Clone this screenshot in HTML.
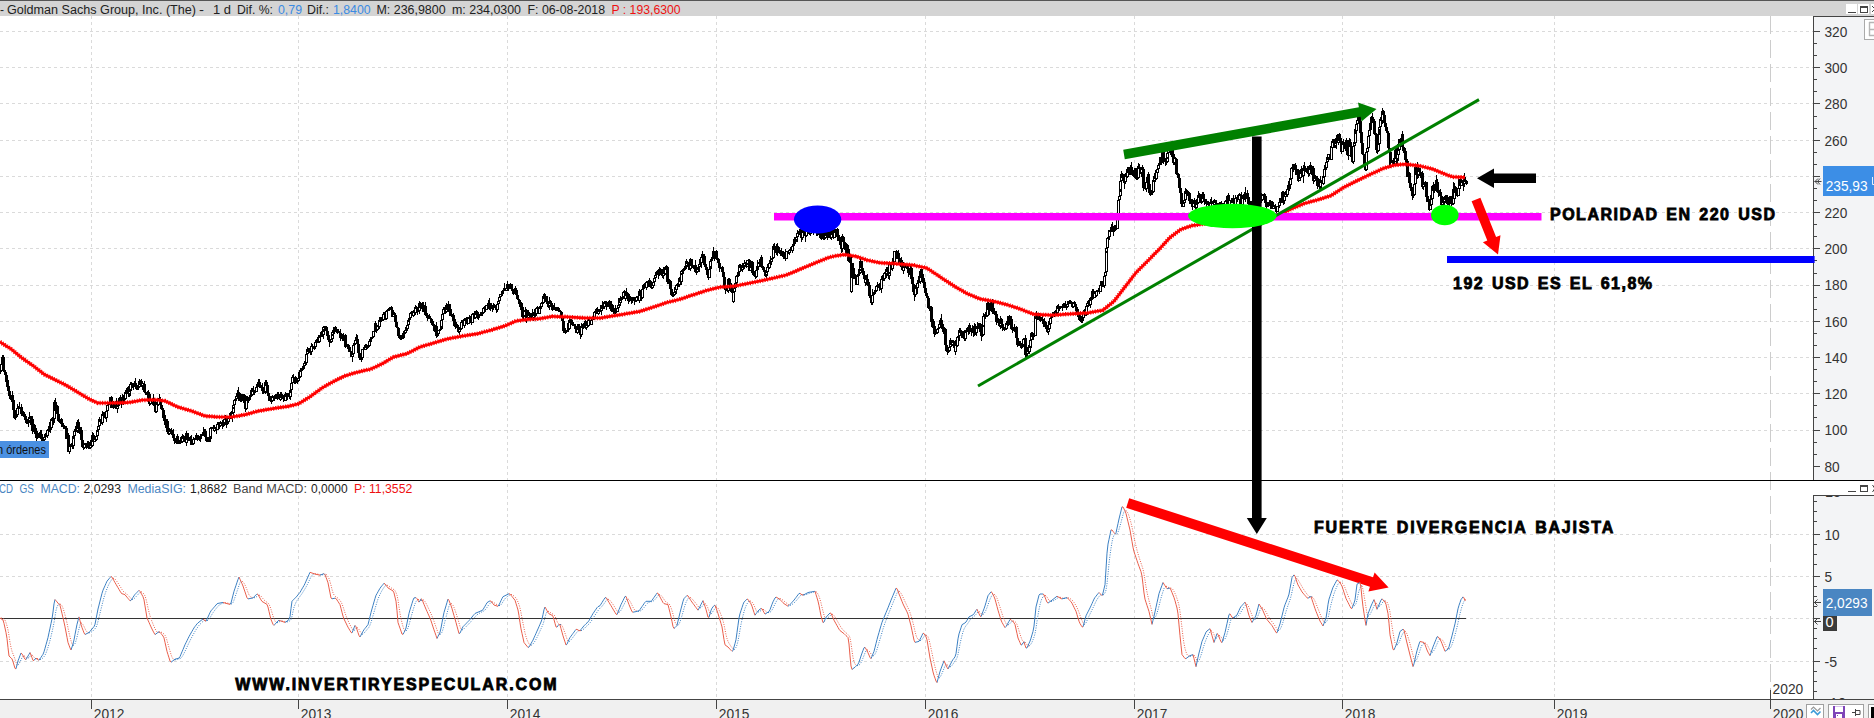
<!DOCTYPE html><html><head><meta charset="utf-8"><title>Goldman Sachs Group chart</title>
<style>html,body{margin:0;padding:0;background:#fff;}body{width:1874px;height:718px;overflow:hidden;position:relative;font-family:"Liberation Sans",sans-serif;}svg{position:absolute;left:0;top:0;display:block}text{font-family:"Liberation Sans",sans-serif;}</style></head><body>
<svg width="1874" height="718" viewBox="0 0 1874 718">
<rect x="0" y="0" width="1874" height="718" fill="#ffffff"/>
<path d="M91.5 16V699M298.5 16V699M507.5 16V699M716.5 16V699M925.5 16V699M1134.5 16V699M1342.5 16V699M1554.5 16V699M0 31.5H1813M0 67.5H1813M0 103.5H1813M0 140.5H1813M0 176.5H1813M0 212.5H1813M0 248.5H1813M0 285.5H1813M0 321.5H1813M0 357.5H1813M0 393.5H1813M0 430.5H1813M0 534.5H1813M0 576.5H1813M0 618.5H1813M0 661.5H1813" stroke="#dadada" stroke-width="1" stroke-dasharray="3 3" fill="none" shape-rendering="crispEdges"/>
<path d="M1770.5 16V699" stroke="#cccccc" stroke-width="1" stroke-dasharray="18 6" fill="none" shape-rendering="crispEdges"/>
<rect x="0" y="0" width="1874" height="16" fill="#d4d4d4"/>
<rect x="0" y="0" width="1874" height="1" fill="#555555"/>
<g fill="#000" shape-rendering="crispEdges"><rect x="0" y="370" width="1" height="4"/><rect x="-1" y="371" width="3" height="1"/><rect x="1" y="363" width="1" height="8"/><rect x="0" y="364" width="3" height="7"/><rect x="1" y="365" width="1" height="5" fill="#fff"/><rect x="2" y="361" width="1" height="5"/><rect x="1" y="363" width="3" height="1"/><rect x="2" y="355" width="1" height="13"/><rect x="1" y="357" width="3" height="6"/><rect x="2" y="358" width="1" height="4" fill="#fff"/><rect x="3" y="355" width="1" height="16"/><rect x="2" y="357" width="3" height="13"/><rect x="4" y="367" width="1" height="7"/><rect x="3" y="370" width="3" height="2"/><rect x="5" y="371" width="1" height="7"/><rect x="4" y="372" width="3" height="3"/><rect x="6" y="374" width="1" height="9"/><rect x="5" y="375" width="3" height="7"/><rect x="7" y="382" width="1" height="6"/><rect x="6" y="382" width="3" height="5"/><rect x="7" y="385" width="1" height="3"/><rect x="6" y="386" width="3" height="1"/><rect x="8" y="380" width="1" height="15"/><rect x="7" y="386" width="3" height="5"/><rect x="9" y="390" width="1" height="7"/><rect x="8" y="391" width="3" height="5"/><rect x="10" y="391" width="1" height="9"/><rect x="9" y="396" width="3" height="3"/><rect x="11" y="396" width="1" height="6"/><rect x="10" y="398" width="3" height="1"/><rect x="12" y="391" width="1" height="8"/><rect x="11" y="395" width="3" height="3"/><rect x="12" y="396" width="1" height="1" fill="#fff"/><rect x="12" y="391" width="1" height="10"/><rect x="11" y="395" width="3" height="5"/><rect x="13" y="399" width="1" height="12"/><rect x="12" y="400" width="3" height="10"/><rect x="14" y="409" width="1" height="10"/><rect x="13" y="410" width="3" height="8"/><rect x="15" y="417" width="1" height="3"/><rect x="14" y="417" width="3" height="1"/><rect x="16" y="411" width="1" height="7"/><rect x="15" y="413" width="3" height="4"/><rect x="16" y="414" width="1" height="2" fill="#fff"/><rect x="16" y="413" width="1" height="5"/><rect x="15" y="413" width="3" height="2"/><rect x="17" y="404" width="1" height="13"/><rect x="16" y="408" width="3" height="7"/><rect x="17" y="409" width="1" height="5" fill="#fff"/><rect x="18" y="406" width="1" height="4"/><rect x="17" y="408" width="3" height="1"/><rect x="19" y="402" width="1" height="7"/><rect x="18" y="407" width="3" height="1"/><rect x="20" y="407" width="1" height="4"/><rect x="19" y="407" width="3" height="1"/><rect x="21" y="404" width="1" height="6"/><rect x="20" y="407" width="3" height="2"/><rect x="21" y="407" width="1" height="9"/><rect x="20" y="409" width="3" height="5"/><rect x="22" y="409" width="1" height="6"/><rect x="21" y="412" width="3" height="2"/><rect x="23" y="411" width="1" height="5"/><rect x="22" y="412" width="3" height="4"/><rect x="24" y="414" width="1" height="6"/><rect x="23" y="416" width="3" height="1"/><rect x="25" y="414" width="1" height="8"/><rect x="24" y="416" width="3" height="3"/><rect x="26" y="419" width="1" height="3"/><rect x="25" y="419" width="3" height="1"/><rect x="26" y="419" width="1" height="4"/><rect x="25" y="420" width="3" height="3"/><rect x="26" y="423" width="3" height="1"/><rect x="28" y="417" width="1" height="10"/><rect x="27" y="421" width="3" height="2"/><rect x="29" y="412" width="1" height="11"/><rect x="28" y="417" width="3" height="4"/><rect x="29" y="418" width="1" height="2" fill="#fff"/><rect x="30" y="416" width="1" height="6"/><rect x="29" y="417" width="3" height="2"/><rect x="31" y="419" width="1" height="7"/><rect x="30" y="419" width="3" height="6"/><rect x="31" y="416" width="1" height="10"/><rect x="30" y="419" width="3" height="6"/><rect x="31" y="420" width="1" height="4" fill="#fff"/><rect x="32" y="416" width="1" height="18"/><rect x="31" y="419" width="3" height="12"/><rect x="33" y="428" width="1" height="4"/><rect x="32" y="429" width="3" height="2"/><rect x="34" y="424" width="1" height="9"/><rect x="33" y="428" width="3" height="1"/><rect x="35" y="425" width="1" height="7"/><rect x="34" y="428" width="3" height="4"/><rect x="35" y="430" width="1" height="5"/><rect x="34" y="432" width="3" height="2"/><rect x="36" y="433" width="1" height="9"/><rect x="35" y="434" width="3" height="4"/><rect x="37" y="431" width="1" height="8"/><rect x="36" y="433" width="3" height="5"/><rect x="37" y="434" width="1" height="3" fill="#fff"/><rect x="38" y="433" width="1" height="5"/><rect x="37" y="433" width="3" height="4"/><rect x="39" y="434" width="1" height="4"/><rect x="38" y="437" width="3" height="1"/><rect x="40" y="430" width="1" height="7"/><rect x="39" y="432" width="3" height="5"/><rect x="40" y="433" width="1" height="3" fill="#fff"/><rect x="40" y="430" width="1" height="5"/><rect x="39" y="432" width="3" height="2"/><rect x="41" y="430" width="1" height="12"/><rect x="40" y="434" width="3" height="5"/><rect x="42" y="439" width="1" height="2"/><rect x="41" y="439" width="3" height="1"/><rect x="43" y="440" width="1" height="3"/><rect x="42" y="440" width="3" height="1"/><rect x="44" y="436" width="1" height="5"/><rect x="43" y="437" width="3" height="3"/><rect x="44" y="438" width="1" height="1" fill="#fff"/><rect x="45" y="433" width="1" height="6"/><rect x="44" y="436" width="3" height="1"/><rect x="45" y="434" width="1" height="5"/><rect x="44" y="434" width="3" height="2"/><rect x="46" y="434" width="1" height="3"/><rect x="45" y="434" width="3" height="2"/><rect x="47" y="429" width="1" height="9"/><rect x="46" y="430" width="3" height="6"/><rect x="47" y="431" width="1" height="4" fill="#fff"/><rect x="48" y="426" width="1" height="6"/><rect x="47" y="430" width="3" height="1"/><rect x="49" y="429" width="1" height="3"/><rect x="48" y="430" width="3" height="1"/><rect x="50" y="419" width="1" height="14"/><rect x="49" y="422" width="3" height="8"/><rect x="50" y="423" width="1" height="6" fill="#fff"/><rect x="50" y="422" width="1" height="8"/><rect x="49" y="422" width="3" height="6"/><rect x="51" y="418" width="1" height="11"/><rect x="50" y="420" width="3" height="8"/><rect x="51" y="421" width="1" height="6" fill="#fff"/><rect x="52" y="417" width="1" height="6"/><rect x="51" y="420" width="3" height="1"/><rect x="53" y="419" width="1" height="6"/><rect x="52" y="419" width="3" height="1"/><rect x="54" y="400" width="1" height="23"/><rect x="53" y="403" width="3" height="16"/><rect x="54" y="404" width="1" height="14" fill="#fff"/><rect x="54" y="400" width="1" height="6"/><rect x="53" y="402" width="3" height="1"/><rect x="55" y="398" width="1" height="16"/><rect x="54" y="402" width="3" height="9"/><rect x="56" y="405" width="1" height="8"/><rect x="55" y="406" width="3" height="5"/><rect x="56" y="407" width="1" height="3" fill="#fff"/><rect x="57" y="405" width="1" height="10"/><rect x="56" y="406" width="3" height="8"/><rect x="58" y="409" width="1" height="13"/><rect x="57" y="414" width="3" height="7"/><rect x="59" y="417" width="1" height="6"/><rect x="58" y="420" width="3" height="1"/><rect x="59" y="418" width="1" height="3"/><rect x="58" y="420" width="3" height="1"/><rect x="60" y="419" width="1" height="5"/><rect x="59" y="419" width="3" height="1"/><rect x="61" y="418" width="1" height="9"/><rect x="60" y="419" width="3" height="5"/><rect x="62" y="422" width="1" height="5"/><rect x="61" y="424" width="3" height="2"/><rect x="63" y="423" width="1" height="6"/><rect x="62" y="426" width="3" height="1"/><rect x="64" y="425" width="1" height="4"/><rect x="63" y="426" width="3" height="1"/><rect x="64" y="426" width="1" height="3"/><rect x="63" y="426" width="3" height="2"/><rect x="65" y="428" width="1" height="3"/><rect x="64" y="428" width="3" height="1"/><rect x="66" y="426" width="1" height="13"/><rect x="65" y="428" width="3" height="11"/><rect x="67" y="432" width="1" height="8"/><rect x="66" y="435" width="3" height="4"/><rect x="67" y="436" width="1" height="2" fill="#fff"/><rect x="68" y="433" width="1" height="15"/><rect x="67" y="435" width="3" height="11"/><rect x="68" y="445" width="1" height="7"/><rect x="67" y="446" width="3" height="6"/><rect x="69" y="442" width="1" height="12"/><rect x="68" y="446" width="3" height="6"/><rect x="69" y="447" width="1" height="4" fill="#fff"/><rect x="70" y="444" width="1" height="5"/><rect x="69" y="446" width="3" height="1"/><rect x="71" y="443" width="1" height="4"/><rect x="70" y="446" width="3" height="1"/><rect x="72" y="445" width="1" height="4"/><rect x="71" y="446" width="3" height="1"/><rect x="73" y="436" width="1" height="13"/><rect x="72" y="438" width="3" height="8"/><rect x="73" y="439" width="1" height="6" fill="#fff"/><rect x="73" y="435" width="1" height="4"/><rect x="72" y="436" width="3" height="2"/><rect x="74" y="430" width="1" height="8"/><rect x="73" y="431" width="3" height="5"/><rect x="74" y="432" width="1" height="3" fill="#fff"/><rect x="75" y="426" width="1" height="7"/><rect x="74" y="429" width="3" height="2"/><rect x="76" y="427" width="1" height="5"/><rect x="75" y="429" width="3" height="2"/><rect x="77" y="420" width="1" height="13"/><rect x="76" y="422" width="3" height="9"/><rect x="77" y="423" width="1" height="7" fill="#fff"/><rect x="78" y="419" width="1" height="7"/><rect x="77" y="422" width="3" height="4"/><rect x="78" y="425" width="1" height="5"/><rect x="77" y="426" width="3" height="3"/><rect x="79" y="428" width="1" height="6"/><rect x="78" y="429" width="3" height="4"/><rect x="80" y="427" width="1" height="9"/><rect x="79" y="430" width="3" height="3"/><rect x="80" y="431" width="1" height="1" fill="#fff"/><rect x="81" y="427" width="1" height="15"/><rect x="80" y="430" width="3" height="10"/><rect x="82" y="439" width="1" height="4"/><rect x="81" y="440" width="3" height="2"/><rect x="82" y="442" width="1" height="6"/><rect x="81" y="442" width="3" height="5"/><rect x="83" y="447" width="1" height="3"/><rect x="82" y="447" width="3" height="1"/><rect x="84" y="443" width="1" height="6"/><rect x="83" y="444" width="3" height="4"/><rect x="84" y="445" width="1" height="2" fill="#fff"/><rect x="85" y="443" width="1" height="3"/><rect x="84" y="444" width="3" height="1"/><rect x="86" y="444" width="1" height="5"/><rect x="85" y="445" width="3" height="3"/><rect x="87" y="443" width="1" height="5"/><rect x="86" y="444" width="3" height="4"/><rect x="87" y="445" width="1" height="2" fill="#fff"/><rect x="87" y="441" width="1" height="5"/><rect x="86" y="443" width="3" height="1"/><rect x="88" y="441" width="1" height="8"/><rect x="87" y="443" width="3" height="4"/><rect x="89" y="446" width="1" height="3"/><rect x="88" y="447" width="3" height="1"/><rect x="90" y="440" width="1" height="9"/><rect x="89" y="442" width="3" height="6"/><rect x="90" y="443" width="1" height="4" fill="#fff"/><rect x="91" y="440" width="1" height="7"/><rect x="90" y="442" width="3" height="4"/><rect x="92" y="433" width="1" height="14"/><rect x="91" y="435" width="3" height="11"/><rect x="92" y="436" width="1" height="9" fill="#fff"/><rect x="92" y="432" width="1" height="5"/><rect x="91" y="435" width="3" height="1"/><rect x="93" y="433" width="1" height="10"/><rect x="92" y="435" width="3" height="7"/><rect x="93" y="438" width="3" height="4"/><rect x="94" y="439" width="1" height="2" fill="#fff"/><rect x="95" y="437" width="1" height="3"/><rect x="94" y="438" width="3" height="2"/><rect x="96" y="434" width="1" height="7"/><rect x="95" y="436" width="3" height="4"/><rect x="96" y="437" width="1" height="2" fill="#fff"/><rect x="97" y="429" width="1" height="10"/><rect x="96" y="431" width="3" height="5"/><rect x="97" y="432" width="1" height="3" fill="#fff"/><rect x="97" y="429" width="1" height="2"/><rect x="96" y="430" width="3" height="1"/><rect x="98" y="424" width="1" height="7"/><rect x="97" y="426" width="3" height="4"/><rect x="98" y="427" width="1" height="2" fill="#fff"/><rect x="99" y="417" width="1" height="12"/><rect x="98" y="419" width="3" height="7"/><rect x="99" y="420" width="1" height="5" fill="#fff"/><rect x="99" y="419" width="3" height="3"/><rect x="101" y="419" width="1" height="3"/><rect x="100" y="420" width="3" height="2"/><rect x="101" y="417" width="1" height="7"/><rect x="100" y="420" width="3" height="3"/><rect x="102" y="411" width="1" height="14"/><rect x="101" y="414" width="3" height="9"/><rect x="102" y="415" width="1" height="7" fill="#fff"/><rect x="103" y="412" width="1" height="7"/><rect x="102" y="414" width="3" height="2"/><rect x="104" y="412" width="1" height="6"/><rect x="103" y="414" width="3" height="2"/><rect x="105" y="413" width="1" height="6"/><rect x="104" y="414" width="3" height="1"/><rect x="106" y="413" width="1" height="5"/><rect x="105" y="414" width="3" height="4"/><rect x="106" y="410" width="1" height="12"/><rect x="105" y="411" width="3" height="7"/><rect x="106" y="412" width="1" height="5" fill="#fff"/><rect x="106" y="405" width="3" height="6"/><rect x="107" y="406" width="1" height="4" fill="#fff"/><rect x="108" y="403" width="1" height="2"/><rect x="107" y="404" width="3" height="1"/><rect x="109" y="400" width="1" height="4"/><rect x="108" y="403" width="3" height="1"/><rect x="110" y="397" width="1" height="11"/><rect x="109" y="397" width="3" height="6"/><rect x="110" y="398" width="1" height="4" fill="#fff"/><rect x="111" y="396" width="1" height="7"/><rect x="110" y="397" width="3" height="3"/><rect x="111" y="400" width="1" height="8"/><rect x="110" y="400" width="3" height="7"/><rect x="112" y="404" width="1" height="4"/><rect x="111" y="405" width="3" height="2"/><rect x="113" y="401" width="1" height="8"/><rect x="112" y="403" width="3" height="2"/><rect x="114" y="402" width="1" height="6"/><rect x="113" y="403" width="3" height="1"/><rect x="115" y="401" width="1" height="6"/><rect x="114" y="403" width="3" height="1"/><rect x="116" y="399" width="1" height="9"/><rect x="115" y="401" width="3" height="3"/><rect x="116" y="402" width="1" height="1" fill="#fff"/><rect x="116" y="398" width="1" height="11"/><rect x="115" y="401" width="3" height="8"/><rect x="117" y="401" width="1" height="12"/><rect x="116" y="406" width="3" height="3"/><rect x="117" y="407" width="1" height="1" fill="#fff"/><rect x="118" y="403" width="1" height="4"/><rect x="117" y="404" width="3" height="2"/><rect x="119" y="397" width="1" height="7"/><rect x="118" y="398" width="3" height="6"/><rect x="119" y="399" width="1" height="4" fill="#fff"/><rect x="120" y="395" width="1" height="8"/><rect x="119" y="398" width="3" height="1"/><rect x="120" y="396" width="1" height="7"/><rect x="119" y="399" width="3" height="3"/><rect x="121" y="398" width="1" height="10"/><rect x="120" y="400" width="3" height="2"/><rect x="122" y="394" width="1" height="7"/><rect x="121" y="397" width="3" height="3"/><rect x="122" y="398" width="1" height="1" fill="#fff"/><rect x="123" y="395" width="1" height="10"/><rect x="122" y="397" width="3" height="2"/><rect x="124" y="398" width="1" height="4"/><rect x="123" y="399" width="3" height="1"/><rect x="125" y="390" width="1" height="10"/><rect x="124" y="393" width="3" height="6"/><rect x="125" y="394" width="1" height="4" fill="#fff"/><rect x="125" y="392" width="1" height="2"/><rect x="124" y="392" width="3" height="1"/><rect x="126" y="390" width="1" height="3"/><rect x="125" y="390" width="3" height="2"/><rect x="127" y="387" width="1" height="5"/><rect x="126" y="388" width="3" height="2"/><rect x="128" y="386" width="1" height="11"/><rect x="127" y="388" width="3" height="6"/><rect x="129" y="391" width="1" height="6"/><rect x="128" y="391" width="3" height="3"/><rect x="129" y="392" width="1" height="1" fill="#fff"/><rect x="130" y="387" width="1" height="9"/><rect x="129" y="390" width="3" height="1"/><rect x="130" y="382" width="1" height="10"/><rect x="129" y="384" width="3" height="6"/><rect x="130" y="385" width="1" height="4" fill="#fff"/><rect x="131" y="382" width="1" height="4"/><rect x="130" y="384" width="3" height="1"/><rect x="132" y="383" width="1" height="5"/><rect x="131" y="384" width="3" height="2"/><rect x="133" y="384" width="1" height="6"/><rect x="132" y="385" width="3" height="1"/><rect x="134" y="383" width="1" height="3"/><rect x="133" y="385" width="3" height="1"/><rect x="134" y="381" width="1" height="6"/><rect x="133" y="383" width="3" height="3"/><rect x="134" y="384" width="1" height="1" fill="#fff"/><rect x="135" y="378" width="1" height="9"/><rect x="134" y="383" width="3" height="3"/><rect x="136" y="384" width="1" height="6"/><rect x="135" y="386" width="3" height="3"/><rect x="137" y="385" width="1" height="5"/><rect x="136" y="388" width="3" height="1"/><rect x="138" y="386" width="1" height="4"/><rect x="137" y="387" width="3" height="1"/><rect x="139" y="379" width="1" height="8"/><rect x="138" y="381" width="3" height="6"/><rect x="139" y="382" width="1" height="4" fill="#fff"/><rect x="139" y="379" width="1" height="6"/><rect x="138" y="381" width="3" height="3"/><rect x="140" y="380" width="1" height="5"/><rect x="139" y="381" width="3" height="3"/><rect x="140" y="382" width="1" height="1" fill="#fff"/><rect x="141" y="379" width="1" height="8"/><rect x="140" y="381" width="3" height="5"/><rect x="142" y="382" width="1" height="8"/><rect x="141" y="383" width="3" height="3"/><rect x="142" y="384" width="1" height="1" fill="#fff"/><rect x="143" y="383" width="1" height="3"/><rect x="142" y="383" width="3" height="1"/><rect x="144" y="381" width="1" height="4"/><rect x="143" y="384" width="3" height="1"/><rect x="144" y="384" width="1" height="8"/><rect x="143" y="385" width="3" height="7"/><rect x="145" y="388" width="1" height="7"/><rect x="144" y="392" width="3" height="1"/><rect x="146" y="392" width="1" height="3"/><rect x="145" y="393" width="3" height="2"/><rect x="147" y="391" width="1" height="7"/><rect x="146" y="394" width="3" height="1"/><rect x="148" y="392" width="1" height="10"/><rect x="147" y="394" width="3" height="5"/><rect x="148" y="390" width="1" height="11"/><rect x="147" y="394" width="3" height="5"/><rect x="148" y="395" width="1" height="3" fill="#fff"/><rect x="149" y="392" width="1" height="14"/><rect x="148" y="394" width="3" height="10"/><rect x="150" y="396" width="1" height="9"/><rect x="149" y="400" width="3" height="4"/><rect x="150" y="401" width="1" height="2" fill="#fff"/><rect x="151" y="400" width="1" height="3"/><rect x="150" y="400" width="3" height="1"/><rect x="152" y="400" width="1" height="5"/><rect x="151" y="401" width="3" height="1"/><rect x="153" y="394" width="1" height="8"/><rect x="152" y="398" width="3" height="3"/><rect x="153" y="399" width="1" height="1" fill="#fff"/><rect x="153" y="396" width="1" height="6"/><rect x="152" y="398" width="3" height="3"/><rect x="154" y="399" width="1" height="11"/><rect x="153" y="401" width="3" height="5"/><rect x="155" y="405" width="1" height="8"/><rect x="154" y="406" width="3" height="6"/><rect x="156" y="402" width="1" height="11"/><rect x="155" y="404" width="3" height="8"/><rect x="156" y="405" width="1" height="6" fill="#fff"/><rect x="157" y="402" width="1" height="4"/><rect x="156" y="404" width="3" height="1"/><rect x="158" y="403" width="1" height="3"/><rect x="157" y="404" width="3" height="1"/><rect x="158" y="398" width="1" height="8"/><rect x="157" y="399" width="3" height="6"/><rect x="158" y="400" width="1" height="4" fill="#fff"/><rect x="159" y="394" width="1" height="6"/><rect x="158" y="399" width="3" height="1"/><rect x="160" y="397" width="1" height="10"/><rect x="159" y="399" width="3" height="6"/><rect x="161" y="404" width="1" height="5"/><rect x="160" y="405" width="3" height="4"/><rect x="162" y="408" width="1" height="2"/><rect x="161" y="409" width="3" height="1"/><rect x="163" y="408" width="1" height="13"/><rect x="162" y="410" width="3" height="8"/><rect x="163" y="414" width="1" height="6"/><rect x="162" y="415" width="3" height="3"/><rect x="163" y="416" width="1" height="1" fill="#fff"/><rect x="164" y="411" width="1" height="10"/><rect x="163" y="415" width="3" height="4"/><rect x="165" y="416" width="1" height="11"/><rect x="164" y="419" width="3" height="6"/><rect x="166" y="423" width="1" height="9"/><rect x="165" y="425" width="3" height="3"/><rect x="167" y="421" width="1" height="11"/><rect x="166" y="421" width="3" height="7"/><rect x="167" y="422" width="1" height="5" fill="#fff"/><rect x="167" y="419" width="1" height="12"/><rect x="166" y="421" width="3" height="7"/><rect x="168" y="426" width="1" height="9"/><rect x="167" y="428" width="3" height="6"/><rect x="169" y="429" width="1" height="6"/><rect x="168" y="430" width="3" height="4"/><rect x="169" y="431" width="1" height="2" fill="#fff"/><rect x="170" y="429" width="1" height="5"/><rect x="169" y="430" width="3" height="2"/><rect x="171" y="428" width="1" height="7"/><rect x="170" y="432" width="3" height="1"/><rect x="172" y="430" width="1" height="4"/><rect x="171" y="432" width="3" height="1"/><rect x="172" y="432" width="1" height="4"/><rect x="171" y="432" width="3" height="2"/><rect x="173" y="429" width="1" height="11"/><rect x="172" y="434" width="3" height="4"/><rect x="174" y="435" width="1" height="9"/><rect x="173" y="438" width="3" height="3"/><rect x="175" y="440" width="1" height="3"/><rect x="174" y="441" width="3" height="2"/><rect x="176" y="438" width="1" height="6"/><rect x="175" y="440" width="3" height="3"/><rect x="176" y="441" width="1" height="1" fill="#fff"/><rect x="177" y="436" width="1" height="6"/><rect x="176" y="436" width="3" height="4"/><rect x="177" y="437" width="1" height="2" fill="#fff"/><rect x="177" y="434" width="1" height="10"/><rect x="176" y="436" width="3" height="6"/><rect x="178" y="439" width="1" height="5"/><rect x="177" y="442" width="3" height="1"/><rect x="179" y="440" width="1" height="4"/><rect x="178" y="442" width="3" height="1"/><rect x="180" y="441" width="1" height="3"/><rect x="179" y="441" width="3" height="2"/><rect x="181" y="436" width="1" height="7"/><rect x="180" y="437" width="3" height="4"/><rect x="181" y="438" width="1" height="2" fill="#fff"/><rect x="182" y="434" width="1" height="9"/><rect x="181" y="437" width="3" height="5"/><rect x="182" y="435" width="1" height="8"/><rect x="181" y="436" width="3" height="6"/><rect x="182" y="437" width="1" height="4" fill="#fff"/><rect x="183" y="435" width="1" height="4"/><rect x="182" y="436" width="3" height="3"/><rect x="184" y="439" width="1" height="3"/><rect x="183" y="439" width="3" height="2"/><rect x="185" y="440" width="1" height="2"/><rect x="184" y="441" width="3" height="1"/><rect x="186" y="440" width="1" height="5"/><rect x="185" y="441" width="3" height="2"/><rect x="186" y="431" width="1" height="15"/><rect x="185" y="433" width="3" height="10"/><rect x="186" y="434" width="1" height="8" fill="#fff"/><rect x="187" y="433" width="1" height="9"/><rect x="186" y="433" width="3" height="7"/><rect x="188" y="439" width="1" height="2"/><rect x="187" y="440" width="3" height="1"/><rect x="189" y="437" width="1" height="4"/><rect x="188" y="437" width="3" height="3"/><rect x="189" y="438" width="1" height="1" fill="#fff"/><rect x="190" y="436" width="1" height="5"/><rect x="189" y="437" width="3" height="4"/><rect x="191" y="435" width="1" height="9"/><rect x="190" y="439" width="3" height="2"/><rect x="190" y="439" width="3" height="6"/><rect x="192" y="443" width="1" height="2"/><rect x="191" y="444" width="3" height="1"/><rect x="193" y="437" width="1" height="8"/><rect x="192" y="439" width="3" height="5"/><rect x="193" y="440" width="1" height="3" fill="#fff"/><rect x="194" y="438" width="1" height="2"/><rect x="193" y="438" width="3" height="1"/><rect x="195" y="437" width="1" height="3"/><rect x="194" y="438" width="3" height="1"/><rect x="196" y="434" width="1" height="4"/><rect x="195" y="435" width="3" height="3"/><rect x="196" y="436" width="1" height="1" fill="#fff"/><rect x="196" y="433" width="1" height="7"/><rect x="195" y="435" width="3" height="4"/><rect x="197" y="435" width="1" height="6"/><rect x="196" y="437" width="3" height="2"/><rect x="198" y="435" width="1" height="5"/><rect x="197" y="437" width="3" height="3"/><rect x="199" y="436" width="1" height="5"/><rect x="198" y="439" width="3" height="1"/><rect x="200" y="434" width="1" height="8"/><rect x="199" y="437" width="3" height="2"/><rect x="200" y="436" width="1" height="3"/><rect x="199" y="436" width="3" height="1"/><rect x="201" y="434" width="1" height="3"/><rect x="200" y="435" width="3" height="1"/><rect x="202" y="432" width="1" height="3"/><rect x="201" y="434" width="3" height="1"/><rect x="203" y="427" width="1" height="9"/><rect x="202" y="432" width="3" height="2"/><rect x="204" y="429" width="1" height="5"/><rect x="203" y="432" width="3" height="1"/><rect x="205" y="429" width="1" height="4"/><rect x="204" y="431" width="3" height="1"/><rect x="205" y="431" width="1" height="9"/><rect x="204" y="431" width="3" height="6"/><rect x="206" y="437" width="1" height="5"/><rect x="205" y="437" width="3" height="4"/><rect x="207" y="439" width="1" height="3"/><rect x="206" y="440" width="3" height="1"/><rect x="208" y="437" width="1" height="5"/><rect x="207" y="438" width="3" height="2"/><rect x="209" y="438" width="1" height="4"/><rect x="208" y="438" width="3" height="1"/><rect x="210" y="436" width="1" height="6"/><rect x="209" y="437" width="3" height="2"/><rect x="210" y="427" width="1" height="11"/><rect x="209" y="428" width="3" height="9"/><rect x="210" y="429" width="1" height="7" fill="#fff"/><rect x="211" y="427" width="1" height="4"/><rect x="210" y="428" width="3" height="1"/><rect x="212" y="427" width="1" height="2"/><rect x="211" y="427" width="3" height="1"/><rect x="213" y="425" width="1" height="3"/><rect x="212" y="427" width="3" height="1"/><rect x="214" y="425" width="1" height="7"/><rect x="213" y="427" width="3" height="4"/><rect x="214" y="426" width="1" height="6"/><rect x="213" y="428" width="3" height="3"/><rect x="214" y="429" width="1" height="1" fill="#fff"/><rect x="215" y="427" width="1" height="3"/><rect x="214" y="428" width="3" height="1"/><rect x="216" y="429" width="1" height="5"/><rect x="215" y="429" width="3" height="1"/><rect x="217" y="422" width="1" height="8"/><rect x="216" y="424" width="3" height="6"/><rect x="217" y="425" width="1" height="4" fill="#fff"/><rect x="218" y="422" width="1" height="3"/><rect x="217" y="424" width="3" height="1"/><rect x="219" y="423" width="1" height="3"/><rect x="218" y="424" width="3" height="1"/><rect x="219" y="423" width="1" height="6"/><rect x="218" y="424" width="3" height="2"/><rect x="220" y="421" width="1" height="6"/><rect x="219" y="422" width="3" height="4"/><rect x="220" y="423" width="1" height="2" fill="#fff"/><rect x="221" y="422" width="1" height="4"/><rect x="220" y="422" width="3" height="2"/><rect x="222" y="420" width="1" height="9"/><rect x="221" y="424" width="3" height="1"/><rect x="223" y="425" width="1" height="2"/><rect x="222" y="425" width="3" height="1"/><rect x="224" y="421" width="1" height="5"/><rect x="223" y="423" width="3" height="2"/><rect x="224" y="417" width="1" height="8"/><rect x="223" y="419" width="3" height="4"/><rect x="224" y="420" width="1" height="2" fill="#fff"/><rect x="225" y="415" width="1" height="5"/><rect x="224" y="417" width="3" height="2"/><rect x="226" y="417" width="1" height="11"/><rect x="225" y="417" width="3" height="7"/><rect x="227" y="421" width="1" height="4"/><rect x="226" y="422" width="3" height="2"/><rect x="228" y="417" width="1" height="6"/><rect x="227" y="418" width="3" height="4"/><rect x="228" y="419" width="1" height="2" fill="#fff"/><rect x="229" y="418" width="1" height="4"/><rect x="228" y="418" width="3" height="1"/><rect x="229" y="417" width="1" height="3"/><rect x="228" y="417" width="3" height="1"/><rect x="230" y="412" width="1" height="6"/><rect x="229" y="413" width="3" height="4"/><rect x="230" y="414" width="1" height="2" fill="#fff"/><rect x="231" y="411" width="1" height="8"/><rect x="230" y="413" width="3" height="4"/><rect x="232" y="410" width="1" height="12"/><rect x="231" y="413" width="3" height="4"/><rect x="232" y="414" width="1" height="2" fill="#fff"/><rect x="233" y="403" width="1" height="10"/><rect x="232" y="408" width="3" height="5"/><rect x="233" y="409" width="1" height="3" fill="#fff"/><rect x="233" y="401" width="1" height="8"/><rect x="232" y="405" width="3" height="3"/><rect x="233" y="406" width="1" height="1" fill="#fff"/><rect x="234" y="399" width="1" height="8"/><rect x="233" y="400" width="3" height="5"/><rect x="234" y="401" width="1" height="3" fill="#fff"/><rect x="235" y="399" width="1" height="2"/><rect x="234" y="399" width="3" height="1"/><rect x="236" y="395" width="1" height="6"/><rect x="235" y="396" width="3" height="3"/><rect x="236" y="397" width="1" height="1" fill="#fff"/><rect x="237" y="390" width="1" height="8"/><rect x="236" y="393" width="3" height="3"/><rect x="237" y="394" width="1" height="1" fill="#fff"/><rect x="238" y="392" width="1" height="5"/><rect x="237" y="393" width="3" height="1"/><rect x="238" y="387" width="1" height="14"/><rect x="237" y="393" width="3" height="6"/><rect x="239" y="392" width="1" height="9"/><rect x="238" y="394" width="3" height="5"/><rect x="239" y="395" width="1" height="3" fill="#fff"/><rect x="240" y="393" width="1" height="9"/><rect x="239" y="394" width="3" height="6"/><rect x="241" y="394" width="1" height="8"/><rect x="240" y="394" width="3" height="6"/><rect x="241" y="395" width="1" height="4" fill="#fff"/><rect x="241" y="394" width="3" height="6"/><rect x="243" y="399" width="1" height="4"/><rect x="242" y="400" width="3" height="1"/><rect x="243" y="399" width="1" height="2"/><rect x="242" y="399" width="3" height="1"/><rect x="244" y="394" width="1" height="8"/><rect x="243" y="396" width="3" height="3"/><rect x="244" y="397" width="1" height="1" fill="#fff"/><rect x="245" y="395" width="1" height="17"/><rect x="244" y="396" width="3" height="13"/><rect x="246" y="399" width="1" height="11"/><rect x="245" y="400" width="3" height="9"/><rect x="246" y="401" width="1" height="7" fill="#fff"/><rect x="247" y="396" width="1" height="4"/><rect x="246" y="399" width="3" height="1"/><rect x="248" y="398" width="1" height="5"/><rect x="247" y="399" width="3" height="1"/><rect x="248" y="397" width="1" height="4"/><rect x="247" y="398" width="3" height="2"/><rect x="249" y="397" width="1" height="4"/><rect x="248" y="397" width="3" height="1"/><rect x="250" y="392" width="1" height="8"/><rect x="249" y="395" width="3" height="2"/><rect x="251" y="388" width="1" height="9"/><rect x="250" y="390" width="3" height="5"/><rect x="251" y="391" width="1" height="3" fill="#fff"/><rect x="252" y="389" width="1" height="7"/><rect x="251" y="390" width="3" height="5"/><rect x="252" y="388" width="1" height="8"/><rect x="251" y="390" width="3" height="5"/><rect x="252" y="391" width="1" height="3" fill="#fff"/><rect x="253" y="386" width="1" height="6"/><rect x="252" y="390" width="3" height="2"/><rect x="254" y="390" width="1" height="5"/><rect x="253" y="391" width="3" height="1"/><rect x="255" y="389" width="1" height="4"/><rect x="254" y="391" width="3" height="1"/><rect x="256" y="384" width="1" height="8"/><rect x="255" y="387" width="3" height="5"/><rect x="256" y="388" width="1" height="3" fill="#fff"/><rect x="257" y="383" width="1" height="7"/><rect x="256" y="385" width="3" height="2"/><rect x="257" y="385" width="1" height="5"/><rect x="256" y="385" width="3" height="1"/><rect x="258" y="379" width="1" height="7"/><rect x="257" y="382" width="3" height="3"/><rect x="258" y="383" width="1" height="1" fill="#fff"/><rect x="259" y="379" width="1" height="9"/><rect x="258" y="382" width="3" height="4"/><rect x="260" y="385" width="1" height="3"/><rect x="259" y="386" width="3" height="1"/><rect x="261" y="385" width="1" height="4"/><rect x="260" y="386" width="3" height="1"/><rect x="262" y="383" width="1" height="11"/><rect x="261" y="387" width="3" height="4"/><rect x="262" y="388" width="1" height="4"/><rect x="261" y="390" width="3" height="1"/><rect x="263" y="389" width="1" height="5"/><rect x="262" y="390" width="3" height="3"/><rect x="264" y="391" width="1" height="2"/><rect x="263" y="392" width="3" height="1"/><rect x="265" y="380" width="1" height="14"/><rect x="264" y="382" width="3" height="10"/><rect x="265" y="383" width="1" height="8" fill="#fff"/><rect x="266" y="380" width="1" height="6"/><rect x="265" y="382" width="3" height="3"/><rect x="266" y="385" width="1" height="5"/><rect x="265" y="385" width="3" height="1"/><rect x="267" y="384" width="1" height="9"/><rect x="266" y="385" width="3" height="8"/><rect x="268" y="393" width="1" height="4"/><rect x="267" y="393" width="3" height="3"/><rect x="269" y="395" width="1" height="6"/><rect x="268" y="396" width="3" height="5"/><rect x="270" y="399" width="1" height="2"/><rect x="269" y="400" width="3" height="1"/><rect x="271" y="400" width="1" height="3"/><rect x="270" y="400" width="3" height="2"/><rect x="271" y="399" width="1" height="5"/><rect x="270" y="401" width="3" height="1"/><rect x="272" y="395" width="1" height="7"/><rect x="271" y="396" width="3" height="5"/><rect x="272" y="397" width="1" height="3" fill="#fff"/><rect x="273" y="396" width="1" height="3"/><rect x="272" y="396" width="3" height="2"/><rect x="274" y="395" width="1" height="6"/><rect x="273" y="397" width="3" height="1"/><rect x="275" y="396" width="1" height="3"/><rect x="274" y="397" width="3" height="1"/><rect x="276" y="394" width="1" height="5"/><rect x="275" y="394" width="3" height="3"/><rect x="276" y="395" width="1" height="1" fill="#fff"/><rect x="275" y="394" width="3" height="5"/><rect x="277" y="392" width="1" height="8"/><rect x="276" y="394" width="3" height="5"/><rect x="277" y="395" width="1" height="3" fill="#fff"/><rect x="278" y="392" width="1" height="6"/><rect x="277" y="394" width="3" height="4"/><rect x="279" y="394" width="1" height="5"/><rect x="278" y="395" width="3" height="3"/><rect x="279" y="396" width="1" height="1" fill="#fff"/><rect x="280" y="392" width="1" height="8"/><rect x="279" y="395" width="3" height="5"/><rect x="280" y="392" width="1" height="9"/><rect x="279" y="394" width="3" height="6"/><rect x="280" y="395" width="1" height="4" fill="#fff"/><rect x="281" y="392" width="1" height="7"/><rect x="280" y="394" width="3" height="4"/><rect x="282" y="394" width="1" height="5"/><rect x="281" y="395" width="3" height="3"/><rect x="282" y="396" width="1" height="1" fill="#fff"/><rect x="283" y="395" width="1" height="7"/><rect x="282" y="395" width="3" height="4"/><rect x="283" y="399" width="3" height="2"/><rect x="285" y="393" width="1" height="8"/><rect x="284" y="394" width="3" height="7"/><rect x="285" y="395" width="1" height="5" fill="#fff"/><rect x="285" y="392" width="1" height="4"/><rect x="284" y="394" width="3" height="1"/><rect x="286" y="393" width="1" height="4"/><rect x="285" y="395" width="3" height="2"/><rect x="287" y="395" width="1" height="5"/><rect x="286" y="396" width="3" height="1"/><rect x="288" y="393" width="1" height="4"/><rect x="287" y="393" width="3" height="3"/><rect x="288" y="394" width="1" height="1" fill="#fff"/><rect x="289" y="393" width="1" height="6"/><rect x="288" y="393" width="3" height="4"/><rect x="290" y="391" width="1" height="9"/><rect x="289" y="391" width="3" height="6"/><rect x="290" y="392" width="1" height="4" fill="#fff"/><rect x="290" y="389" width="1" height="4"/><rect x="289" y="390" width="3" height="1"/><rect x="291" y="383" width="1" height="8"/><rect x="290" y="383" width="3" height="7"/><rect x="291" y="384" width="1" height="5" fill="#fff"/><rect x="292" y="375" width="1" height="11"/><rect x="291" y="377" width="3" height="6"/><rect x="292" y="378" width="1" height="4" fill="#fff"/><rect x="293" y="374" width="1" height="5"/><rect x="292" y="377" width="3" height="1"/><rect x="294" y="378" width="1" height="6"/><rect x="293" y="378" width="3" height="5"/><rect x="295" y="376" width="1" height="8"/><rect x="294" y="377" width="3" height="6"/><rect x="295" y="378" width="1" height="4" fill="#fff"/><rect x="295" y="376" width="1" height="4"/><rect x="294" y="377" width="3" height="3"/><rect x="295" y="380" width="3" height="2"/><rect x="297" y="378" width="1" height="6"/><rect x="296" y="381" width="3" height="1"/><rect x="298" y="376" width="1" height="6"/><rect x="297" y="378" width="3" height="3"/><rect x="298" y="379" width="1" height="1" fill="#fff"/><rect x="299" y="370" width="1" height="10"/><rect x="298" y="372" width="3" height="6"/><rect x="299" y="373" width="1" height="4" fill="#fff"/><rect x="299" y="371" width="1" height="7"/><rect x="298" y="372" width="3" height="5"/><rect x="300" y="368" width="1" height="9"/><rect x="299" y="371" width="3" height="6"/><rect x="300" y="372" width="1" height="4" fill="#fff"/><rect x="301" y="368" width="1" height="5"/><rect x="300" y="370" width="3" height="1"/><rect x="302" y="367" width="1" height="4"/><rect x="301" y="368" width="3" height="2"/><rect x="303" y="365" width="1" height="4"/><rect x="302" y="366" width="3" height="2"/><rect x="304" y="361" width="1" height="8"/><rect x="303" y="363" width="3" height="3"/><rect x="304" y="364" width="1" height="1" fill="#fff"/><rect x="303" y="363" width="3" height="1"/><rect x="305" y="363" width="1" height="2"/><rect x="304" y="363" width="3" height="1"/><rect x="306" y="354" width="1" height="11"/><rect x="305" y="354" width="3" height="9"/><rect x="306" y="355" width="1" height="7" fill="#fff"/><rect x="307" y="347" width="1" height="8"/><rect x="306" y="349" width="3" height="5"/><rect x="307" y="350" width="1" height="3" fill="#fff"/><rect x="308" y="348" width="1" height="5"/><rect x="307" y="349" width="3" height="3"/><rect x="309" y="350" width="1" height="3"/><rect x="308" y="350" width="3" height="2"/><rect x="309" y="348" width="1" height="4"/><rect x="308" y="350" width="3" height="1"/><rect x="310" y="349" width="1" height="6"/><rect x="309" y="351" width="3" height="1"/><rect x="311" y="343" width="1" height="12"/><rect x="310" y="346" width="3" height="6"/><rect x="311" y="347" width="1" height="4" fill="#fff"/><rect x="312" y="344" width="1" height="8"/><rect x="311" y="346" width="3" height="1"/><rect x="313" y="347" width="1" height="2"/><rect x="312" y="347" width="3" height="1"/><rect x="314" y="346" width="1" height="4"/><rect x="313" y="347" width="3" height="1"/><rect x="314" y="347" width="1" height="3"/><rect x="313" y="347" width="3" height="1"/><rect x="315" y="340" width="1" height="9"/><rect x="314" y="342" width="3" height="5"/><rect x="315" y="343" width="1" height="3" fill="#fff"/><rect x="316" y="339" width="1" height="3"/><rect x="315" y="340" width="3" height="2"/><rect x="317" y="337" width="1" height="6"/><rect x="316" y="340" width="3" height="1"/><rect x="318" y="335" width="1" height="7"/><rect x="317" y="337" width="3" height="4"/><rect x="318" y="338" width="1" height="2" fill="#fff"/><rect x="318" y="336" width="1" height="7"/><rect x="317" y="337" width="3" height="5"/><rect x="319" y="337" width="1" height="6"/><rect x="318" y="337" width="3" height="5"/><rect x="319" y="338" width="1" height="3" fill="#fff"/><rect x="320" y="334" width="1" height="5"/><rect x="319" y="335" width="3" height="2"/><rect x="321" y="331" width="1" height="5"/><rect x="320" y="332" width="3" height="3"/><rect x="321" y="333" width="1" height="1" fill="#fff"/><rect x="322" y="331" width="1" height="6"/><rect x="321" y="332" width="3" height="3"/><rect x="323" y="328" width="1" height="11"/><rect x="322" y="330" width="3" height="5"/><rect x="323" y="331" width="1" height="3" fill="#fff"/><rect x="323" y="326" width="1" height="6"/><rect x="322" y="327" width="3" height="3"/><rect x="323" y="328" width="1" height="1" fill="#fff"/><rect x="324" y="326" width="1" height="3"/><rect x="323" y="327" width="3" height="1"/><rect x="325" y="326" width="1" height="5"/><rect x="324" y="327" width="3" height="1"/><rect x="326" y="326" width="1" height="7"/><rect x="325" y="327" width="3" height="4"/><rect x="327" y="330" width="1" height="10"/><rect x="326" y="331" width="3" height="5"/><rect x="328" y="335" width="1" height="2"/><rect x="327" y="335" width="3" height="1"/><rect x="328" y="334" width="1" height="7"/><rect x="327" y="335" width="3" height="5"/><rect x="329" y="338" width="1" height="9"/><rect x="328" y="340" width="3" height="2"/><rect x="329" y="342" width="3" height="1"/><rect x="330" y="339" width="3" height="3"/><rect x="331" y="340" width="1" height="1" fill="#fff"/><rect x="332" y="335" width="1" height="6"/><rect x="331" y="335" width="3" height="4"/><rect x="332" y="336" width="1" height="2" fill="#fff"/><rect x="332" y="330" width="1" height="6"/><rect x="331" y="332" width="3" height="3"/><rect x="332" y="333" width="1" height="1" fill="#fff"/><rect x="333" y="332" width="1" height="4"/><rect x="332" y="332" width="3" height="1"/><rect x="334" y="327" width="1" height="7"/><rect x="333" y="327" width="3" height="5"/><rect x="334" y="328" width="1" height="3" fill="#fff"/><rect x="335" y="326" width="1" height="6"/><rect x="334" y="327" width="3" height="4"/><rect x="335" y="331" width="3" height="1"/><rect x="337" y="329" width="1" height="4"/><rect x="336" y="331" width="3" height="2"/><rect x="337" y="330" width="1" height="4"/><rect x="336" y="331" width="3" height="2"/><rect x="338" y="329" width="1" height="4"/><rect x="337" y="331" width="3" height="1"/><rect x="339" y="331" width="1" height="3"/><rect x="338" y="332" width="3" height="1"/><rect x="340" y="329" width="1" height="12"/><rect x="339" y="333" width="3" height="5"/><rect x="341" y="335" width="1" height="4"/><rect x="340" y="336" width="3" height="2"/><rect x="342" y="336" width="1" height="4"/><rect x="341" y="336" width="3" height="1"/><rect x="342" y="334" width="1" height="4"/><rect x="341" y="335" width="3" height="2"/><rect x="343" y="333" width="1" height="8"/><rect x="342" y="335" width="3" height="6"/><rect x="344" y="335" width="1" height="8"/><rect x="343" y="335" width="3" height="6"/><rect x="344" y="336" width="1" height="4" fill="#fff"/><rect x="345" y="334" width="1" height="14"/><rect x="344" y="335" width="3" height="12"/><rect x="346" y="344" width="1" height="3"/><rect x="345" y="345" width="3" height="2"/><rect x="346" y="343" width="1" height="4"/><rect x="345" y="345" width="3" height="2"/><rect x="347" y="344" width="1" height="5"/><rect x="346" y="345" width="3" height="2"/><rect x="348" y="344" width="1" height="6"/><rect x="347" y="345" width="3" height="2"/><rect x="349" y="345" width="1" height="7"/><rect x="348" y="347" width="3" height="5"/><rect x="350" y="349" width="1" height="5"/><rect x="349" y="351" width="3" height="1"/><rect x="350" y="351" width="3" height="3"/><rect x="350" y="354" width="3" height="3"/><rect x="352" y="352" width="1" height="10"/><rect x="351" y="354" width="3" height="3"/><rect x="352" y="355" width="1" height="1" fill="#fff"/><rect x="353" y="343" width="1" height="12"/><rect x="352" y="345" width="3" height="9"/><rect x="353" y="346" width="1" height="7" fill="#fff"/><rect x="354" y="343" width="1" height="2"/><rect x="353" y="344" width="3" height="1"/><rect x="355" y="339" width="1" height="5"/><rect x="354" y="340" width="3" height="4"/><rect x="355" y="341" width="1" height="2" fill="#fff"/><rect x="356" y="336" width="1" height="6"/><rect x="355" y="337" width="3" height="3"/><rect x="356" y="338" width="1" height="1" fill="#fff"/><rect x="356" y="334" width="1" height="6"/><rect x="355" y="337" width="3" height="2"/><rect x="357" y="335" width="1" height="11"/><rect x="356" y="339" width="3" height="5"/><rect x="358" y="343" width="1" height="10"/><rect x="357" y="344" width="3" height="9"/><rect x="359" y="352" width="1" height="8"/><rect x="358" y="353" width="3" height="5"/><rect x="359" y="358" width="3" height="2"/><rect x="361" y="355" width="1" height="7"/><rect x="360" y="356" width="3" height="4"/><rect x="361" y="357" width="1" height="2" fill="#fff"/><rect x="361" y="355" width="1" height="5"/><rect x="360" y="356" width="3" height="2"/><rect x="362" y="349" width="1" height="10"/><rect x="361" y="349" width="3" height="9"/><rect x="362" y="350" width="1" height="7" fill="#fff"/><rect x="363" y="347" width="1" height="4"/><rect x="362" y="349" width="3" height="1"/><rect x="364" y="347" width="1" height="3"/><rect x="363" y="349" width="3" height="1"/><rect x="365" y="346" width="1" height="4"/><rect x="364" y="347" width="3" height="3"/><rect x="365" y="348" width="1" height="1" fill="#fff"/><rect x="365" y="344" width="1" height="4"/><rect x="364" y="345" width="3" height="2"/><rect x="366" y="344" width="1" height="5"/><rect x="365" y="345" width="3" height="2"/><rect x="367" y="345" width="1" height="4"/><rect x="366" y="347" width="3" height="1"/><rect x="368" y="345" width="1" height="2"/><rect x="367" y="346" width="3" height="1"/><rect x="369" y="339" width="1" height="8"/><rect x="368" y="341" width="3" height="5"/><rect x="369" y="342" width="1" height="3" fill="#fff"/><rect x="370" y="340" width="1" height="3"/><rect x="369" y="341" width="3" height="1"/><rect x="370" y="338" width="1" height="3"/><rect x="369" y="339" width="3" height="2"/><rect x="371" y="337" width="1" height="3"/><rect x="370" y="337" width="3" height="2"/><rect x="372" y="335" width="1" height="4"/><rect x="371" y="337" width="3" height="1"/><rect x="373" y="331" width="1" height="7"/><rect x="372" y="331" width="3" height="6"/><rect x="373" y="332" width="1" height="4" fill="#fff"/><rect x="374" y="330" width="1" height="3"/><rect x="373" y="331" width="3" height="1"/><rect x="375" y="321" width="1" height="11"/><rect x="374" y="323" width="3" height="8"/><rect x="375" y="324" width="1" height="6" fill="#fff"/><rect x="375" y="322" width="1" height="8"/><rect x="374" y="323" width="3" height="6"/><rect x="376" y="328" width="1" height="5"/><rect x="375" y="329" width="3" height="1"/><rect x="377" y="325" width="1" height="6"/><rect x="376" y="325" width="3" height="5"/><rect x="377" y="326" width="1" height="3" fill="#fff"/><rect x="378" y="325" width="1" height="3"/><rect x="377" y="325" width="3" height="2"/><rect x="379" y="317" width="1" height="12"/><rect x="378" y="320" width="3" height="7"/><rect x="379" y="321" width="1" height="5" fill="#fff"/><rect x="380" y="319" width="1" height="3"/><rect x="379" y="320" width="3" height="2"/><rect x="380" y="317" width="1" height="6"/><rect x="379" y="318" width="3" height="4"/><rect x="380" y="319" width="1" height="2" fill="#fff"/><rect x="381" y="317" width="1" height="4"/><rect x="380" y="318" width="3" height="3"/><rect x="382" y="318" width="1" height="3"/><rect x="381" y="320" width="3" height="1"/><rect x="383" y="312" width="1" height="8"/><rect x="382" y="314" width="3" height="6"/><rect x="383" y="315" width="1" height="4" fill="#fff"/><rect x="384" y="313" width="1" height="6"/><rect x="383" y="314" width="3" height="1"/><rect x="384" y="312" width="1" height="4"/><rect x="383" y="313" width="3" height="1"/><rect x="385" y="311" width="1" height="9"/><rect x="384" y="313" width="3" height="6"/><rect x="386" y="311" width="1" height="9"/><rect x="385" y="311" width="3" height="8"/><rect x="386" y="312" width="1" height="6" fill="#fff"/><rect x="387" y="310" width="1" height="3"/><rect x="386" y="310" width="3" height="1"/><rect x="388" y="308" width="1" height="3"/><rect x="387" y="309" width="3" height="1"/><rect x="389" y="307" width="1" height="3"/><rect x="388" y="309" width="3" height="1"/><rect x="389" y="308" width="1" height="3"/><rect x="388" y="309" width="3" height="1"/><rect x="390" y="307" width="1" height="3"/><rect x="389" y="307" width="3" height="2"/><rect x="391" y="306" width="1" height="6"/><rect x="390" y="307" width="3" height="3"/><rect x="392" y="309" width="1" height="8"/><rect x="391" y="310" width="3" height="7"/><rect x="392" y="314" width="3" height="3"/><rect x="393" y="315" width="1" height="1" fill="#fff"/><rect x="394" y="312" width="1" height="3"/><rect x="393" y="314" width="3" height="1"/><rect x="394" y="313" width="1" height="4"/><rect x="393" y="314" width="3" height="1"/><rect x="395" y="313" width="1" height="11"/><rect x="394" y="315" width="3" height="7"/><rect x="396" y="322" width="1" height="6"/><rect x="395" y="322" width="3" height="5"/><rect x="397" y="325" width="1" height="4"/><rect x="396" y="327" width="3" height="1"/><rect x="398" y="328" width="1" height="8"/><rect x="397" y="328" width="3" height="7"/><rect x="398" y="334" width="1" height="4"/><rect x="397" y="335" width="3" height="1"/><rect x="399" y="334" width="1" height="4"/><rect x="398" y="335" width="3" height="2"/><rect x="400" y="336" width="1" height="4"/><rect x="399" y="337" width="3" height="2"/><rect x="401" y="335" width="1" height="5"/><rect x="400" y="337" width="3" height="2"/><rect x="402" y="336" width="1" height="2"/><rect x="401" y="337" width="3" height="1"/><rect x="403" y="331" width="1" height="8"/><rect x="402" y="334" width="3" height="4"/><rect x="403" y="335" width="1" height="2" fill="#fff"/><rect x="403" y="332" width="1" height="5"/><rect x="402" y="333" width="3" height="1"/><rect x="404" y="332" width="1" height="2"/><rect x="403" y="333" width="3" height="1"/><rect x="405" y="327" width="1" height="6"/><rect x="404" y="330" width="3" height="3"/><rect x="405" y="331" width="1" height="1" fill="#fff"/><rect x="406" y="327" width="1" height="6"/><rect x="405" y="329" width="3" height="1"/><rect x="407" y="324" width="1" height="7"/><rect x="406" y="325" width="3" height="4"/><rect x="407" y="326" width="1" height="2" fill="#fff"/><rect x="408" y="319" width="1" height="6"/><rect x="407" y="321" width="3" height="4"/><rect x="408" y="322" width="1" height="2" fill="#fff"/><rect x="408" y="318" width="1" height="4"/><rect x="407" y="320" width="3" height="1"/><rect x="409" y="316" width="1" height="5"/><rect x="408" y="318" width="3" height="2"/><rect x="410" y="312" width="1" height="7"/><rect x="409" y="313" width="3" height="5"/><rect x="410" y="314" width="1" height="3" fill="#fff"/><rect x="411" y="311" width="1" height="4"/><rect x="410" y="313" width="3" height="1"/><rect x="412" y="312" width="1" height="4"/><rect x="411" y="313" width="3" height="1"/><rect x="411" y="313" width="3" height="3"/><rect x="413" y="310" width="1" height="7"/><rect x="412" y="311" width="3" height="5"/><rect x="413" y="312" width="1" height="3" fill="#fff"/><rect x="414" y="310" width="1" height="5"/><rect x="413" y="311" width="3" height="2"/><rect x="415" y="305" width="1" height="10"/><rect x="414" y="307" width="3" height="6"/><rect x="415" y="308" width="1" height="4" fill="#fff"/><rect x="416" y="306" width="1" height="4"/><rect x="415" y="307" width="3" height="2"/><rect x="417" y="308" width="1" height="6"/><rect x="416" y="309" width="3" height="3"/><rect x="417" y="308" width="1" height="7"/><rect x="416" y="308" width="3" height="4"/><rect x="417" y="309" width="1" height="2" fill="#fff"/><rect x="418" y="305" width="1" height="7"/><rect x="417" y="308" width="3" height="3"/><rect x="419" y="301" width="1" height="13"/><rect x="418" y="303" width="3" height="8"/><rect x="419" y="304" width="1" height="6" fill="#fff"/><rect x="420" y="302" width="1" height="6"/><rect x="419" y="303" width="3" height="5"/><rect x="421" y="305" width="1" height="4"/><rect x="420" y="308" width="3" height="1"/><rect x="422" y="304" width="1" height="4"/><rect x="421" y="307" width="3" height="1"/><rect x="422" y="302" width="1" height="7"/><rect x="421" y="305" width="3" height="2"/><rect x="423" y="302" width="1" height="10"/><rect x="422" y="305" width="3" height="7"/><rect x="424" y="305" width="1" height="7"/><rect x="423" y="306" width="3" height="6"/><rect x="424" y="307" width="1" height="4" fill="#fff"/><rect x="425" y="302" width="1" height="14"/><rect x="424" y="306" width="3" height="9"/><rect x="426" y="313" width="1" height="4"/><rect x="425" y="315" width="3" height="1"/><rect x="427" y="313" width="1" height="6"/><rect x="426" y="315" width="3" height="3"/><rect x="427" y="316" width="1" height="5"/><rect x="426" y="317" width="3" height="1"/><rect x="428" y="315" width="1" height="4"/><rect x="427" y="316" width="3" height="1"/><rect x="429" y="314" width="1" height="4"/><rect x="428" y="316" width="3" height="2"/><rect x="430" y="317" width="1" height="5"/><rect x="429" y="318" width="3" height="1"/><rect x="431" y="318" width="1" height="6"/><rect x="430" y="319" width="3" height="4"/><rect x="431" y="320" width="1" height="5"/><rect x="430" y="321" width="3" height="2"/><rect x="432" y="321" width="1" height="5"/><rect x="431" y="321" width="3" height="3"/><rect x="433" y="324" width="1" height="4"/><rect x="432" y="324" width="3" height="2"/><rect x="434" y="324" width="1" height="8"/><rect x="433" y="326" width="3" height="5"/><rect x="435" y="325" width="1" height="7"/><rect x="434" y="326" width="3" height="5"/><rect x="435" y="327" width="1" height="3" fill="#fff"/><rect x="436" y="322" width="1" height="13"/><rect x="435" y="326" width="3" height="6"/><rect x="436" y="332" width="1" height="6"/><rect x="435" y="332" width="3" height="4"/><rect x="437" y="334" width="1" height="3"/><rect x="436" y="334" width="3" height="2"/><rect x="438" y="330" width="1" height="6"/><rect x="437" y="330" width="3" height="4"/><rect x="438" y="331" width="1" height="2" fill="#fff"/><rect x="439" y="330" width="1" height="4"/><rect x="438" y="330" width="3" height="1"/><rect x="440" y="327" width="1" height="4"/><rect x="439" y="329" width="3" height="1"/><rect x="440" y="327" width="3" height="2"/><rect x="441" y="319" width="1" height="9"/><rect x="440" y="320" width="3" height="7"/><rect x="441" y="321" width="1" height="5" fill="#fff"/><rect x="442" y="313" width="1" height="8"/><rect x="441" y="314" width="3" height="6"/><rect x="442" y="315" width="1" height="4" fill="#fff"/><rect x="443" y="307" width="1" height="7"/><rect x="442" y="309" width="3" height="5"/><rect x="443" y="310" width="1" height="3" fill="#fff"/><rect x="444" y="307" width="1" height="4"/><rect x="443" y="309" width="3" height="1"/><rect x="445" y="307" width="1" height="7"/><rect x="444" y="309" width="3" height="3"/><rect x="446" y="305" width="1" height="8"/><rect x="445" y="305" width="3" height="7"/><rect x="446" y="306" width="1" height="5" fill="#fff"/><rect x="446" y="303" width="1" height="7"/><rect x="445" y="305" width="3" height="4"/><rect x="447" y="306" width="1" height="6"/><rect x="446" y="309" width="3" height="1"/><rect x="448" y="301" width="1" height="10"/><rect x="447" y="304" width="3" height="6"/><rect x="448" y="305" width="1" height="4" fill="#fff"/><rect x="448" y="304" width="3" height="8"/><rect x="450" y="306" width="1" height="7"/><rect x="449" y="309" width="3" height="3"/><rect x="450" y="310" width="1" height="1" fill="#fff"/><rect x="449" y="309" width="3" height="7"/><rect x="451" y="312" width="1" height="5"/><rect x="450" y="314" width="3" height="2"/><rect x="452" y="314" width="1" height="3"/><rect x="451" y="314" width="3" height="1"/><rect x="453" y="313" width="1" height="8"/><rect x="452" y="315" width="3" height="6"/><rect x="454" y="320" width="1" height="7"/><rect x="453" y="321" width="3" height="5"/><rect x="455" y="322" width="1" height="7"/><rect x="454" y="322" width="3" height="4"/><rect x="455" y="323" width="1" height="2" fill="#fff"/><rect x="455" y="319" width="1" height="9"/><rect x="454" y="322" width="3" height="4"/><rect x="456" y="324" width="1" height="4"/><rect x="455" y="325" width="3" height="1"/><rect x="457" y="324" width="1" height="6"/><rect x="456" y="325" width="3" height="2"/><rect x="458" y="325" width="1" height="8"/><rect x="457" y="327" width="3" height="5"/><rect x="459" y="329" width="1" height="6"/><rect x="458" y="329" width="3" height="3"/><rect x="459" y="330" width="1" height="1" fill="#fff"/><rect x="460" y="326" width="1" height="5"/><rect x="459" y="329" width="3" height="1"/><rect x="459" y="329" width="3" height="1"/><rect x="461" y="320" width="1" height="9"/><rect x="460" y="322" width="3" height="7"/><rect x="461" y="323" width="1" height="5" fill="#fff"/><rect x="462" y="320" width="1" height="3"/><rect x="461" y="321" width="3" height="1"/><rect x="463" y="319" width="1" height="3"/><rect x="462" y="321" width="3" height="1"/><rect x="464" y="320" width="1" height="8"/><rect x="463" y="321" width="3" height="5"/><rect x="464" y="318" width="1" height="10"/><rect x="463" y="320" width="3" height="6"/><rect x="464" y="321" width="1" height="4" fill="#fff"/><rect x="465" y="318" width="1" height="3"/><rect x="464" y="319" width="3" height="1"/><rect x="466" y="317" width="1" height="7"/><rect x="465" y="319" width="3" height="2"/><rect x="467" y="320" width="1" height="5"/><rect x="466" y="321" width="3" height="3"/><rect x="467" y="317" width="3" height="7"/><rect x="468" y="318" width="1" height="5" fill="#fff"/><rect x="469" y="315" width="1" height="4"/><rect x="468" y="317" width="3" height="1"/><rect x="469" y="316" width="1" height="3"/><rect x="468" y="318" width="3" height="1"/><rect x="470" y="316" width="1" height="4"/><rect x="469" y="318" width="3" height="2"/><rect x="471" y="318" width="1" height="7"/><rect x="470" y="320" width="3" height="3"/><rect x="472" y="313" width="1" height="10"/><rect x="471" y="314" width="3" height="9"/><rect x="472" y="315" width="1" height="7" fill="#fff"/><rect x="473" y="313" width="1" height="2"/><rect x="472" y="313" width="3" height="1"/><rect x="474" y="311" width="1" height="8"/><rect x="473" y="313" width="3" height="4"/><rect x="474" y="315" width="1" height="4"/><rect x="473" y="317" width="3" height="1"/><rect x="475" y="311" width="1" height="8"/><rect x="474" y="311" width="3" height="7"/><rect x="475" y="312" width="1" height="5" fill="#fff"/><rect x="476" y="310" width="1" height="7"/><rect x="475" y="311" width="3" height="4"/><rect x="477" y="314" width="1" height="5"/><rect x="476" y="315" width="3" height="3"/><rect x="478" y="312" width="1" height="8"/><rect x="477" y="315" width="3" height="3"/><rect x="478" y="316" width="1" height="1" fill="#fff"/><rect x="478" y="313" width="1" height="4"/><rect x="477" y="315" width="3" height="1"/><rect x="479" y="314" width="1" height="3"/><rect x="478" y="315" width="3" height="1"/><rect x="480" y="312" width="1" height="4"/><rect x="479" y="315" width="3" height="1"/><rect x="481" y="313" width="1" height="3"/><rect x="480" y="313" width="3" height="2"/><rect x="482" y="311" width="1" height="5"/><rect x="481" y="312" width="3" height="1"/><rect x="483" y="311" width="1" height="3"/><rect x="482" y="312" width="3" height="1"/><rect x="483" y="307" width="1" height="7"/><rect x="482" y="308" width="3" height="5"/><rect x="483" y="309" width="1" height="3" fill="#fff"/><rect x="484" y="306" width="1" height="3"/><rect x="483" y="308" width="3" height="1"/><rect x="485" y="307" width="1" height="5"/><rect x="484" y="308" width="3" height="2"/><rect x="485" y="305" width="3" height="5"/><rect x="486" y="306" width="1" height="3" fill="#fff"/><rect x="487" y="304" width="1" height="3"/><rect x="486" y="305" width="3" height="1"/><rect x="488" y="303" width="1" height="3"/><rect x="487" y="304" width="3" height="1"/><rect x="488" y="300" width="1" height="5"/><rect x="487" y="303" width="3" height="1"/><rect x="489" y="298" width="1" height="12"/><rect x="488" y="303" width="3" height="6"/><rect x="490" y="304" width="1" height="7"/><rect x="489" y="305" width="3" height="4"/><rect x="490" y="306" width="1" height="2" fill="#fff"/><rect x="491" y="303" width="1" height="6"/><rect x="490" y="305" width="3" height="4"/><rect x="492" y="305" width="1" height="7"/><rect x="491" y="307" width="3" height="2"/><rect x="493" y="303" width="1" height="7"/><rect x="492" y="306" width="3" height="1"/><rect x="493" y="304" width="1" height="3"/><rect x="492" y="305" width="3" height="1"/><rect x="494" y="304" width="1" height="4"/><rect x="493" y="305" width="3" height="2"/><rect x="495" y="305" width="1" height="3"/><rect x="494" y="307" width="3" height="1"/><rect x="496" y="306" width="1" height="7"/><rect x="495" y="307" width="3" height="3"/><rect x="497" y="303" width="1" height="9"/><rect x="496" y="304" width="3" height="6"/><rect x="497" y="305" width="1" height="4" fill="#fff"/><rect x="497" y="302" width="1" height="3"/><rect x="496" y="304" width="3" height="1"/><rect x="498" y="301" width="1" height="4"/><rect x="497" y="301" width="3" height="3"/><rect x="498" y="302" width="1" height="1" fill="#fff"/><rect x="499" y="296" width="1" height="8"/><rect x="498" y="297" width="3" height="4"/><rect x="499" y="298" width="1" height="2" fill="#fff"/><rect x="500" y="294" width="1" height="5"/><rect x="499" y="294" width="3" height="3"/><rect x="500" y="295" width="1" height="1" fill="#fff"/><rect x="501" y="293" width="1" height="2"/><rect x="500" y="294" width="3" height="1"/><rect x="502" y="292" width="1" height="4"/><rect x="501" y="293" width="3" height="1"/><rect x="502" y="290" width="1" height="4"/><rect x="501" y="291" width="3" height="2"/><rect x="503" y="289" width="1" height="4"/><rect x="502" y="290" width="3" height="1"/><rect x="504" y="283" width="1" height="7"/><rect x="503" y="288" width="3" height="2"/><rect x="504" y="288" width="3" height="3"/><rect x="506" y="285" width="1" height="6"/><rect x="505" y="288" width="3" height="3"/><rect x="506" y="289" width="1" height="1" fill="#fff"/><rect x="507" y="283" width="1" height="6"/><rect x="506" y="284" width="3" height="4"/><rect x="507" y="285" width="1" height="2" fill="#fff"/><rect x="507" y="281" width="1" height="6"/><rect x="506" y="284" width="3" height="3"/><rect x="508" y="284" width="1" height="7"/><rect x="507" y="287" width="3" height="1"/><rect x="509" y="285" width="1" height="4"/><rect x="508" y="287" width="3" height="1"/><rect x="510" y="283" width="1" height="4"/><rect x="509" y="284" width="3" height="3"/><rect x="510" y="285" width="1" height="1" fill="#fff"/><rect x="511" y="284" width="1" height="7"/><rect x="510" y="284" width="3" height="5"/><rect x="512" y="289" width="1" height="3"/><rect x="511" y="289" width="3" height="1"/><rect x="512" y="289" width="1" height="5"/><rect x="511" y="289" width="3" height="1"/><rect x="513" y="289" width="1" height="6"/><rect x="512" y="290" width="3" height="3"/><rect x="514" y="288" width="1" height="6"/><rect x="513" y="289" width="3" height="4"/><rect x="514" y="290" width="1" height="2" fill="#fff"/><rect x="515" y="286" width="1" height="6"/><rect x="514" y="289" width="3" height="3"/><rect x="516" y="288" width="1" height="6"/><rect x="515" y="290" width="3" height="2"/><rect x="515" y="290" width="3" height="5"/><rect x="517" y="293" width="1" height="7"/><rect x="516" y="295" width="3" height="4"/><rect x="518" y="298" width="1" height="2"/><rect x="517" y="299" width="3" height="1"/><rect x="519" y="300" width="1" height="7"/><rect x="518" y="300" width="3" height="4"/><rect x="520" y="301" width="1" height="4"/><rect x="519" y="303" width="3" height="1"/><rect x="521" y="302" width="1" height="9"/><rect x="520" y="303" width="3" height="7"/><rect x="521" y="306" width="1" height="5"/><rect x="520" y="307" width="3" height="3"/><rect x="521" y="308" width="1" height="1" fill="#fff"/><rect x="522" y="305" width="1" height="16"/><rect x="521" y="307" width="3" height="10"/><rect x="523" y="315" width="1" height="4"/><rect x="522" y="316" width="3" height="1"/><rect x="524" y="310" width="1" height="7"/><rect x="523" y="311" width="3" height="5"/><rect x="524" y="312" width="1" height="3" fill="#fff"/><rect x="525" y="307" width="1" height="7"/><rect x="524" y="310" width="3" height="1"/><rect x="526" y="309" width="1" height="14"/><rect x="525" y="310" width="3" height="10"/><rect x="526" y="314" width="1" height="9"/><rect x="525" y="315" width="3" height="5"/><rect x="526" y="316" width="1" height="3" fill="#fff"/><rect x="527" y="314" width="1" height="4"/><rect x="526" y="315" width="3" height="3"/><rect x="528" y="310" width="1" height="8"/><rect x="527" y="313" width="3" height="5"/><rect x="528" y="314" width="1" height="3" fill="#fff"/><rect x="529" y="312" width="1" height="5"/><rect x="528" y="313" width="3" height="3"/><rect x="530" y="313" width="1" height="4"/><rect x="529" y="314" width="3" height="2"/><rect x="530" y="314" width="1" height="5"/><rect x="529" y="314" width="3" height="2"/><rect x="531" y="313" width="1" height="4"/><rect x="530" y="314" width="3" height="2"/><rect x="532" y="309" width="1" height="10"/><rect x="531" y="314" width="3" height="4"/><rect x="533" y="312" width="1" height="9"/><rect x="532" y="312" width="3" height="6"/><rect x="533" y="313" width="1" height="4" fill="#fff"/><rect x="534" y="309" width="1" height="9"/><rect x="533" y="312" width="3" height="4"/><rect x="535" y="310" width="1" height="7"/><rect x="534" y="313" width="3" height="3"/><rect x="535" y="314" width="1" height="1" fill="#fff"/><rect x="535" y="313" width="1" height="2"/><rect x="534" y="313" width="3" height="1"/><rect x="536" y="308" width="1" height="7"/><rect x="535" y="308" width="3" height="6"/><rect x="536" y="309" width="1" height="4" fill="#fff"/><rect x="537" y="306" width="1" height="2"/><rect x="536" y="307" width="3" height="1"/><rect x="537" y="307" width="3" height="7"/><rect x="539" y="306" width="1" height="8"/><rect x="538" y="308" width="3" height="6"/><rect x="539" y="309" width="1" height="4" fill="#fff"/><rect x="540" y="307" width="1" height="5"/><rect x="539" y="308" width="3" height="1"/><rect x="540" y="306" width="1" height="3"/><rect x="539" y="307" width="3" height="2"/><rect x="541" y="302" width="1" height="5"/><rect x="540" y="303" width="3" height="4"/><rect x="541" y="304" width="1" height="2" fill="#fff"/><rect x="542" y="301" width="1" height="4"/><rect x="541" y="303" width="3" height="1"/><rect x="543" y="295" width="1" height="8"/><rect x="542" y="296" width="3" height="7"/><rect x="543" y="297" width="1" height="5" fill="#fff"/><rect x="544" y="293" width="1" height="5"/><rect x="543" y="294" width="3" height="2"/><rect x="544" y="293" width="1" height="9"/><rect x="543" y="294" width="3" height="5"/><rect x="545" y="296" width="1" height="4"/><rect x="544" y="296" width="3" height="3"/><rect x="545" y="297" width="1" height="1" fill="#fff"/><rect x="546" y="296" width="1" height="8"/><rect x="545" y="296" width="3" height="6"/><rect x="547" y="300" width="1" height="5"/><rect x="546" y="302" width="3" height="1"/><rect x="548" y="302" width="1" height="6"/><rect x="547" y="303" width="3" height="4"/><rect x="549" y="303" width="1" height="7"/><rect x="548" y="306" width="3" height="1"/><rect x="549" y="297" width="1" height="11"/><rect x="548" y="301" width="3" height="5"/><rect x="549" y="302" width="1" height="3" fill="#fff"/><rect x="550" y="300" width="1" height="5"/><rect x="549" y="301" width="3" height="3"/><rect x="551" y="302" width="1" height="4"/><rect x="550" y="304" width="3" height="1"/><rect x="552" y="303" width="1" height="8"/><rect x="551" y="305" width="3" height="5"/><rect x="553" y="307" width="1" height="3"/><rect x="552" y="308" width="3" height="2"/><rect x="554" y="305" width="1" height="4"/><rect x="553" y="307" width="3" height="1"/><rect x="554" y="303" width="1" height="7"/><rect x="553" y="307" width="3" height="2"/><rect x="555" y="307" width="1" height="4"/><rect x="554" y="307" width="3" height="2"/><rect x="556" y="307" width="1" height="4"/><rect x="555" y="307" width="3" height="3"/><rect x="557" y="308" width="1" height="3"/><rect x="556" y="309" width="3" height="1"/><rect x="558" y="307" width="1" height="5"/><rect x="557" y="309" width="3" height="2"/><rect x="559" y="309" width="1" height="2"/><rect x="558" y="310" width="3" height="1"/><rect x="559" y="308" width="1" height="4"/><rect x="558" y="310" width="3" height="1"/><rect x="560" y="311" width="1" height="3"/><rect x="559" y="311" width="3" height="1"/><rect x="561" y="312" width="1" height="8"/><rect x="560" y="312" width="3" height="6"/><rect x="562" y="316" width="1" height="7"/><rect x="561" y="318" width="3" height="3"/><rect x="563" y="319" width="1" height="11"/><rect x="562" y="321" width="3" height="6"/><rect x="563" y="326" width="1" height="7"/><rect x="562" y="327" width="3" height="4"/><rect x="563" y="331" width="3" height="2"/><rect x="565" y="328" width="1" height="6"/><rect x="564" y="331" width="3" height="2"/><rect x="566" y="330" width="1" height="2"/><rect x="565" y="330" width="3" height="1"/><rect x="567" y="329" width="1" height="3"/><rect x="566" y="330" width="3" height="1"/><rect x="568" y="321" width="1" height="10"/><rect x="567" y="323" width="3" height="7"/><rect x="568" y="324" width="1" height="5" fill="#fff"/><rect x="568" y="322" width="1" height="10"/><rect x="567" y="323" width="3" height="6"/><rect x="569" y="317" width="1" height="13"/><rect x="568" y="320" width="3" height="9"/><rect x="569" y="321" width="1" height="7" fill="#fff"/><rect x="570" y="319" width="1" height="5"/><rect x="569" y="320" width="3" height="3"/><rect x="571" y="319" width="1" height="6"/><rect x="570" y="322" width="3" height="1"/><rect x="572" y="320" width="1" height="6"/><rect x="571" y="322" width="3" height="3"/><rect x="572" y="325" width="3" height="1"/><rect x="573" y="322" width="1" height="4"/><rect x="572" y="325" width="3" height="1"/><rect x="574" y="324" width="1" height="2"/><rect x="573" y="325" width="3" height="1"/><rect x="575" y="324" width="1" height="7"/><rect x="574" y="326" width="3" height="3"/><rect x="576" y="328" width="1" height="5"/><rect x="575" y="329" width="3" height="4"/><rect x="577" y="327" width="1" height="7"/><rect x="576" y="329" width="3" height="4"/><rect x="577" y="330" width="1" height="2" fill="#fff"/><rect x="578" y="324" width="1" height="6"/><rect x="577" y="324" width="3" height="5"/><rect x="578" y="325" width="1" height="3" fill="#fff"/><rect x="578" y="324" width="1" height="5"/><rect x="577" y="324" width="3" height="4"/><rect x="579" y="326" width="1" height="8"/><rect x="578" y="328" width="3" height="1"/><rect x="580" y="329" width="1" height="10"/><rect x="579" y="329" width="3" height="6"/><rect x="581" y="323" width="1" height="14"/><rect x="580" y="326" width="3" height="9"/><rect x="581" y="327" width="1" height="7" fill="#fff"/><rect x="582" y="324" width="1" height="5"/><rect x="581" y="326" width="3" height="1"/><rect x="582" y="326" width="1" height="5"/><rect x="581" y="326" width="3" height="2"/><rect x="583" y="326" width="1" height="3"/><rect x="582" y="327" width="3" height="1"/><rect x="584" y="321" width="1" height="7"/><rect x="583" y="323" width="3" height="4"/><rect x="584" y="324" width="1" height="2" fill="#fff"/><rect x="585" y="320" width="1" height="9"/><rect x="584" y="323" width="3" height="5"/><rect x="586" y="321" width="1" height="9"/><rect x="585" y="322" width="3" height="6"/><rect x="586" y="323" width="1" height="4" fill="#fff"/><rect x="586" y="322" width="3" height="2"/><rect x="587" y="322" width="1" height="5"/><rect x="586" y="324" width="3" height="2"/><rect x="588" y="318" width="1" height="9"/><rect x="587" y="320" width="3" height="6"/><rect x="588" y="321" width="1" height="4" fill="#fff"/><rect x="589" y="319" width="1" height="2"/><rect x="588" y="320" width="3" height="1"/><rect x="590" y="320" width="1" height="5"/><rect x="589" y="321" width="3" height="4"/><rect x="591" y="318" width="1" height="7"/><rect x="590" y="320" width="3" height="5"/><rect x="591" y="321" width="1" height="3" fill="#fff"/><rect x="592" y="316" width="1" height="4"/><rect x="591" y="317" width="3" height="3"/><rect x="592" y="318" width="1" height="1" fill="#fff"/><rect x="592" y="317" width="1" height="3"/><rect x="591" y="317" width="3" height="1"/><rect x="593" y="316" width="1" height="4"/><rect x="592" y="317" width="3" height="2"/><rect x="594" y="311" width="1" height="9"/><rect x="593" y="312" width="3" height="7"/><rect x="594" y="313" width="1" height="5" fill="#fff"/><rect x="595" y="310" width="1" height="4"/><rect x="594" y="312" width="3" height="1"/><rect x="596" y="309" width="1" height="5"/><rect x="595" y="309" width="3" height="4"/><rect x="596" y="310" width="1" height="2" fill="#fff"/><rect x="596" y="308" width="1" height="4"/><rect x="595" y="309" width="3" height="1"/><rect x="597" y="307" width="1" height="7"/><rect x="596" y="309" width="3" height="5"/><rect x="598" y="309" width="1" height="6"/><rect x="597" y="311" width="3" height="3"/><rect x="598" y="312" width="1" height="1" fill="#fff"/><rect x="599" y="309" width="1" height="4"/><rect x="598" y="310" width="3" height="1"/><rect x="600" y="308" width="1" height="4"/><rect x="599" y="310" width="3" height="1"/><rect x="601" y="307" width="1" height="8"/><rect x="600" y="308" width="3" height="3"/><rect x="601" y="309" width="1" height="1" fill="#fff"/><rect x="600" y="305" width="3" height="3"/><rect x="601" y="306" width="1" height="1" fill="#fff"/><rect x="602" y="301" width="1" height="8"/><rect x="601" y="305" width="3" height="4"/><rect x="602" y="307" width="3" height="2"/><rect x="604" y="301" width="1" height="7"/><rect x="603" y="302" width="3" height="5"/><rect x="604" y="303" width="1" height="3" fill="#fff"/><rect x="605" y="301" width="1" height="4"/><rect x="604" y="302" width="3" height="2"/><rect x="606" y="301" width="1" height="6"/><rect x="605" y="304" width="3" height="3"/><rect x="606" y="304" width="1" height="6"/><rect x="605" y="305" width="3" height="2"/><rect x="607" y="303" width="1" height="3"/><rect x="606" y="305" width="3" height="1"/><rect x="608" y="301" width="1" height="6"/><rect x="607" y="302" width="3" height="3"/><rect x="608" y="303" width="1" height="1" fill="#fff"/><rect x="609" y="300" width="1" height="6"/><rect x="608" y="302" width="3" height="3"/><rect x="609" y="301" width="3" height="4"/><rect x="610" y="302" width="1" height="2" fill="#fff"/><rect x="610" y="301" width="1" height="10"/><rect x="609" y="301" width="3" height="8"/><rect x="611" y="306" width="1" height="6"/><rect x="610" y="307" width="3" height="2"/><rect x="612" y="304" width="1" height="8"/><rect x="611" y="307" width="3" height="5"/><rect x="613" y="305" width="1" height="9"/><rect x="612" y="308" width="3" height="4"/><rect x="613" y="309" width="1" height="2" fill="#fff"/><rect x="614" y="308" width="1" height="8"/><rect x="613" y="308" width="3" height="5"/><rect x="615" y="306" width="1" height="8"/><rect x="614" y="308" width="3" height="5"/><rect x="615" y="309" width="1" height="3" fill="#fff"/><rect x="615" y="305" width="1" height="9"/><rect x="614" y="308" width="3" height="3"/><rect x="616" y="310" width="1" height="3"/><rect x="615" y="311" width="3" height="1"/><rect x="617" y="307" width="1" height="5"/><rect x="616" y="308" width="3" height="4"/><rect x="617" y="309" width="1" height="2" fill="#fff"/><rect x="618" y="305" width="1" height="6"/><rect x="617" y="305" width="3" height="3"/><rect x="618" y="306" width="1" height="1" fill="#fff"/><rect x="619" y="298" width="1" height="8"/><rect x="618" y="298" width="3" height="7"/><rect x="619" y="299" width="1" height="5" fill="#fff"/><rect x="620" y="297" width="1" height="8"/><rect x="619" y="298" width="3" height="5"/><rect x="620" y="296" width="1" height="10"/><rect x="619" y="300" width="3" height="3"/><rect x="620" y="301" width="1" height="1" fill="#fff"/><rect x="621" y="297" width="1" height="5"/><rect x="620" y="299" width="3" height="1"/><rect x="622" y="296" width="1" height="4"/><rect x="621" y="297" width="3" height="2"/><rect x="623" y="291" width="1" height="7"/><rect x="622" y="292" width="3" height="5"/><rect x="623" y="293" width="1" height="3" fill="#fff"/><rect x="624" y="290" width="1" height="3"/><rect x="623" y="292" width="3" height="1"/><rect x="625" y="291" width="1" height="10"/><rect x="624" y="293" width="3" height="6"/><rect x="625" y="291" width="1" height="10"/><rect x="624" y="292" width="3" height="7"/><rect x="625" y="293" width="1" height="5" fill="#fff"/><rect x="626" y="288" width="1" height="9"/><rect x="625" y="292" width="3" height="4"/><rect x="627" y="292" width="1" height="5"/><rect x="626" y="294" width="3" height="2"/><rect x="628" y="293" width="1" height="11"/><rect x="627" y="294" width="3" height="7"/><rect x="629" y="298" width="1" height="4"/><rect x="628" y="299" width="3" height="2"/><rect x="629" y="297" width="1" height="4"/><rect x="628" y="297" width="3" height="2"/><rect x="630" y="296" width="1" height="5"/><rect x="629" y="297" width="3" height="3"/><rect x="631" y="299" width="1" height="5"/><rect x="630" y="299" width="3" height="1"/><rect x="632" y="297" width="1" height="6"/><rect x="631" y="299" width="3" height="1"/><rect x="633" y="297" width="1" height="4"/><rect x="632" y="298" width="3" height="1"/><rect x="634" y="297" width="1" height="8"/><rect x="633" y="298" width="3" height="3"/><rect x="634" y="298" width="1" height="4"/><rect x="633" y="299" width="3" height="2"/><rect x="635" y="298" width="1" height="4"/><rect x="634" y="299" width="3" height="2"/><rect x="636" y="296" width="1" height="6"/><rect x="635" y="297" width="3" height="4"/><rect x="636" y="298" width="1" height="2" fill="#fff"/><rect x="637" y="296" width="1" height="4"/><rect x="636" y="297" width="3" height="1"/><rect x="637" y="298" width="3" height="3"/><rect x="639" y="289" width="1" height="14"/><rect x="638" y="293" width="3" height="8"/><rect x="639" y="294" width="1" height="6" fill="#fff"/><rect x="639" y="289" width="1" height="7"/><rect x="638" y="291" width="3" height="2"/><rect x="640" y="290" width="1" height="6"/><rect x="639" y="291" width="3" height="5"/><rect x="641" y="293" width="1" height="8"/><rect x="640" y="296" width="3" height="2"/><rect x="642" y="287" width="1" height="12"/><rect x="641" y="289" width="3" height="9"/><rect x="642" y="290" width="1" height="7" fill="#fff"/><rect x="643" y="284" width="1" height="6"/><rect x="642" y="285" width="3" height="4"/><rect x="643" y="286" width="1" height="2" fill="#fff"/><rect x="644" y="283" width="1" height="5"/><rect x="643" y="285" width="3" height="3"/><rect x="644" y="286" width="1" height="3"/><rect x="643" y="286" width="3" height="2"/><rect x="645" y="285" width="1" height="3"/><rect x="644" y="286" width="3" height="2"/><rect x="646" y="281" width="1" height="9"/><rect x="645" y="282" width="3" height="6"/><rect x="646" y="283" width="1" height="4" fill="#fff"/><rect x="647" y="281" width="1" height="3"/><rect x="646" y="282" width="3" height="1"/><rect x="648" y="283" width="1" height="4"/><rect x="647" y="283" width="3" height="1"/><rect x="648" y="280" width="1" height="4"/><rect x="647" y="281" width="3" height="2"/><rect x="649" y="278" width="1" height="7"/><rect x="648" y="281" width="3" height="1"/><rect x="650" y="280" width="1" height="8"/><rect x="649" y="281" width="3" height="6"/><rect x="651" y="284" width="1" height="5"/><rect x="650" y="287" width="3" height="1"/><rect x="652" y="282" width="1" height="7"/><rect x="651" y="283" width="3" height="5"/><rect x="652" y="284" width="1" height="3" fill="#fff"/><rect x="653" y="282" width="1" height="5"/><rect x="652" y="283" width="3" height="3"/><rect x="653" y="280" width="1" height="8"/><rect x="652" y="282" width="3" height="4"/><rect x="653" y="283" width="1" height="2" fill="#fff"/><rect x="654" y="277" width="1" height="9"/><rect x="653" y="278" width="3" height="4"/><rect x="654" y="279" width="1" height="2" fill="#fff"/><rect x="655" y="274" width="1" height="5"/><rect x="654" y="275" width="3" height="3"/><rect x="655" y="276" width="1" height="1" fill="#fff"/><rect x="656" y="271" width="1" height="4"/><rect x="655" y="272" width="3" height="3"/><rect x="656" y="273" width="1" height="1" fill="#fff"/><rect x="657" y="270" width="1" height="4"/><rect x="656" y="272" width="3" height="2"/><rect x="658" y="273" width="1" height="4"/><rect x="657" y="274" width="3" height="1"/><rect x="658" y="273" width="1" height="6"/><rect x="657" y="274" width="3" height="1"/><rect x="659" y="267" width="1" height="9"/><rect x="658" y="269" width="3" height="5"/><rect x="659" y="270" width="1" height="3" fill="#fff"/><rect x="660" y="268" width="1" height="7"/><rect x="659" y="269" width="3" height="5"/><rect x="661" y="273" width="1" height="2"/><rect x="660" y="273" width="3" height="1"/><rect x="662" y="269" width="1" height="5"/><rect x="661" y="272" width="3" height="1"/><rect x="662" y="271" width="1" height="7"/><rect x="661" y="272" width="3" height="4"/><rect x="663" y="267" width="1" height="12"/><rect x="662" y="269" width="3" height="7"/><rect x="663" y="270" width="1" height="5" fill="#fff"/><rect x="664" y="267" width="1" height="8"/><rect x="663" y="269" width="3" height="5"/><rect x="665" y="266" width="1" height="9"/><rect x="664" y="269" width="3" height="5"/><rect x="665" y="270" width="1" height="3" fill="#fff"/><rect x="666" y="265" width="1" height="8"/><rect x="665" y="267" width="3" height="2"/><rect x="667" y="266" width="1" height="5"/><rect x="666" y="267" width="3" height="4"/><rect x="667" y="268" width="1" height="16"/><rect x="666" y="271" width="3" height="11"/><rect x="668" y="282" width="1" height="2"/><rect x="667" y="282" width="3" height="1"/><rect x="669" y="279" width="1" height="4"/><rect x="668" y="281" width="3" height="2"/><rect x="670" y="280" width="1" height="11"/><rect x="669" y="281" width="3" height="8"/><rect x="671" y="288" width="1" height="8"/><rect x="670" y="289" width="3" height="6"/><rect x="672" y="292" width="1" height="5"/><rect x="671" y="293" width="3" height="2"/><rect x="672" y="291" width="1" height="4"/><rect x="671" y="293" width="3" height="2"/><rect x="673" y="293" width="1" height="4"/><rect x="672" y="295" width="3" height="1"/><rect x="674" y="292" width="1" height="4"/><rect x="673" y="292" width="3" height="3"/><rect x="674" y="293" width="1" height="1" fill="#fff"/><rect x="675" y="287" width="1" height="6"/><rect x="674" y="287" width="3" height="5"/><rect x="675" y="288" width="1" height="3" fill="#fff"/><rect x="676" y="287" width="1" height="7"/><rect x="675" y="287" width="3" height="3"/><rect x="676" y="285" width="1" height="7"/><rect x="675" y="285" width="3" height="5"/><rect x="676" y="286" width="1" height="3" fill="#fff"/><rect x="677" y="283" width="1" height="4"/><rect x="676" y="284" width="3" height="1"/><rect x="678" y="281" width="1" height="6"/><rect x="677" y="284" width="3" height="1"/><rect x="679" y="277" width="1" height="10"/><rect x="678" y="278" width="3" height="7"/><rect x="679" y="279" width="1" height="5" fill="#fff"/><rect x="680" y="275" width="1" height="9"/><rect x="679" y="278" width="3" height="4"/><rect x="681" y="273" width="1" height="12"/><rect x="680" y="274" width="3" height="8"/><rect x="681" y="275" width="1" height="6" fill="#fff"/><rect x="681" y="271" width="1" height="4"/><rect x="680" y="271" width="3" height="3"/><rect x="681" y="272" width="1" height="1" fill="#fff"/><rect x="682" y="269" width="1" height="5"/><rect x="681" y="270" width="3" height="1"/><rect x="683" y="269" width="1" height="5"/><rect x="682" y="270" width="3" height="1"/><rect x="684" y="267" width="1" height="3"/><rect x="683" y="268" width="3" height="2"/><rect x="685" y="265" width="1" height="4"/><rect x="684" y="266" width="3" height="2"/><rect x="686" y="259" width="1" height="10"/><rect x="685" y="261" width="3" height="5"/><rect x="686" y="262" width="1" height="3" fill="#fff"/><rect x="686" y="260" width="1" height="4"/><rect x="685" y="261" width="3" height="1"/><rect x="687" y="261" width="1" height="4"/><rect x="686" y="262" width="3" height="2"/><rect x="688" y="262" width="1" height="8"/><rect x="687" y="264" width="3" height="3"/><rect x="689" y="263" width="1" height="7"/><rect x="688" y="267" width="3" height="2"/><rect x="690" y="258" width="1" height="13"/><rect x="689" y="259" width="3" height="10"/><rect x="690" y="260" width="1" height="8" fill="#fff"/><rect x="690" y="259" width="3" height="6"/><rect x="691" y="263" width="1" height="4"/><rect x="690" y="265" width="3" height="1"/><rect x="692" y="263" width="1" height="3"/><rect x="691" y="265" width="3" height="1"/><rect x="693" y="266" width="1" height="3"/><rect x="692" y="266" width="3" height="2"/><rect x="693" y="265" width="3" height="3"/><rect x="694" y="266" width="1" height="1" fill="#fff"/><rect x="695" y="260" width="1" height="8"/><rect x="694" y="265" width="3" height="1"/><rect x="695" y="264" width="1" height="8"/><rect x="694" y="265" width="3" height="7"/><rect x="696" y="270" width="1" height="5"/><rect x="695" y="272" width="3" height="1"/><rect x="697" y="267" width="1" height="6"/><rect x="696" y="269" width="3" height="3"/><rect x="697" y="270" width="1" height="1" fill="#fff"/><rect x="698" y="266" width="1" height="4"/><rect x="697" y="267" width="3" height="2"/><rect x="699" y="262" width="1" height="10"/><rect x="698" y="264" width="3" height="3"/><rect x="699" y="265" width="1" height="1" fill="#fff"/><rect x="700" y="258" width="1" height="6"/><rect x="699" y="259" width="3" height="5"/><rect x="700" y="260" width="1" height="3" fill="#fff"/><rect x="700" y="257" width="1" height="6"/><rect x="699" y="259" width="3" height="4"/><rect x="701" y="255" width="1" height="13"/><rect x="700" y="257" width="3" height="6"/><rect x="701" y="258" width="1" height="4" fill="#fff"/><rect x="702" y="251" width="1" height="7"/><rect x="701" y="254" width="3" height="3"/><rect x="702" y="255" width="1" height="1" fill="#fff"/><rect x="703" y="254" width="1" height="4"/><rect x="702" y="254" width="3" height="2"/><rect x="704" y="256" width="1" height="10"/><rect x="703" y="256" width="3" height="9"/><rect x="705" y="262" width="1" height="5"/><rect x="704" y="265" width="3" height="1"/><rect x="705" y="262" width="1" height="6"/><rect x="704" y="265" width="3" height="2"/><rect x="706" y="264" width="1" height="8"/><rect x="705" y="267" width="3" height="3"/><rect x="707" y="267" width="1" height="9"/><rect x="706" y="270" width="3" height="5"/><rect x="708" y="274" width="1" height="6"/><rect x="707" y="275" width="3" height="3"/><rect x="709" y="266" width="1" height="12"/><rect x="708" y="269" width="3" height="9"/><rect x="709" y="270" width="1" height="7" fill="#fff"/><rect x="710" y="265" width="1" height="6"/><rect x="709" y="267" width="3" height="2"/><rect x="710" y="260" width="1" height="8"/><rect x="709" y="261" width="3" height="6"/><rect x="710" y="262" width="1" height="4" fill="#fff"/><rect x="711" y="258" width="1" height="5"/><rect x="710" y="259" width="3" height="2"/><rect x="712" y="255" width="1" height="4"/><rect x="711" y="257" width="3" height="2"/><rect x="713" y="247" width="1" height="10"/><rect x="712" y="251" width="3" height="6"/><rect x="713" y="252" width="1" height="4" fill="#fff"/><rect x="714" y="251" width="1" height="10"/><rect x="713" y="251" width="3" height="8"/><rect x="714" y="255" width="1" height="6"/><rect x="713" y="257" width="3" height="2"/><rect x="715" y="251" width="1" height="8"/><rect x="714" y="251" width="3" height="6"/><rect x="715" y="252" width="1" height="4" fill="#fff"/><rect x="716" y="250" width="1" height="10"/><rect x="715" y="251" width="3" height="8"/><rect x="717" y="259" width="1" height="4"/><rect x="716" y="259" width="3" height="1"/><rect x="718" y="258" width="1" height="7"/><rect x="717" y="259" width="3" height="4"/><rect x="719" y="262" width="1" height="3"/><rect x="718" y="263" width="3" height="2"/><rect x="719" y="263" width="1" height="9"/><rect x="718" y="265" width="3" height="3"/><rect x="720" y="267" width="1" height="2"/><rect x="719" y="268" width="3" height="1"/><rect x="721" y="267" width="1" height="3"/><rect x="720" y="267" width="3" height="1"/><rect x="722" y="266" width="1" height="7"/><rect x="721" y="267" width="3" height="5"/><rect x="723" y="272" width="1" height="6"/><rect x="722" y="272" width="3" height="5"/><rect x="724" y="277" width="1" height="5"/><rect x="723" y="277" width="3" height="4"/><rect x="724" y="280" width="1" height="8"/><rect x="723" y="281" width="3" height="6"/><rect x="725" y="285" width="1" height="9"/><rect x="724" y="287" width="3" height="3"/><rect x="726" y="286" width="1" height="4"/><rect x="725" y="288" width="3" height="2"/><rect x="727" y="286" width="1" height="6"/><rect x="726" y="288" width="3" height="3"/><rect x="728" y="282" width="1" height="11"/><rect x="727" y="282" width="3" height="9"/><rect x="728" y="283" width="1" height="7" fill="#fff"/><rect x="728" y="278" width="1" height="7"/><rect x="727" y="279" width="3" height="3"/><rect x="728" y="280" width="1" height="1" fill="#fff"/><rect x="729" y="278" width="1" height="7"/><rect x="728" y="279" width="3" height="6"/><rect x="730" y="281" width="1" height="5"/><rect x="729" y="285" width="3" height="1"/><rect x="731" y="283" width="1" height="9"/><rect x="730" y="285" width="3" height="7"/><rect x="732" y="291" width="1" height="2"/><rect x="731" y="292" width="3" height="1"/><rect x="733" y="292" width="1" height="11"/><rect x="732" y="292" width="3" height="10"/><rect x="733" y="291" width="1" height="12"/><rect x="732" y="292" width="3" height="10"/><rect x="733" y="293" width="1" height="8" fill="#fff"/><rect x="734" y="287" width="1" height="7"/><rect x="733" y="288" width="3" height="4"/><rect x="734" y="289" width="1" height="2" fill="#fff"/><rect x="735" y="281" width="1" height="7"/><rect x="734" y="283" width="3" height="5"/><rect x="735" y="284" width="1" height="3" fill="#fff"/><rect x="736" y="275" width="1" height="10"/><rect x="735" y="276" width="3" height="7"/><rect x="736" y="277" width="1" height="5" fill="#fff"/><rect x="737" y="273" width="1" height="5"/><rect x="736" y="276" width="3" height="1"/><rect x="738" y="271" width="1" height="5"/><rect x="737" y="274" width="3" height="2"/><rect x="738" y="272" width="1" height="4"/><rect x="737" y="272" width="3" height="2"/><rect x="739" y="264" width="1" height="11"/><rect x="738" y="265" width="3" height="7"/><rect x="739" y="266" width="1" height="5" fill="#fff"/><rect x="740" y="264" width="1" height="8"/><rect x="739" y="265" width="3" height="3"/><rect x="741" y="267" width="1" height="4"/><rect x="740" y="268" width="3" height="2"/><rect x="742" y="263" width="1" height="9"/><rect x="741" y="265" width="3" height="5"/><rect x="742" y="266" width="1" height="3" fill="#fff"/><rect x="742" y="264" width="1" height="4"/><rect x="741" y="265" width="3" height="1"/><rect x="743" y="265" width="1" height="4"/><rect x="742" y="265" width="3" height="1"/><rect x="744" y="260" width="1" height="9"/><rect x="743" y="263" width="3" height="3"/><rect x="744" y="264" width="1" height="1" fill="#fff"/><rect x="745" y="262" width="1" height="3"/><rect x="744" y="263" width="3" height="1"/><rect x="746" y="260" width="1" height="8"/><rect x="745" y="263" width="3" height="4"/><rect x="747" y="263" width="1" height="4"/><rect x="746" y="264" width="3" height="3"/><rect x="747" y="265" width="1" height="1" fill="#fff"/><rect x="746" y="260" width="3" height="4"/><rect x="747" y="261" width="1" height="2" fill="#fff"/><rect x="748" y="259" width="1" height="3"/><rect x="747" y="260" width="3" height="1"/><rect x="749" y="259" width="1" height="12"/><rect x="748" y="260" width="3" height="11"/><rect x="750" y="265" width="1" height="6"/><rect x="749" y="267" width="3" height="4"/><rect x="750" y="268" width="1" height="2" fill="#fff"/><rect x="751" y="261" width="1" height="6"/><rect x="750" y="262" width="3" height="5"/><rect x="751" y="263" width="1" height="3" fill="#fff"/><rect x="752" y="261" width="1" height="10"/><rect x="751" y="262" width="3" height="6"/><rect x="752" y="265" width="1" height="8"/><rect x="751" y="268" width="3" height="5"/><rect x="753" y="271" width="1" height="5"/><rect x="752" y="273" width="3" height="2"/><rect x="754" y="271" width="1" height="4"/><rect x="753" y="272" width="3" height="3"/><rect x="754" y="273" width="1" height="1" fill="#fff"/><rect x="755" y="271" width="1" height="8"/><rect x="754" y="272" width="3" height="5"/><rect x="756" y="268" width="1" height="10"/><rect x="755" y="270" width="3" height="7"/><rect x="756" y="271" width="1" height="5" fill="#fff"/><rect x="757" y="264" width="1" height="7"/><rect x="756" y="266" width="3" height="4"/><rect x="757" y="267" width="1" height="2" fill="#fff"/><rect x="757" y="260" width="1" height="9"/><rect x="756" y="266" width="3" height="1"/><rect x="758" y="263" width="1" height="5"/><rect x="757" y="263" width="3" height="4"/><rect x="758" y="264" width="1" height="2" fill="#fff"/><rect x="759" y="259" width="1" height="8"/><rect x="758" y="262" width="3" height="1"/><rect x="760" y="261" width="1" height="6"/><rect x="759" y="262" width="3" height="2"/><rect x="761" y="255" width="1" height="11"/><rect x="760" y="257" width="3" height="7"/><rect x="761" y="258" width="1" height="5" fill="#fff"/><rect x="761" y="255" width="1" height="13"/><rect x="760" y="257" width="3" height="10"/><rect x="762" y="266" width="1" height="3"/><rect x="761" y="267" width="3" height="1"/><rect x="763" y="266" width="1" height="5"/><rect x="762" y="267" width="3" height="3"/><rect x="764" y="269" width="1" height="6"/><rect x="763" y="270" width="3" height="2"/><rect x="765" y="272" width="1" height="5"/><rect x="764" y="272" width="3" height="4"/><rect x="766" y="272" width="1" height="7"/><rect x="765" y="275" width="3" height="1"/><rect x="766" y="271" width="1" height="4"/><rect x="765" y="272" width="3" height="3"/><rect x="766" y="273" width="1" height="1" fill="#fff"/><rect x="767" y="264" width="1" height="10"/><rect x="766" y="267" width="3" height="5"/><rect x="767" y="268" width="1" height="3" fill="#fff"/><rect x="768" y="264" width="1" height="7"/><rect x="767" y="267" width="3" height="1"/><rect x="769" y="262" width="1" height="7"/><rect x="768" y="263" width="3" height="5"/><rect x="769" y="264" width="1" height="3" fill="#fff"/><rect x="770" y="256" width="1" height="10"/><rect x="769" y="260" width="3" height="3"/><rect x="770" y="261" width="1" height="1" fill="#fff"/><rect x="770" y="260" width="3" height="2"/><rect x="771" y="258" width="1" height="7"/><rect x="770" y="259" width="3" height="3"/><rect x="771" y="260" width="1" height="1" fill="#fff"/><rect x="772" y="253" width="1" height="7"/><rect x="771" y="258" width="3" height="1"/><rect x="773" y="244" width="1" height="15"/><rect x="772" y="246" width="3" height="12"/><rect x="773" y="247" width="1" height="10" fill="#fff"/><rect x="774" y="243" width="1" height="9"/><rect x="773" y="246" width="3" height="4"/><rect x="775" y="247" width="1" height="6"/><rect x="774" y="247" width="3" height="3"/><rect x="775" y="248" width="1" height="1" fill="#fff"/><rect x="776" y="245" width="1" height="3"/><rect x="775" y="246" width="3" height="1"/><rect x="776" y="244" width="1" height="11"/><rect x="775" y="246" width="3" height="6"/><rect x="777" y="243" width="1" height="13"/><rect x="776" y="247" width="3" height="5"/><rect x="777" y="248" width="1" height="3" fill="#fff"/><rect x="778" y="246" width="1" height="7"/><rect x="777" y="247" width="3" height="6"/><rect x="779" y="250" width="1" height="4"/><rect x="778" y="252" width="3" height="1"/><rect x="780" y="251" width="1" height="5"/><rect x="779" y="252" width="3" height="1"/><rect x="780" y="250" width="1" height="5"/><rect x="779" y="251" width="3" height="2"/><rect x="781" y="248" width="1" height="6"/><rect x="780" y="251" width="3" height="2"/><rect x="782" y="252" width="1" height="5"/><rect x="781" y="253" width="3" height="3"/><rect x="783" y="251" width="1" height="8"/><rect x="782" y="254" width="3" height="2"/><rect x="784" y="253" width="1" height="3"/><rect x="783" y="254" width="3" height="1"/><rect x="785" y="252" width="1" height="4"/><rect x="784" y="252" width="3" height="3"/><rect x="785" y="253" width="1" height="1" fill="#fff"/><rect x="785" y="249" width="1" height="12"/><rect x="784" y="252" width="3" height="7"/><rect x="785" y="251" width="3" height="8"/><rect x="786" y="252" width="1" height="6" fill="#fff"/><rect x="787" y="251" width="1" height="3"/><rect x="786" y="251" width="3" height="1"/><rect x="788" y="250" width="1" height="4"/><rect x="787" y="252" width="3" height="1"/><rect x="789" y="249" width="1" height="6"/><rect x="788" y="250" width="3" height="3"/><rect x="789" y="251" width="1" height="1" fill="#fff"/><rect x="790" y="249" width="1" height="3"/><rect x="789" y="250" width="3" height="1"/><rect x="790" y="247" width="1" height="6"/><rect x="789" y="249" width="3" height="2"/><rect x="791" y="248" width="1" height="3"/><rect x="790" y="249" width="3" height="2"/><rect x="792" y="245" width="1" height="8"/><rect x="791" y="246" width="3" height="5"/><rect x="792" y="247" width="1" height="3" fill="#fff"/><rect x="793" y="241" width="1" height="7"/><rect x="792" y="244" width="3" height="2"/><rect x="794" y="237" width="1" height="7"/><rect x="793" y="239" width="3" height="5"/><rect x="794" y="240" width="1" height="3" fill="#fff"/><rect x="794" y="237" width="1" height="6"/><rect x="793" y="239" width="3" height="2"/><rect x="795" y="239" width="1" height="3"/><rect x="794" y="240" width="3" height="1"/><rect x="796" y="236" width="1" height="6"/><rect x="795" y="237" width="3" height="3"/><rect x="796" y="238" width="1" height="1" fill="#fff"/><rect x="797" y="230" width="1" height="12"/><rect x="796" y="233" width="3" height="4"/><rect x="797" y="234" width="1" height="2" fill="#fff"/><rect x="798" y="231" width="1" height="4"/><rect x="797" y="233" width="3" height="1"/><rect x="799" y="231" width="1" height="3"/><rect x="798" y="233" width="3" height="1"/><rect x="799" y="233" width="1" height="2"/><rect x="798" y="234" width="3" height="1"/><rect x="800" y="226" width="1" height="8"/><rect x="799" y="229" width="3" height="5"/><rect x="800" y="230" width="1" height="3" fill="#fff"/><rect x="801" y="228" width="1" height="14"/><rect x="800" y="229" width="3" height="9"/><rect x="802" y="230" width="1" height="10"/><rect x="801" y="232" width="3" height="6"/><rect x="802" y="233" width="1" height="4" fill="#fff"/><rect x="803" y="231" width="1" height="2"/><rect x="802" y="232" width="3" height="1"/><rect x="804" y="228" width="1" height="6"/><rect x="803" y="230" width="3" height="2"/><rect x="804" y="230" width="1" height="3"/><rect x="803" y="230" width="3" height="1"/><rect x="805" y="231" width="1" height="11"/><rect x="804" y="231" width="3" height="5"/><rect x="806" y="225" width="1" height="12"/><rect x="805" y="228" width="3" height="8"/><rect x="806" y="229" width="1" height="6" fill="#fff"/><rect x="807" y="222" width="1" height="8"/><rect x="806" y="228" width="3" height="1"/><rect x="808" y="225" width="1" height="5"/><rect x="807" y="227" width="3" height="2"/><rect x="808" y="225" width="1" height="7"/><rect x="807" y="227" width="3" height="1"/><rect x="809" y="228" width="1" height="7"/><rect x="808" y="228" width="3" height="6"/><rect x="810" y="227" width="1" height="9"/><rect x="809" y="228" width="3" height="6"/><rect x="810" y="229" width="1" height="4" fill="#fff"/><rect x="811" y="227" width="1" height="3"/><rect x="810" y="228" width="3" height="1"/><rect x="812" y="220" width="1" height="10"/><rect x="811" y="225" width="3" height="3"/><rect x="812" y="226" width="1" height="1" fill="#fff"/><rect x="813" y="224" width="1" height="6"/><rect x="812" y="225" width="3" height="4"/><rect x="813" y="228" width="1" height="7"/><rect x="812" y="229" width="3" height="2"/><rect x="814" y="227" width="1" height="5"/><rect x="813" y="229" width="3" height="2"/><rect x="815" y="228" width="1" height="4"/><rect x="814" y="229" width="3" height="1"/><rect x="816" y="228" width="1" height="8"/><rect x="815" y="229" width="3" height="4"/><rect x="817" y="232" width="1" height="4"/><rect x="816" y="232" width="3" height="1"/><rect x="818" y="230" width="1" height="5"/><rect x="817" y="231" width="3" height="1"/><rect x="817" y="229" width="3" height="2"/><rect x="819" y="226" width="1" height="4"/><rect x="818" y="228" width="3" height="1"/><rect x="820" y="227" width="1" height="12"/><rect x="819" y="228" width="3" height="10"/><rect x="821" y="230" width="1" height="10"/><rect x="820" y="231" width="3" height="7"/><rect x="821" y="232" width="1" height="5" fill="#fff"/><rect x="822" y="229" width="1" height="10"/><rect x="821" y="231" width="3" height="7"/><rect x="823" y="237" width="1" height="3"/><rect x="822" y="237" width="3" height="1"/><rect x="823" y="232" width="1" height="5"/><rect x="822" y="235" width="3" height="2"/><rect x="824" y="233" width="1" height="7"/><rect x="823" y="235" width="3" height="3"/><rect x="825" y="229" width="1" height="10"/><rect x="824" y="232" width="3" height="6"/><rect x="825" y="233" width="1" height="4" fill="#fff"/><rect x="826" y="230" width="1" height="8"/><rect x="825" y="232" width="3" height="4"/><rect x="827" y="226" width="1" height="14"/><rect x="826" y="228" width="3" height="8"/><rect x="827" y="229" width="1" height="6" fill="#fff"/><rect x="827" y="228" width="1" height="9"/><rect x="826" y="228" width="3" height="5"/><rect x="828" y="228" width="1" height="10"/><rect x="827" y="233" width="3" height="2"/><rect x="829" y="226" width="1" height="12"/><rect x="828" y="228" width="3" height="7"/><rect x="829" y="229" width="1" height="5" fill="#fff"/><rect x="830" y="226" width="1" height="13"/><rect x="829" y="228" width="3" height="10"/><rect x="831" y="233" width="1" height="7"/><rect x="830" y="234" width="3" height="4"/><rect x="831" y="235" width="1" height="2" fill="#fff"/><rect x="832" y="222" width="1" height="13"/><rect x="831" y="223" width="3" height="11"/><rect x="832" y="224" width="1" height="9" fill="#fff"/><rect x="832" y="219" width="1" height="18"/><rect x="831" y="223" width="3" height="12"/><rect x="833" y="232" width="1" height="7"/><rect x="832" y="235" width="3" height="3"/><rect x="834" y="228" width="1" height="10"/><rect x="833" y="231" width="3" height="7"/><rect x="834" y="232" width="1" height="5" fill="#fff"/><rect x="835" y="229" width="1" height="4"/><rect x="834" y="231" width="3" height="2"/><rect x="836" y="232" width="1" height="5"/><rect x="835" y="233" width="3" height="3"/><rect x="837" y="228" width="1" height="8"/><rect x="836" y="229" width="3" height="7"/><rect x="837" y="230" width="1" height="5" fill="#fff"/><rect x="837" y="229" width="1" height="10"/><rect x="836" y="229" width="3" height="8"/><rect x="838" y="235" width="1" height="6"/><rect x="837" y="237" width="3" height="4"/><rect x="839" y="235" width="1" height="10"/><rect x="838" y="237" width="3" height="4"/><rect x="839" y="238" width="1" height="2" fill="#fff"/><rect x="840" y="237" width="1" height="10"/><rect x="839" y="237" width="3" height="7"/><rect x="841" y="244" width="1" height="9"/><rect x="840" y="244" width="3" height="5"/><rect x="842" y="234" width="1" height="18"/><rect x="841" y="236" width="3" height="13"/><rect x="842" y="237" width="1" height="11" fill="#fff"/><rect x="842" y="235" width="1" height="4"/><rect x="841" y="236" width="3" height="1"/><rect x="843" y="237" width="1" height="6"/><rect x="842" y="237" width="3" height="5"/><rect x="844" y="241" width="1" height="9"/><rect x="843" y="242" width="3" height="7"/><rect x="845" y="248" width="1" height="6"/><rect x="844" y="249" width="3" height="1"/><rect x="846" y="244" width="1" height="10"/><rect x="845" y="245" width="3" height="4"/><rect x="846" y="246" width="1" height="2" fill="#fff"/><rect x="846" y="243" width="1" height="6"/><rect x="845" y="245" width="3" height="1"/><rect x="847" y="244" width="1" height="9"/><rect x="846" y="246" width="3" height="3"/><rect x="848" y="245" width="1" height="17"/><rect x="847" y="249" width="3" height="12"/><rect x="849" y="255" width="1" height="7"/><rect x="848" y="255" width="3" height="6"/><rect x="849" y="256" width="1" height="4" fill="#fff"/><rect x="850" y="254" width="1" height="10"/><rect x="849" y="255" width="3" height="8"/><rect x="851" y="261" width="1" height="32"/><rect x="850" y="263" width="3" height="29"/><rect x="851" y="275" width="1" height="18"/><rect x="850" y="277" width="3" height="15"/><rect x="851" y="278" width="1" height="13" fill="#fff"/><rect x="852" y="267" width="1" height="14"/><rect x="851" y="268" width="3" height="9"/><rect x="852" y="269" width="1" height="7" fill="#fff"/><rect x="853" y="263" width="1" height="16"/><rect x="852" y="268" width="3" height="11"/><rect x="854" y="275" width="1" height="4"/><rect x="853" y="277" width="3" height="2"/><rect x="855" y="274" width="1" height="4"/><rect x="854" y="275" width="3" height="2"/><rect x="856" y="275" width="1" height="8"/><rect x="855" y="275" width="3" height="3"/><rect x="856" y="277" width="1" height="8"/><rect x="855" y="278" width="3" height="7"/><rect x="856" y="276" width="3" height="9"/><rect x="857" y="277" width="1" height="7" fill="#fff"/><rect x="858" y="269" width="1" height="9"/><rect x="857" y="274" width="3" height="2"/><rect x="859" y="272" width="1" height="3"/><rect x="858" y="273" width="3" height="1"/><rect x="860" y="269" width="1" height="5"/><rect x="859" y="270" width="3" height="3"/><rect x="860" y="271" width="1" height="1" fill="#fff"/><rect x="860" y="259" width="1" height="12"/><rect x="859" y="261" width="3" height="9"/><rect x="860" y="262" width="1" height="7" fill="#fff"/><rect x="861" y="261" width="1" height="8"/><rect x="860" y="261" width="3" height="7"/><rect x="862" y="265" width="1" height="7"/><rect x="861" y="268" width="3" height="3"/><rect x="863" y="269" width="1" height="7"/><rect x="862" y="271" width="3" height="4"/><rect x="864" y="273" width="1" height="7"/><rect x="863" y="275" width="3" height="4"/><rect x="865" y="276" width="1" height="10"/><rect x="864" y="279" width="3" height="4"/><rect x="865" y="277" width="1" height="8"/><rect x="864" y="279" width="3" height="4"/><rect x="865" y="280" width="1" height="2" fill="#fff"/><rect x="866" y="275" width="1" height="5"/><rect x="865" y="279" width="3" height="1"/><rect x="867" y="274" width="1" height="11"/><rect x="866" y="279" width="3" height="6"/><rect x="868" y="283" width="1" height="6"/><rect x="867" y="285" width="3" height="1"/><rect x="869" y="282" width="1" height="14"/><rect x="868" y="285" width="3" height="11"/><rect x="870" y="289" width="1" height="7"/><rect x="869" y="295" width="3" height="1"/><rect x="870" y="291" width="1" height="12"/><rect x="869" y="295" width="3" height="3"/><rect x="871" y="295" width="1" height="10"/><rect x="870" y="298" width="3" height="5"/><rect x="872" y="289" width="1" height="16"/><rect x="871" y="295" width="3" height="8"/><rect x="872" y="296" width="1" height="6" fill="#fff"/><rect x="873" y="294" width="1" height="2"/><rect x="872" y="294" width="3" height="1"/><rect x="874" y="290" width="1" height="5"/><rect x="873" y="292" width="3" height="2"/><rect x="874" y="290" width="1" height="5"/><rect x="873" y="292" width="3" height="1"/><rect x="875" y="287" width="1" height="5"/><rect x="874" y="291" width="3" height="1"/><rect x="876" y="285" width="1" height="7"/><rect x="875" y="286" width="3" height="5"/><rect x="876" y="287" width="1" height="3" fill="#fff"/><rect x="877" y="282" width="1" height="8"/><rect x="876" y="286" width="3" height="1"/><rect x="877" y="284" width="3" height="3"/><rect x="878" y="285" width="1" height="1" fill="#fff"/><rect x="879" y="283" width="1" height="8"/><rect x="878" y="284" width="3" height="4"/><rect x="879" y="283" width="1" height="5"/><rect x="878" y="287" width="3" height="1"/><rect x="880" y="286" width="1" height="4"/><rect x="879" y="287" width="3" height="2"/><rect x="881" y="276" width="1" height="17"/><rect x="880" y="279" width="3" height="10"/><rect x="881" y="280" width="1" height="8" fill="#fff"/><rect x="882" y="275" width="1" height="5"/><rect x="881" y="277" width="3" height="2"/><rect x="883" y="275" width="1" height="6"/><rect x="882" y="277" width="3" height="1"/><rect x="884" y="277" width="1" height="4"/><rect x="883" y="277" width="3" height="2"/><rect x="884" y="272" width="1" height="7"/><rect x="883" y="273" width="3" height="6"/><rect x="884" y="274" width="1" height="4" fill="#fff"/><rect x="885" y="269" width="1" height="8"/><rect x="884" y="273" width="3" height="1"/><rect x="886" y="267" width="1" height="11"/><rect x="885" y="271" width="3" height="3"/><rect x="886" y="272" width="1" height="1" fill="#fff"/><rect x="887" y="267" width="1" height="4"/><rect x="886" y="268" width="3" height="3"/><rect x="887" y="269" width="1" height="1" fill="#fff"/><rect x="888" y="266" width="1" height="13"/><rect x="887" y="268" width="3" height="8"/><rect x="889" y="269" width="1" height="11"/><rect x="888" y="273" width="3" height="3"/><rect x="889" y="274" width="1" height="1" fill="#fff"/><rect x="889" y="263" width="1" height="10"/><rect x="888" y="264" width="3" height="9"/><rect x="889" y="265" width="1" height="7" fill="#fff"/><rect x="890" y="262" width="1" height="5"/><rect x="889" y="264" width="3" height="1"/><rect x="891" y="265" width="1" height="5"/><rect x="890" y="265" width="3" height="4"/><rect x="892" y="263" width="1" height="8"/><rect x="891" y="264" width="3" height="5"/><rect x="892" y="265" width="1" height="3" fill="#fff"/><rect x="893" y="256" width="1" height="8"/><rect x="892" y="258" width="3" height="6"/><rect x="893" y="259" width="1" height="4" fill="#fff"/><rect x="893" y="258" width="1" height="5"/><rect x="892" y="258" width="3" height="4"/><rect x="894" y="251" width="1" height="14"/><rect x="893" y="251" width="3" height="11"/><rect x="894" y="252" width="1" height="9" fill="#fff"/><rect x="895" y="251" width="1" height="2"/><rect x="894" y="251" width="3" height="1"/><rect x="896" y="250" width="1" height="9"/><rect x="895" y="251" width="3" height="5"/><rect x="897" y="251" width="1" height="6"/><rect x="896" y="253" width="3" height="3"/><rect x="897" y="254" width="1" height="1" fill="#fff"/><rect x="898" y="250" width="1" height="10"/><rect x="897" y="253" width="3" height="4"/><rect x="898" y="255" width="1" height="5"/><rect x="897" y="257" width="3" height="2"/><rect x="899" y="258" width="1" height="6"/><rect x="898" y="259" width="3" height="4"/><rect x="900" y="258" width="1" height="9"/><rect x="899" y="260" width="3" height="3"/><rect x="900" y="261" width="1" height="1" fill="#fff"/><rect x="901" y="257" width="1" height="13"/><rect x="900" y="260" width="3" height="7"/><rect x="902" y="264" width="1" height="7"/><rect x="901" y="265" width="3" height="2"/><rect x="903" y="262" width="1" height="11"/><rect x="902" y="265" width="3" height="6"/><rect x="903" y="266" width="1" height="8"/><rect x="902" y="267" width="3" height="4"/><rect x="903" y="268" width="1" height="2" fill="#fff"/><rect x="904" y="265" width="1" height="4"/><rect x="903" y="265" width="3" height="2"/><rect x="905" y="264" width="1" height="4"/><rect x="904" y="265" width="3" height="1"/><rect x="906" y="264" width="1" height="2"/><rect x="905" y="264" width="3" height="1"/><rect x="906" y="264" width="3" height="5"/><rect x="908" y="268" width="1" height="3"/><rect x="907" y="269" width="3" height="1"/><rect x="908" y="264" width="1" height="13"/><rect x="907" y="269" width="3" height="4"/><rect x="909" y="269" width="1" height="6"/><rect x="908" y="271" width="3" height="2"/><rect x="910" y="265" width="1" height="11"/><rect x="909" y="268" width="3" height="3"/><rect x="910" y="269" width="1" height="1" fill="#fff"/><rect x="911" y="266" width="1" height="14"/><rect x="910" y="268" width="3" height="11"/><rect x="912" y="275" width="1" height="6"/><rect x="911" y="277" width="3" height="2"/><rect x="912" y="276" width="1" height="8"/><rect x="911" y="277" width="3" height="7"/><rect x="913" y="281" width="1" height="13"/><rect x="912" y="284" width="3" height="8"/><rect x="914" y="289" width="1" height="12"/><rect x="913" y="292" width="3" height="3"/><rect x="915" y="285" width="1" height="12"/><rect x="914" y="288" width="3" height="7"/><rect x="915" y="289" width="1" height="5" fill="#fff"/><rect x="916" y="284" width="1" height="8"/><rect x="915" y="286" width="3" height="2"/><rect x="917" y="285" width="1" height="9"/><rect x="916" y="286" width="3" height="2"/><rect x="917" y="282" width="1" height="6"/><rect x="916" y="283" width="3" height="5"/><rect x="917" y="284" width="1" height="3" fill="#fff"/><rect x="918" y="276" width="1" height="10"/><rect x="917" y="280" width="3" height="3"/><rect x="918" y="281" width="1" height="1" fill="#fff"/><rect x="919" y="279" width="1" height="4"/><rect x="918" y="280" width="3" height="2"/><rect x="920" y="269" width="1" height="15"/><rect x="919" y="271" width="3" height="11"/><rect x="920" y="272" width="1" height="9" fill="#fff"/><rect x="921" y="269" width="1" height="9"/><rect x="920" y="271" width="3" height="7"/><rect x="922" y="269" width="1" height="14"/><rect x="921" y="274" width="3" height="4"/><rect x="922" y="275" width="1" height="2" fill="#fff"/><rect x="922" y="274" width="1" height="5"/><rect x="921" y="274" width="3" height="4"/><rect x="923" y="276" width="1" height="11"/><rect x="922" y="278" width="3" height="4"/><rect x="924" y="281" width="1" height="9"/><rect x="923" y="282" width="3" height="6"/><rect x="925" y="287" width="1" height="6"/><rect x="924" y="288" width="3" height="5"/><rect x="926" y="292" width="1" height="6"/><rect x="925" y="293" width="3" height="1"/><rect x="926" y="294" width="1" height="4"/><rect x="925" y="294" width="3" height="2"/><rect x="927" y="295" width="1" height="5"/><rect x="926" y="296" width="3" height="2"/><rect x="928" y="296" width="1" height="12"/><rect x="927" y="298" width="3" height="10"/><rect x="929" y="304" width="1" height="7"/><rect x="928" y="308" width="3" height="1"/><rect x="930" y="306" width="1" height="4"/><rect x="929" y="307" width="3" height="2"/><rect x="931" y="306" width="1" height="10"/><rect x="930" y="307" width="3" height="9"/><rect x="931" y="316" width="1" height="11"/><rect x="930" y="316" width="3" height="6"/><rect x="932" y="320" width="1" height="3"/><rect x="931" y="321" width="3" height="1"/><rect x="933" y="319" width="1" height="10"/><rect x="932" y="321" width="3" height="7"/><rect x="934" y="328" width="1" height="9"/><rect x="933" y="328" width="3" height="6"/><rect x="935" y="326" width="1" height="9"/><rect x="934" y="330" width="3" height="4"/><rect x="935" y="331" width="1" height="2" fill="#fff"/><rect x="936" y="329" width="1" height="3"/><rect x="935" y="330" width="3" height="2"/><rect x="936" y="331" width="1" height="2"/><rect x="935" y="332" width="3" height="1"/><rect x="937" y="328" width="1" height="6"/><rect x="936" y="329" width="3" height="4"/><rect x="937" y="330" width="1" height="2" fill="#fff"/><rect x="938" y="327" width="1" height="4"/><rect x="937" y="328" width="3" height="1"/><rect x="939" y="324" width="1" height="5"/><rect x="938" y="324" width="3" height="4"/><rect x="939" y="325" width="1" height="2" fill="#fff"/><rect x="940" y="322" width="1" height="3"/><rect x="939" y="324" width="3" height="1"/><rect x="940" y="318" width="1" height="9"/><rect x="939" y="320" width="3" height="4"/><rect x="940" y="321" width="1" height="2" fill="#fff"/><rect x="941" y="314" width="1" height="15"/><rect x="940" y="320" width="3" height="7"/><rect x="942" y="325" width="1" height="5"/><rect x="941" y="327" width="3" height="1"/><rect x="943" y="324" width="1" height="10"/><rect x="942" y="327" width="3" height="5"/><rect x="944" y="329" width="1" height="5"/><rect x="943" y="329" width="3" height="3"/><rect x="944" y="330" width="1" height="1" fill="#fff"/><rect x="945" y="328" width="1" height="11"/><rect x="944" y="329" width="3" height="9"/><rect x="945" y="336" width="1" height="10"/><rect x="944" y="338" width="3" height="7"/><rect x="946" y="342" width="1" height="9"/><rect x="945" y="345" width="3" height="6"/><rect x="947" y="351" width="1" height="4"/><rect x="946" y="351" width="3" height="1"/><rect x="948" y="350" width="1" height="3"/><rect x="947" y="351" width="3" height="1"/><rect x="949" y="346" width="1" height="6"/><rect x="948" y="347" width="3" height="4"/><rect x="949" y="348" width="1" height="2" fill="#fff"/><rect x="950" y="339" width="1" height="9"/><rect x="949" y="341" width="3" height="6"/><rect x="950" y="342" width="1" height="4" fill="#fff"/><rect x="950" y="338" width="1" height="4"/><rect x="949" y="340" width="3" height="1"/><rect x="951" y="340" width="1" height="7"/><rect x="950" y="340" width="3" height="5"/><rect x="952" y="341" width="1" height="5"/><rect x="951" y="342" width="3" height="3"/><rect x="952" y="343" width="1" height="1" fill="#fff"/><rect x="953" y="340" width="1" height="7"/><rect x="952" y="342" width="3" height="1"/><rect x="954" y="341" width="1" height="7"/><rect x="953" y="342" width="3" height="6"/><rect x="955" y="348" width="1" height="7"/><rect x="954" y="348" width="3" height="4"/><rect x="955" y="340" width="1" height="14"/><rect x="954" y="341" width="3" height="11"/><rect x="955" y="342" width="1" height="9" fill="#fff"/><rect x="956" y="340" width="1" height="6"/><rect x="955" y="341" width="3" height="5"/><rect x="957" y="337" width="1" height="10"/><rect x="956" y="337" width="3" height="9"/><rect x="957" y="338" width="1" height="7" fill="#fff"/><rect x="958" y="335" width="1" height="4"/><rect x="957" y="336" width="3" height="1"/><rect x="959" y="328" width="1" height="13"/><rect x="958" y="330" width="3" height="6"/><rect x="959" y="331" width="1" height="4" fill="#fff"/><rect x="959" y="329" width="1" height="3"/><rect x="958" y="330" width="3" height="1"/><rect x="960" y="328" width="1" height="7"/><rect x="959" y="330" width="3" height="3"/><rect x="961" y="331" width="1" height="7"/><rect x="960" y="333" width="3" height="2"/><rect x="962" y="331" width="1" height="7"/><rect x="961" y="333" width="3" height="2"/><rect x="963" y="331" width="1" height="4"/><rect x="962" y="332" width="3" height="1"/><rect x="964" y="330" width="1" height="5"/><rect x="963" y="332" width="3" height="2"/><rect x="964" y="332" width="1" height="9"/><rect x="963" y="334" width="3" height="5"/><rect x="965" y="330" width="1" height="11"/><rect x="964" y="332" width="3" height="7"/><rect x="965" y="333" width="1" height="5" fill="#fff"/><rect x="966" y="328" width="1" height="5"/><rect x="965" y="330" width="3" height="2"/><rect x="967" y="327" width="1" height="5"/><rect x="966" y="330" width="3" height="1"/><rect x="968" y="330" width="1" height="5"/><rect x="967" y="331" width="3" height="1"/><rect x="969" y="323" width="1" height="10"/><rect x="968" y="325" width="3" height="7"/><rect x="969" y="326" width="1" height="5" fill="#fff"/><rect x="969" y="324" width="1" height="10"/><rect x="968" y="325" width="3" height="3"/><rect x="970" y="327" width="1" height="3"/><rect x="969" y="328" width="3" height="1"/><rect x="971" y="328" width="1" height="8"/><rect x="970" y="329" width="3" height="1"/><rect x="972" y="325" width="1" height="5"/><rect x="971" y="329" width="3" height="1"/><rect x="973" y="328" width="1" height="9"/><rect x="972" y="329" width="3" height="4"/><rect x="974" y="331" width="1" height="4"/><rect x="973" y="333" width="3" height="1"/><rect x="974" y="323" width="1" height="13"/><rect x="973" y="326" width="3" height="7"/><rect x="974" y="327" width="1" height="5" fill="#fff"/><rect x="975" y="324" width="1" height="11"/><rect x="974" y="326" width="3" height="7"/><rect x="976" y="328" width="1" height="8"/><rect x="975" y="328" width="3" height="5"/><rect x="976" y="329" width="1" height="3" fill="#fff"/><rect x="977" y="322" width="1" height="9"/><rect x="976" y="327" width="3" height="1"/><rect x="978" y="326" width="1" height="2"/><rect x="977" y="326" width="3" height="1"/><rect x="978" y="323" width="1" height="6"/><rect x="977" y="326" width="3" height="2"/><rect x="979" y="323" width="1" height="7"/><rect x="978" y="324" width="3" height="4"/><rect x="979" y="325" width="1" height="2" fill="#fff"/><rect x="980" y="323" width="1" height="11"/><rect x="979" y="324" width="3" height="8"/><rect x="981" y="329" width="1" height="12"/><rect x="980" y="332" width="3" height="4"/><rect x="982" y="330" width="1" height="7"/><rect x="981" y="335" width="3" height="1"/><rect x="983" y="324" width="1" height="12"/><rect x="982" y="326" width="3" height="9"/><rect x="983" y="327" width="1" height="7" fill="#fff"/><rect x="983" y="313" width="1" height="13"/><rect x="982" y="316" width="3" height="10"/><rect x="983" y="317" width="1" height="8" fill="#fff"/><rect x="984" y="314" width="1" height="5"/><rect x="983" y="316" width="3" height="1"/><rect x="985" y="312" width="1" height="7"/><rect x="984" y="315" width="3" height="1"/><rect x="986" y="313" width="1" height="4"/><rect x="985" y="315" width="3" height="1"/><rect x="987" y="300" width="1" height="17"/><rect x="986" y="303" width="3" height="13"/><rect x="987" y="304" width="1" height="11" fill="#fff"/><rect x="988" y="302" width="1" height="7"/><rect x="987" y="303" width="3" height="5"/><rect x="988" y="305" width="1" height="6"/><rect x="987" y="308" width="3" height="2"/><rect x="989" y="309" width="1" height="6"/><rect x="988" y="310" width="3" height="1"/><rect x="990" y="305" width="1" height="6"/><rect x="989" y="308" width="3" height="2"/><rect x="991" y="300" width="1" height="9"/><rect x="990" y="300" width="3" height="8"/><rect x="991" y="301" width="1" height="6" fill="#fff"/><rect x="992" y="299" width="1" height="14"/><rect x="991" y="300" width="3" height="11"/><rect x="992" y="308" width="1" height="4"/><rect x="991" y="311" width="3" height="1"/><rect x="993" y="309" width="1" height="5"/><rect x="992" y="311" width="3" height="3"/><rect x="994" y="308" width="1" height="7"/><rect x="993" y="311" width="3" height="3"/><rect x="994" y="312" width="1" height="1" fill="#fff"/><rect x="995" y="311" width="1" height="7"/><rect x="994" y="311" width="3" height="3"/><rect x="996" y="311" width="1" height="14"/><rect x="995" y="314" width="3" height="8"/><rect x="997" y="318" width="1" height="5"/><rect x="996" y="319" width="3" height="3"/><rect x="997" y="320" width="1" height="1" fill="#fff"/><rect x="997" y="315" width="1" height="8"/><rect x="996" y="319" width="3" height="1"/><rect x="998" y="318" width="1" height="3"/><rect x="997" y="319" width="3" height="1"/><rect x="999" y="319" width="1" height="8"/><rect x="998" y="319" width="3" height="7"/><rect x="1000" y="316" width="1" height="13"/><rect x="999" y="319" width="3" height="7"/><rect x="1000" y="320" width="1" height="5" fill="#fff"/><rect x="1001" y="318" width="1" height="6"/><rect x="1000" y="319" width="3" height="5"/><rect x="1002" y="322" width="1" height="6"/><rect x="1001" y="324" width="3" height="4"/><rect x="1002" y="324" width="1" height="7"/><rect x="1001" y="327" width="3" height="1"/><rect x="1003" y="327" width="1" height="3"/><rect x="1002" y="327" width="3" height="2"/><rect x="1004" y="327" width="1" height="4"/><rect x="1003" y="327" width="3" height="2"/><rect x="1005" y="324" width="1" height="6"/><rect x="1004" y="327" width="3" height="2"/><rect x="1006" y="321" width="1" height="9"/><rect x="1005" y="323" width="3" height="6"/><rect x="1006" y="324" width="1" height="4" fill="#fff"/><rect x="1006" y="322" width="1" height="3"/><rect x="1005" y="323" width="3" height="1"/><rect x="1007" y="322" width="1" height="3"/><rect x="1006" y="323" width="3" height="1"/><rect x="1008" y="316" width="1" height="10"/><rect x="1007" y="316" width="3" height="7"/><rect x="1008" y="317" width="1" height="5" fill="#fff"/><rect x="1009" y="315" width="1" height="10"/><rect x="1008" y="316" width="3" height="9"/><rect x="1010" y="318" width="1" height="7"/><rect x="1009" y="319" width="3" height="6"/><rect x="1010" y="320" width="1" height="4" fill="#fff"/><rect x="1011" y="316" width="1" height="13"/><rect x="1010" y="319" width="3" height="7"/><rect x="1010" y="326" width="3" height="3"/><rect x="1012" y="326" width="1" height="7"/><rect x="1011" y="329" width="3" height="1"/><rect x="1013" y="327" width="1" height="4"/><rect x="1012" y="328" width="3" height="1"/><rect x="1014" y="324" width="1" height="8"/><rect x="1013" y="328" width="3" height="1"/><rect x="1015" y="327" width="1" height="2"/><rect x="1014" y="327" width="3" height="1"/><rect x="1016" y="326" width="1" height="12"/><rect x="1015" y="327" width="3" height="10"/><rect x="1016" y="335" width="1" height="3"/><rect x="1015" y="337" width="3" height="1"/><rect x="1017" y="336" width="1" height="11"/><rect x="1016" y="338" width="3" height="7"/><rect x="1018" y="340" width="1" height="6"/><rect x="1017" y="341" width="3" height="4"/><rect x="1018" y="342" width="1" height="2" fill="#fff"/><rect x="1019" y="341" width="1" height="5"/><rect x="1018" y="341" width="3" height="4"/><rect x="1019" y="344" width="3" height="1"/><rect x="1021" y="343" width="1" height="6"/><rect x="1020" y="344" width="3" height="3"/><rect x="1021" y="346" width="1" height="3"/><rect x="1020" y="347" width="3" height="1"/><rect x="1022" y="344" width="1" height="3"/><rect x="1021" y="345" width="3" height="2"/><rect x="1023" y="338" width="1" height="7"/><rect x="1022" y="339" width="3" height="6"/><rect x="1023" y="340" width="1" height="4" fill="#fff"/><rect x="1024" y="338" width="1" height="5"/><rect x="1023" y="339" width="3" height="1"/><rect x="1025" y="335" width="1" height="4"/><rect x="1024" y="338" width="3" height="1"/><rect x="1025" y="337" width="1" height="21"/><rect x="1024" y="338" width="3" height="17"/><rect x="1026" y="353" width="1" height="4"/><rect x="1025" y="354" width="3" height="1"/><rect x="1027" y="347" width="1" height="9"/><rect x="1026" y="348" width="3" height="6"/><rect x="1027" y="349" width="1" height="4" fill="#fff"/><rect x="1028" y="345" width="1" height="7"/><rect x="1027" y="348" width="3" height="4"/><rect x="1029" y="345" width="1" height="9"/><rect x="1028" y="347" width="3" height="5"/><rect x="1029" y="348" width="1" height="3" fill="#fff"/><rect x="1030" y="345" width="1" height="4"/><rect x="1029" y="347" width="3" height="1"/><rect x="1030" y="340" width="1" height="9"/><rect x="1029" y="340" width="3" height="7"/><rect x="1030" y="341" width="1" height="5" fill="#fff"/><rect x="1031" y="332" width="1" height="11"/><rect x="1030" y="333" width="3" height="7"/><rect x="1031" y="334" width="1" height="5" fill="#fff"/><rect x="1032" y="332" width="1" height="6"/><rect x="1031" y="333" width="3" height="4"/><rect x="1033" y="333" width="1" height="7"/><rect x="1032" y="335" width="3" height="2"/><rect x="1034" y="334" width="1" height="2"/><rect x="1033" y="335" width="3" height="1"/><rect x="1035" y="317" width="1" height="19"/><rect x="1034" y="318" width="3" height="18"/><rect x="1035" y="319" width="1" height="16" fill="#fff"/><rect x="1035" y="314" width="1" height="5"/><rect x="1034" y="316" width="3" height="2"/><rect x="1036" y="311" width="1" height="9"/><rect x="1035" y="314" width="3" height="2"/><rect x="1037" y="313" width="1" height="7"/><rect x="1036" y="314" width="3" height="4"/><rect x="1038" y="313" width="1" height="7"/><rect x="1037" y="315" width="3" height="3"/><rect x="1038" y="316" width="1" height="1" fill="#fff"/><rect x="1039" y="313" width="1" height="8"/><rect x="1038" y="315" width="3" height="5"/><rect x="1040" y="317" width="1" height="5"/><rect x="1039" y="319" width="3" height="1"/><rect x="1040" y="316" width="1" height="5"/><rect x="1039" y="319" width="3" height="1"/><rect x="1041" y="317" width="1" height="4"/><rect x="1040" y="319" width="3" height="1"/><rect x="1042" y="316" width="1" height="6"/><rect x="1041" y="319" width="3" height="2"/><rect x="1043" y="321" width="1" height="4"/><rect x="1042" y="321" width="3" height="3"/><rect x="1044" y="318" width="1" height="7"/><rect x="1043" y="321" width="3" height="3"/><rect x="1044" y="322" width="1" height="1" fill="#fff"/><rect x="1044" y="319" width="1" height="8"/><rect x="1043" y="321" width="3" height="6"/><rect x="1045" y="322" width="1" height="5"/><rect x="1044" y="325" width="3" height="2"/><rect x="1046" y="322" width="1" height="9"/><rect x="1045" y="325" width="3" height="4"/><rect x="1047" y="328" width="1" height="5"/><rect x="1046" y="329" width="3" height="3"/><rect x="1048" y="327" width="1" height="8"/><rect x="1047" y="329" width="3" height="3"/><rect x="1048" y="330" width="1" height="1" fill="#fff"/><rect x="1049" y="319" width="1" height="10"/><rect x="1048" y="321" width="3" height="8"/><rect x="1049" y="322" width="1" height="6" fill="#fff"/><rect x="1049" y="320" width="1" height="5"/><rect x="1048" y="321" width="3" height="3"/><rect x="1050" y="315" width="1" height="10"/><rect x="1049" y="318" width="3" height="6"/><rect x="1050" y="319" width="1" height="4" fill="#fff"/><rect x="1051" y="315" width="1" height="3"/><rect x="1050" y="316" width="3" height="2"/><rect x="1052" y="313" width="1" height="4"/><rect x="1051" y="315" width="3" height="1"/><rect x="1053" y="312" width="1" height="4"/><rect x="1052" y="312" width="3" height="3"/><rect x="1053" y="313" width="1" height="1" fill="#fff"/><rect x="1054" y="311" width="1" height="6"/><rect x="1053" y="312" width="3" height="3"/><rect x="1054" y="311" width="1" height="6"/><rect x="1053" y="312" width="3" height="3"/><rect x="1054" y="313" width="1" height="1" fill="#fff"/><rect x="1055" y="310" width="1" height="6"/><rect x="1054" y="312" width="3" height="3"/><rect x="1056" y="311" width="1" height="5"/><rect x="1055" y="313" width="3" height="2"/><rect x="1057" y="305" width="1" height="11"/><rect x="1056" y="306" width="3" height="7"/><rect x="1057" y="307" width="1" height="5" fill="#fff"/><rect x="1058" y="304" width="1" height="5"/><rect x="1057" y="306" width="3" height="3"/><rect x="1058" y="307" width="1" height="3"/><rect x="1057" y="308" width="3" height="1"/><rect x="1059" y="307" width="1" height="4"/><rect x="1058" y="308" width="3" height="1"/><rect x="1060" y="306" width="1" height="2"/><rect x="1059" y="307" width="3" height="1"/><rect x="1061" y="306" width="1" height="2"/><rect x="1060" y="307" width="3" height="1"/><rect x="1062" y="306" width="1" height="5"/><rect x="1061" y="307" width="3" height="1"/><rect x="1063" y="303" width="1" height="5"/><rect x="1062" y="304" width="3" height="3"/><rect x="1063" y="305" width="1" height="1" fill="#fff"/><rect x="1063" y="303" width="1" height="4"/><rect x="1062" y="304" width="3" height="3"/><rect x="1064" y="303" width="1" height="5"/><rect x="1063" y="307" width="3" height="1"/><rect x="1065" y="301" width="1" height="7"/><rect x="1064" y="305" width="3" height="2"/><rect x="1066" y="304" width="1" height="6"/><rect x="1065" y="305" width="3" height="2"/><rect x="1067" y="304" width="1" height="4"/><rect x="1066" y="304" width="3" height="3"/><rect x="1067" y="305" width="1" height="1" fill="#fff"/><rect x="1068" y="301" width="1" height="4"/><rect x="1067" y="301" width="3" height="3"/><rect x="1068" y="302" width="1" height="1" fill="#fff"/><rect x="1068" y="301" width="1" height="2"/><rect x="1067" y="301" width="3" height="1"/><rect x="1069" y="300" width="1" height="3"/><rect x="1068" y="301" width="3" height="1"/><rect x="1070" y="300" width="1" height="3"/><rect x="1069" y="301" width="3" height="2"/><rect x="1071" y="302" width="1" height="4"/><rect x="1070" y="303" width="3" height="1"/><rect x="1072" y="302" width="1" height="4"/><rect x="1071" y="303" width="3" height="3"/><rect x="1072" y="305" width="1" height="3"/><rect x="1071" y="306" width="3" height="1"/><rect x="1073" y="302" width="1" height="6"/><rect x="1072" y="303" width="3" height="4"/><rect x="1073" y="304" width="1" height="2" fill="#fff"/><rect x="1074" y="301" width="1" height="3"/><rect x="1073" y="303" width="3" height="1"/><rect x="1075" y="302" width="1" height="9"/><rect x="1074" y="304" width="3" height="3"/><rect x="1076" y="306" width="1" height="5"/><rect x="1075" y="307" width="3" height="2"/><rect x="1077" y="307" width="1" height="6"/><rect x="1076" y="309" width="3" height="3"/><rect x="1077" y="311" width="1" height="5"/><rect x="1076" y="312" width="3" height="2"/><rect x="1078" y="313" width="1" height="7"/><rect x="1077" y="314" width="3" height="3"/><rect x="1079" y="314" width="1" height="3"/><rect x="1078" y="316" width="3" height="1"/><rect x="1080" y="315" width="1" height="7"/><rect x="1079" y="316" width="3" height="5"/><rect x="1081" y="320" width="1" height="3"/><rect x="1080" y="320" width="3" height="1"/><rect x="1082" y="319" width="1" height="4"/><rect x="1081" y="320" width="3" height="1"/><rect x="1081" y="318" width="3" height="2"/><rect x="1083" y="311" width="1" height="8"/><rect x="1082" y="312" width="3" height="6"/><rect x="1083" y="313" width="1" height="4" fill="#fff"/><rect x="1084" y="309" width="1" height="4"/><rect x="1083" y="310" width="3" height="2"/><rect x="1085" y="308" width="1" height="8"/><rect x="1084" y="310" width="3" height="5"/><rect x="1086" y="305" width="1" height="11"/><rect x="1085" y="306" width="3" height="9"/><rect x="1086" y="307" width="1" height="7" fill="#fff"/><rect x="1087" y="305" width="1" height="4"/><rect x="1086" y="306" width="3" height="1"/><rect x="1087" y="302" width="1" height="4"/><rect x="1086" y="303" width="3" height="3"/><rect x="1087" y="304" width="1" height="1" fill="#fff"/><rect x="1088" y="300" width="1" height="6"/><rect x="1087" y="301" width="3" height="2"/><rect x="1089" y="298" width="1" height="8"/><rect x="1088" y="301" width="3" height="4"/><rect x="1090" y="298" width="1" height="10"/><rect x="1089" y="300" width="3" height="5"/><rect x="1090" y="301" width="1" height="3" fill="#fff"/><rect x="1091" y="298" width="1" height="3"/><rect x="1090" y="298" width="3" height="2"/><rect x="1091" y="295" width="1" height="5"/><rect x="1090" y="297" width="3" height="1"/><rect x="1092" y="289" width="1" height="10"/><rect x="1091" y="291" width="3" height="6"/><rect x="1092" y="292" width="1" height="4" fill="#fff"/><rect x="1093" y="289" width="1" height="10"/><rect x="1092" y="291" width="3" height="7"/><rect x="1094" y="292" width="1" height="6"/><rect x="1093" y="293" width="3" height="5"/><rect x="1094" y="294" width="1" height="3" fill="#fff"/><rect x="1095" y="293" width="1" height="3"/><rect x="1094" y="293" width="3" height="1"/><rect x="1095" y="293" width="3" height="3"/><rect x="1096" y="290" width="1" height="7"/><rect x="1095" y="291" width="3" height="5"/><rect x="1096" y="292" width="1" height="3" fill="#fff"/><rect x="1097" y="290" width="1" height="3"/><rect x="1096" y="291" width="3" height="1"/><rect x="1098" y="288" width="1" height="4"/><rect x="1097" y="290" width="3" height="1"/><rect x="1099" y="288" width="1" height="6"/><rect x="1098" y="290" width="3" height="2"/><rect x="1100" y="284" width="1" height="8"/><rect x="1099" y="285" width="3" height="7"/><rect x="1100" y="286" width="1" height="5" fill="#fff"/><rect x="1101" y="284" width="1" height="2"/><rect x="1100" y="285" width="3" height="1"/><rect x="1101" y="281" width="1" height="6"/><rect x="1100" y="281" width="3" height="5"/><rect x="1101" y="282" width="1" height="3" fill="#fff"/><rect x="1101" y="281" width="3" height="5"/><rect x="1103" y="285" width="1" height="2"/><rect x="1102" y="286" width="3" height="1"/><rect x="1104" y="275" width="1" height="13"/><rect x="1103" y="276" width="3" height="10"/><rect x="1104" y="277" width="1" height="8" fill="#fff"/><rect x="1105" y="270" width="1" height="6"/><rect x="1104" y="272" width="3" height="4"/><rect x="1105" y="273" width="1" height="2" fill="#fff"/><rect x="1106" y="251" width="1" height="23"/><rect x="1105" y="252" width="3" height="20"/><rect x="1106" y="253" width="1" height="18" fill="#fff"/><rect x="1106" y="246" width="1" height="6"/><rect x="1105" y="248" width="3" height="4"/><rect x="1106" y="249" width="1" height="2" fill="#fff"/><rect x="1107" y="237" width="1" height="15"/><rect x="1106" y="238" width="3" height="10"/><rect x="1107" y="239" width="1" height="8" fill="#fff"/><rect x="1108" y="236" width="1" height="3"/><rect x="1107" y="237" width="3" height="1"/><rect x="1109" y="230" width="1" height="10"/><rect x="1108" y="230" width="3" height="7"/><rect x="1109" y="231" width="1" height="5" fill="#fff"/><rect x="1109" y="230" width="3" height="2"/><rect x="1110" y="228" width="1" height="4"/><rect x="1109" y="230" width="3" height="2"/><rect x="1111" y="224" width="1" height="7"/><rect x="1110" y="227" width="3" height="3"/><rect x="1111" y="228" width="1" height="1" fill="#fff"/><rect x="1112" y="222" width="1" height="10"/><rect x="1111" y="227" width="3" height="5"/><rect x="1113" y="228" width="1" height="8"/><rect x="1112" y="231" width="3" height="1"/><rect x="1114" y="225" width="1" height="6"/><rect x="1113" y="226" width="3" height="5"/><rect x="1114" y="227" width="1" height="3" fill="#fff"/><rect x="1115" y="225" width="1" height="6"/><rect x="1114" y="226" width="3" height="4"/><rect x="1115" y="225" width="1" height="5"/><rect x="1114" y="228" width="3" height="2"/><rect x="1116" y="227" width="1" height="3"/><rect x="1115" y="228" width="3" height="1"/><rect x="1117" y="213" width="1" height="16"/><rect x="1116" y="217" width="3" height="12"/><rect x="1117" y="218" width="1" height="10" fill="#fff"/><rect x="1117" y="200" width="3" height="17"/><rect x="1118" y="201" width="1" height="15" fill="#fff"/><rect x="1119" y="192" width="1" height="11"/><rect x="1118" y="196" width="3" height="4"/><rect x="1119" y="197" width="1" height="2" fill="#fff"/><rect x="1120" y="190" width="1" height="7"/><rect x="1119" y="190" width="3" height="6"/><rect x="1120" y="191" width="1" height="4" fill="#fff"/><rect x="1120" y="179" width="1" height="13"/><rect x="1119" y="181" width="3" height="9"/><rect x="1120" y="182" width="1" height="7" fill="#fff"/><rect x="1121" y="171" width="1" height="11"/><rect x="1120" y="174" width="3" height="7"/><rect x="1121" y="175" width="1" height="5" fill="#fff"/><rect x="1122" y="173" width="1" height="5"/><rect x="1121" y="174" width="3" height="4"/><rect x="1123" y="174" width="1" height="9"/><rect x="1122" y="175" width="3" height="3"/><rect x="1123" y="176" width="1" height="1" fill="#fff"/><rect x="1124" y="174" width="1" height="15"/><rect x="1123" y="175" width="3" height="8"/><rect x="1124" y="182" width="1" height="4"/><rect x="1123" y="182" width="3" height="1"/><rect x="1125" y="173" width="1" height="11"/><rect x="1124" y="174" width="3" height="8"/><rect x="1125" y="175" width="1" height="6" fill="#fff"/><rect x="1126" y="173" width="1" height="4"/><rect x="1125" y="174" width="3" height="3"/><rect x="1127" y="167" width="1" height="11"/><rect x="1126" y="169" width="3" height="8"/><rect x="1127" y="170" width="1" height="6" fill="#fff"/><rect x="1128" y="167" width="1" height="7"/><rect x="1127" y="169" width="3" height="4"/><rect x="1129" y="171" width="1" height="4"/><rect x="1128" y="172" width="3" height="1"/><rect x="1129" y="169" width="1" height="6"/><rect x="1128" y="172" width="3" height="1"/><rect x="1130" y="165" width="1" height="8"/><rect x="1129" y="167" width="3" height="5"/><rect x="1130" y="168" width="1" height="3" fill="#fff"/><rect x="1131" y="162" width="1" height="13"/><rect x="1130" y="167" width="3" height="8"/><rect x="1132" y="171" width="1" height="5"/><rect x="1131" y="174" width="3" height="1"/><rect x="1133" y="170" width="1" height="7"/><rect x="1132" y="171" width="3" height="3"/><rect x="1133" y="172" width="1" height="1" fill="#fff"/><rect x="1134" y="168" width="1" height="6"/><rect x="1133" y="171" width="3" height="2"/><rect x="1134" y="172" width="1" height="6"/><rect x="1133" y="173" width="3" height="3"/><rect x="1135" y="174" width="1" height="5"/><rect x="1134" y="176" width="3" height="2"/><rect x="1136" y="168" width="1" height="12"/><rect x="1135" y="168" width="3" height="10"/><rect x="1136" y="169" width="1" height="8" fill="#fff"/><rect x="1137" y="166" width="1" height="14"/><rect x="1136" y="168" width="3" height="10"/><rect x="1138" y="163" width="1" height="16"/><rect x="1137" y="166" width="3" height="12"/><rect x="1138" y="167" width="1" height="10" fill="#fff"/><rect x="1138" y="165" width="1" height="4"/><rect x="1137" y="166" width="3" height="2"/><rect x="1139" y="164" width="1" height="5"/><rect x="1138" y="168" width="3" height="1"/><rect x="1140" y="167" width="1" height="7"/><rect x="1139" y="168" width="3" height="5"/><rect x="1141" y="167" width="1" height="10"/><rect x="1140" y="169" width="3" height="4"/><rect x="1141" y="170" width="1" height="2" fill="#fff"/><rect x="1142" y="165" width="1" height="8"/><rect x="1141" y="169" width="3" height="1"/><rect x="1143" y="167" width="1" height="16"/><rect x="1142" y="169" width="3" height="13"/><rect x="1143" y="180" width="1" height="11"/><rect x="1142" y="182" width="3" height="6"/><rect x="1144" y="185" width="1" height="4"/><rect x="1143" y="185" width="3" height="3"/><rect x="1144" y="186" width="1" height="1" fill="#fff"/><rect x="1145" y="182" width="1" height="8"/><rect x="1144" y="185" width="3" height="4"/><rect x="1146" y="178" width="1" height="14"/><rect x="1145" y="182" width="3" height="7"/><rect x="1146" y="183" width="1" height="5" fill="#fff"/><rect x="1147" y="174" width="1" height="9"/><rect x="1146" y="177" width="3" height="5"/><rect x="1147" y="178" width="1" height="3" fill="#fff"/><rect x="1148" y="173" width="1" height="6"/><rect x="1147" y="174" width="3" height="3"/><rect x="1148" y="175" width="1" height="1" fill="#fff"/><rect x="1148" y="172" width="1" height="12"/><rect x="1147" y="174" width="3" height="10"/><rect x="1149" y="183" width="1" height="12"/><rect x="1148" y="184" width="3" height="9"/><rect x="1150" y="191" width="1" height="5"/><rect x="1149" y="193" width="3" height="1"/><rect x="1151" y="190" width="1" height="5"/><rect x="1150" y="193" width="3" height="1"/><rect x="1152" y="192" width="1" height="3"/><rect x="1151" y="192" width="3" height="1"/><rect x="1153" y="179" width="1" height="14"/><rect x="1152" y="180" width="3" height="12"/><rect x="1153" y="181" width="1" height="10" fill="#fff"/><rect x="1153" y="179" width="1" height="3"/><rect x="1152" y="180" width="3" height="1"/><rect x="1154" y="173" width="1" height="9"/><rect x="1153" y="176" width="3" height="5"/><rect x="1154" y="177" width="1" height="3" fill="#fff"/><rect x="1155" y="176" width="1" height="6"/><rect x="1154" y="176" width="3" height="3"/><rect x="1156" y="170" width="1" height="10"/><rect x="1155" y="170" width="3" height="9"/><rect x="1156" y="171" width="1" height="7" fill="#fff"/><rect x="1157" y="168" width="1" height="7"/><rect x="1156" y="170" width="3" height="3"/><rect x="1157" y="168" width="1" height="9"/><rect x="1156" y="169" width="3" height="4"/><rect x="1157" y="170" width="1" height="2" fill="#fff"/><rect x="1158" y="163" width="1" height="9"/><rect x="1157" y="165" width="3" height="4"/><rect x="1158" y="166" width="1" height="2" fill="#fff"/><rect x="1159" y="161" width="1" height="4"/><rect x="1158" y="163" width="3" height="2"/><rect x="1160" y="157" width="1" height="8"/><rect x="1159" y="157" width="3" height="6"/><rect x="1160" y="158" width="1" height="4" fill="#fff"/><rect x="1161" y="153" width="1" height="12"/><rect x="1160" y="157" width="3" height="5"/><rect x="1162" y="153" width="1" height="10"/><rect x="1161" y="156" width="3" height="6"/><rect x="1162" y="157" width="1" height="4" fill="#fff"/><rect x="1162" y="148" width="1" height="10"/><rect x="1161" y="150" width="3" height="6"/><rect x="1162" y="151" width="1" height="4" fill="#fff"/><rect x="1163" y="148" width="1" height="16"/><rect x="1162" y="150" width="3" height="12"/><rect x="1164" y="158" width="1" height="4"/><rect x="1163" y="161" width="3" height="1"/><rect x="1165" y="158" width="1" height="8"/><rect x="1164" y="159" width="3" height="2"/><rect x="1166" y="156" width="1" height="9"/><rect x="1165" y="159" width="3" height="3"/><rect x="1167" y="156" width="1" height="7"/><rect x="1166" y="158" width="3" height="4"/><rect x="1167" y="159" width="1" height="2" fill="#fff"/><rect x="1167" y="150" width="1" height="9"/><rect x="1166" y="153" width="3" height="5"/><rect x="1167" y="154" width="1" height="3" fill="#fff"/><rect x="1168" y="146" width="1" height="8"/><rect x="1167" y="148" width="3" height="5"/><rect x="1168" y="149" width="1" height="3" fill="#fff"/><rect x="1169" y="145" width="1" height="6"/><rect x="1168" y="148" width="3" height="2"/><rect x="1169" y="150" width="3" height="2"/><rect x="1171" y="150" width="1" height="7"/><rect x="1170" y="152" width="3" height="3"/><rect x="1172" y="150" width="1" height="6"/><rect x="1171" y="150" width="3" height="5"/><rect x="1172" y="151" width="1" height="3" fill="#fff"/><rect x="1172" y="149" width="1" height="8"/><rect x="1171" y="150" width="3" height="4"/><rect x="1173" y="148" width="1" height="17"/><rect x="1172" y="154" width="3" height="9"/><rect x="1174" y="154" width="1" height="11"/><rect x="1173" y="158" width="3" height="5"/><rect x="1174" y="159" width="1" height="3" fill="#fff"/><rect x="1175" y="157" width="1" height="3"/><rect x="1174" y="158" width="3" height="1"/><rect x="1176" y="158" width="1" height="6"/><rect x="1175" y="159" width="3" height="3"/><rect x="1176" y="160" width="1" height="15"/><rect x="1175" y="162" width="3" height="12"/><rect x="1177" y="173" width="1" height="2"/><rect x="1176" y="174" width="3" height="1"/><rect x="1178" y="173" width="1" height="8"/><rect x="1177" y="174" width="3" height="4"/><rect x="1179" y="177" width="1" height="13"/><rect x="1178" y="178" width="3" height="10"/><rect x="1180" y="187" width="1" height="8"/><rect x="1179" y="188" width="3" height="5"/><rect x="1181" y="191" width="1" height="11"/><rect x="1180" y="193" width="3" height="8"/><rect x="1181" y="199" width="1" height="6"/><rect x="1180" y="201" width="3" height="3"/><rect x="1182" y="203" width="1" height="4"/><rect x="1181" y="204" width="3" height="3"/><rect x="1183" y="202" width="1" height="5"/><rect x="1182" y="203" width="3" height="4"/><rect x="1183" y="204" width="1" height="2" fill="#fff"/><rect x="1184" y="199" width="1" height="6"/><rect x="1183" y="200" width="3" height="3"/><rect x="1184" y="201" width="1" height="1" fill="#fff"/><rect x="1185" y="188" width="1" height="13"/><rect x="1184" y="191" width="3" height="9"/><rect x="1185" y="192" width="1" height="7" fill="#fff"/><rect x="1186" y="189" width="1" height="7"/><rect x="1185" y="191" width="3" height="3"/><rect x="1186" y="191" width="1" height="3"/><rect x="1185" y="193" width="3" height="1"/><rect x="1187" y="190" width="1" height="6"/><rect x="1186" y="192" width="3" height="1"/><rect x="1188" y="191" width="1" height="5"/><rect x="1187" y="192" width="3" height="1"/><rect x="1189" y="193" width="1" height="11"/><rect x="1188" y="193" width="3" height="8"/><rect x="1190" y="196" width="1" height="8"/><rect x="1189" y="200" width="3" height="1"/><rect x="1190" y="199" width="1" height="2"/><rect x="1189" y="199" width="3" height="1"/><rect x="1191" y="199" width="1" height="6"/><rect x="1190" y="199" width="3" height="3"/><rect x="1192" y="201" width="1" height="9"/><rect x="1191" y="202" width="3" height="5"/><rect x="1192" y="200" width="3" height="7"/><rect x="1193" y="201" width="1" height="5" fill="#fff"/><rect x="1194" y="198" width="1" height="10"/><rect x="1193" y="200" width="3" height="4"/><rect x="1195" y="202" width="1" height="6"/><rect x="1194" y="204" width="3" height="3"/><rect x="1195" y="206" width="1" height="5"/><rect x="1194" y="207" width="3" height="1"/><rect x="1196" y="199" width="1" height="13"/><rect x="1195" y="204" width="3" height="4"/><rect x="1196" y="205" width="1" height="2" fill="#fff"/><rect x="1197" y="199" width="1" height="9"/><rect x="1196" y="203" width="3" height="1"/><rect x="1198" y="191" width="1" height="12"/><rect x="1197" y="195" width="3" height="8"/><rect x="1198" y="196" width="1" height="6" fill="#fff"/><rect x="1199" y="193" width="1" height="6"/><rect x="1198" y="195" width="3" height="3"/><rect x="1200" y="194" width="1" height="6"/><rect x="1199" y="198" width="3" height="2"/><rect x="1199" y="200" width="3" height="2"/><rect x="1201" y="200" width="1" height="4"/><rect x="1200" y="202" width="3" height="1"/><rect x="1202" y="192" width="1" height="10"/><rect x="1201" y="194" width="3" height="8"/><rect x="1202" y="195" width="1" height="6" fill="#fff"/><rect x="1203" y="192" width="1" height="8"/><rect x="1202" y="194" width="3" height="5"/><rect x="1204" y="198" width="1" height="6"/><rect x="1203" y="199" width="3" height="3"/><rect x="1204" y="196" width="1" height="9"/><rect x="1203" y="199" width="3" height="3"/><rect x="1204" y="200" width="1" height="1" fill="#fff"/><rect x="1205" y="199" width="1" height="5"/><rect x="1204" y="199" width="3" height="2"/><rect x="1206" y="201" width="1" height="8"/><rect x="1205" y="201" width="3" height="2"/><rect x="1207" y="203" width="1" height="2"/><rect x="1206" y="203" width="3" height="1"/><rect x="1208" y="201" width="1" height="4"/><rect x="1207" y="203" width="3" height="1"/><rect x="1209" y="202" width="1" height="5"/><rect x="1208" y="203" width="3" height="2"/><rect x="1209" y="204" width="1" height="7"/><rect x="1208" y="205" width="3" height="2"/><rect x="1210" y="199" width="1" height="9"/><rect x="1209" y="203" width="3" height="4"/><rect x="1210" y="204" width="1" height="2" fill="#fff"/><rect x="1211" y="197" width="1" height="8"/><rect x="1210" y="201" width="3" height="2"/><rect x="1212" y="201" width="1" height="3"/><rect x="1211" y="201" width="3" height="1"/><rect x="1213" y="202" width="1" height="3"/><rect x="1212" y="202" width="3" height="1"/><rect x="1214" y="202" width="1" height="6"/><rect x="1213" y="203" width="3" height="2"/><rect x="1214" y="199" width="1" height="7"/><rect x="1213" y="200" width="3" height="5"/><rect x="1214" y="201" width="1" height="3" fill="#fff"/><rect x="1214" y="200" width="3" height="3"/><rect x="1216" y="201" width="1" height="7"/><rect x="1215" y="203" width="3" height="2"/><rect x="1217" y="204" width="1" height="7"/><rect x="1216" y="205" width="3" height="5"/><rect x="1218" y="203" width="1" height="9"/><rect x="1217" y="207" width="3" height="3"/><rect x="1218" y="208" width="1" height="1" fill="#fff"/><rect x="1219" y="205" width="1" height="3"/><rect x="1218" y="205" width="3" height="2"/><rect x="1219" y="202" width="1" height="6"/><rect x="1218" y="205" width="3" height="3"/><rect x="1220" y="202" width="1" height="8"/><rect x="1219" y="205" width="3" height="3"/><rect x="1220" y="206" width="1" height="1" fill="#fff"/><rect x="1221" y="201" width="1" height="5"/><rect x="1220" y="205" width="3" height="1"/><rect x="1222" y="203" width="1" height="6"/><rect x="1221" y="205" width="3" height="2"/><rect x="1223" y="204" width="1" height="3"/><rect x="1222" y="205" width="3" height="2"/><rect x="1223" y="203" width="1" height="3"/><rect x="1222" y="204" width="3" height="1"/><rect x="1224" y="201" width="1" height="8"/><rect x="1223" y="204" width="3" height="1"/><rect x="1225" y="200" width="1" height="7"/><rect x="1224" y="201" width="3" height="4"/><rect x="1225" y="202" width="1" height="2" fill="#fff"/><rect x="1226" y="200" width="1" height="4"/><rect x="1225" y="201" width="3" height="1"/><rect x="1227" y="195" width="1" height="10"/><rect x="1226" y="196" width="3" height="6"/><rect x="1227" y="197" width="1" height="4" fill="#fff"/><rect x="1228" y="193" width="1" height="10"/><rect x="1227" y="196" width="3" height="4"/><rect x="1228" y="200" width="1" height="8"/><rect x="1227" y="200" width="3" height="6"/><rect x="1229" y="195" width="1" height="12"/><rect x="1228" y="200" width="3" height="6"/><rect x="1229" y="201" width="1" height="4" fill="#fff"/><rect x="1230" y="200" width="1" height="2"/><rect x="1229" y="200" width="3" height="1"/><rect x="1231" y="199" width="1" height="4"/><rect x="1230" y="200" width="3" height="1"/><rect x="1232" y="198" width="1" height="4"/><rect x="1231" y="198" width="3" height="2"/><rect x="1233" y="195" width="1" height="10"/><rect x="1232" y="198" width="3" height="5"/><rect x="1233" y="200" width="1" height="3"/><rect x="1232" y="201" width="3" height="2"/><rect x="1234" y="200" width="1" height="5"/><rect x="1233" y="201" width="3" height="4"/><rect x="1235" y="195" width="1" height="11"/><rect x="1234" y="198" width="3" height="7"/><rect x="1235" y="199" width="1" height="5" fill="#fff"/><rect x="1236" y="197" width="1" height="3"/><rect x="1235" y="198" width="3" height="1"/><rect x="1237" y="196" width="1" height="6"/><rect x="1236" y="197" width="3" height="2"/><rect x="1238" y="194" width="1" height="6"/><rect x="1237" y="195" width="3" height="2"/><rect x="1237" y="195" width="3" height="5"/><rect x="1239" y="193" width="1" height="13"/><rect x="1238" y="195" width="3" height="5"/><rect x="1239" y="196" width="1" height="3" fill="#fff"/><rect x="1240" y="194" width="1" height="4"/><rect x="1239" y="195" width="3" height="1"/><rect x="1241" y="192" width="1" height="16"/><rect x="1240" y="195" width="3" height="10"/><rect x="1242" y="196" width="1" height="10"/><rect x="1241" y="197" width="3" height="8"/><rect x="1242" y="198" width="1" height="6" fill="#fff"/><rect x="1242" y="196" width="1" height="3"/><rect x="1241" y="196" width="3" height="1"/><rect x="1243" y="195" width="1" height="6"/><rect x="1242" y="196" width="3" height="2"/><rect x="1244" y="192" width="1" height="8"/><rect x="1243" y="194" width="3" height="4"/><rect x="1244" y="195" width="1" height="2" fill="#fff"/><rect x="1245" y="187" width="1" height="15"/><rect x="1244" y="194" width="3" height="4"/><rect x="1246" y="193" width="1" height="6"/><rect x="1245" y="193" width="3" height="5"/><rect x="1246" y="194" width="1" height="3" fill="#fff"/><rect x="1247" y="190" width="1" height="8"/><rect x="1246" y="193" width="3" height="3"/><rect x="1247" y="196" width="1" height="3"/><rect x="1246" y="196" width="3" height="1"/><rect x="1248" y="195" width="1" height="10"/><rect x="1247" y="197" width="3" height="7"/><rect x="1249" y="198" width="1" height="8"/><rect x="1248" y="203" width="3" height="1"/><rect x="1250" y="201" width="1" height="11"/><rect x="1249" y="203" width="3" height="5"/><rect x="1251" y="207" width="1" height="3"/><rect x="1250" y="208" width="3" height="1"/><rect x="1252" y="198" width="1" height="12"/><rect x="1251" y="201" width="3" height="7"/><rect x="1252" y="202" width="1" height="5" fill="#fff"/><rect x="1252" y="201" width="1" height="4"/><rect x="1251" y="201" width="3" height="3"/><rect x="1253" y="199" width="1" height="6"/><rect x="1252" y="201" width="3" height="3"/><rect x="1253" y="202" width="1" height="1" fill="#fff"/><rect x="1254" y="197" width="1" height="4"/><rect x="1253" y="200" width="3" height="1"/><rect x="1255" y="195" width="1" height="12"/><rect x="1254" y="200" width="3" height="5"/><rect x="1256" y="204" width="1" height="2"/><rect x="1255" y="205" width="3" height="1"/><rect x="1256" y="200" width="1" height="8"/><rect x="1255" y="201" width="3" height="4"/><rect x="1256" y="202" width="1" height="2" fill="#fff"/><rect x="1257" y="199" width="1" height="4"/><rect x="1256" y="201" width="3" height="1"/><rect x="1258" y="199" width="1" height="6"/><rect x="1257" y="200" width="3" height="1"/><rect x="1259" y="198" width="1" height="5"/><rect x="1258" y="200" width="3" height="1"/><rect x="1260" y="196" width="1" height="5"/><rect x="1259" y="200" width="3" height="1"/><rect x="1261" y="193" width="1" height="9"/><rect x="1260" y="195" width="3" height="5"/><rect x="1261" y="196" width="1" height="3" fill="#fff"/><rect x="1261" y="193" width="1" height="10"/><rect x="1260" y="195" width="3" height="5"/><rect x="1262" y="194" width="1" height="7"/><rect x="1261" y="195" width="3" height="5"/><rect x="1262" y="196" width="1" height="3" fill="#fff"/><rect x="1263" y="194" width="1" height="2"/><rect x="1262" y="194" width="3" height="1"/><rect x="1264" y="193" width="1" height="9"/><rect x="1263" y="194" width="3" height="5"/><rect x="1265" y="199" width="1" height="5"/><rect x="1264" y="199" width="3" height="4"/><rect x="1266" y="196" width="1" height="12"/><rect x="1265" y="203" width="3" height="3"/><rect x="1266" y="203" width="1" height="6"/><rect x="1265" y="206" width="3" height="1"/><rect x="1267" y="204" width="1" height="3"/><rect x="1266" y="205" width="3" height="1"/><rect x="1268" y="202" width="1" height="5"/><rect x="1267" y="202" width="3" height="3"/><rect x="1268" y="203" width="1" height="1" fill="#fff"/><rect x="1269" y="200" width="1" height="6"/><rect x="1268" y="202" width="3" height="3"/><rect x="1270" y="200" width="1" height="9"/><rect x="1269" y="205" width="3" height="1"/><rect x="1270" y="204" width="1" height="3"/><rect x="1269" y="205" width="3" height="1"/><rect x="1271" y="201" width="1" height="5"/><rect x="1270" y="202" width="3" height="3"/><rect x="1271" y="203" width="1" height="1" fill="#fff"/><rect x="1272" y="201" width="1" height="8"/><rect x="1271" y="202" width="3" height="7"/><rect x="1273" y="204" width="1" height="5"/><rect x="1272" y="206" width="3" height="3"/><rect x="1273" y="207" width="1" height="1" fill="#fff"/><rect x="1274" y="205" width="1" height="3"/><rect x="1273" y="206" width="3" height="1"/><rect x="1275" y="206" width="1" height="4"/><rect x="1274" y="207" width="3" height="1"/><rect x="1275" y="204" width="1" height="5"/><rect x="1274" y="207" width="3" height="1"/><rect x="1276" y="207" width="1" height="8"/><rect x="1275" y="207" width="3" height="5"/><rect x="1276" y="206" width="3" height="6"/><rect x="1277" y="207" width="1" height="4" fill="#fff"/><rect x="1278" y="204" width="1" height="4"/><rect x="1277" y="206" width="3" height="1"/><rect x="1279" y="199" width="1" height="9"/><rect x="1278" y="202" width="3" height="4"/><rect x="1279" y="203" width="1" height="2" fill="#fff"/><rect x="1280" y="200" width="1" height="5"/><rect x="1279" y="202" width="3" height="1"/><rect x="1280" y="198" width="1" height="6"/><rect x="1279" y="198" width="3" height="4"/><rect x="1280" y="199" width="1" height="2" fill="#fff"/><rect x="1281" y="197" width="1" height="6"/><rect x="1280" y="198" width="3" height="4"/><rect x="1282" y="191" width="1" height="12"/><rect x="1281" y="192" width="3" height="10"/><rect x="1282" y="193" width="1" height="8" fill="#fff"/><rect x="1283" y="191" width="1" height="14"/><rect x="1282" y="192" width="3" height="9"/><rect x="1284" y="196" width="1" height="8"/><rect x="1283" y="196" width="3" height="5"/><rect x="1284" y="197" width="1" height="3" fill="#fff"/><rect x="1285" y="196" width="1" height="3"/><rect x="1284" y="196" width="3" height="1"/><rect x="1285" y="191" width="1" height="10"/><rect x="1284" y="192" width="3" height="5"/><rect x="1285" y="193" width="1" height="3" fill="#fff"/><rect x="1286" y="191" width="1" height="5"/><rect x="1285" y="192" width="3" height="3"/><rect x="1287" y="185" width="1" height="12"/><rect x="1286" y="189" width="3" height="6"/><rect x="1287" y="190" width="1" height="4" fill="#fff"/><rect x="1288" y="188" width="1" height="2"/><rect x="1287" y="189" width="3" height="1"/><rect x="1289" y="178" width="1" height="13"/><rect x="1288" y="181" width="3" height="8"/><rect x="1289" y="182" width="1" height="6" fill="#fff"/><rect x="1289" y="181" width="1" height="8"/><rect x="1288" y="181" width="3" height="4"/><rect x="1290" y="178" width="1" height="7"/><rect x="1289" y="179" width="3" height="6"/><rect x="1290" y="180" width="1" height="4" fill="#fff"/><rect x="1291" y="167" width="1" height="13"/><rect x="1290" y="168" width="3" height="11"/><rect x="1291" y="169" width="1" height="9" fill="#fff"/><rect x="1292" y="165" width="1" height="6"/><rect x="1291" y="168" width="3" height="1"/><rect x="1293" y="164" width="1" height="8"/><rect x="1292" y="164" width="3" height="5"/><rect x="1293" y="165" width="1" height="3" fill="#fff"/><rect x="1294" y="164" width="1" height="6"/><rect x="1293" y="164" width="3" height="5"/><rect x="1293" y="165" width="3" height="4"/><rect x="1294" y="166" width="1" height="2" fill="#fff"/><rect x="1295" y="163" width="1" height="7"/><rect x="1294" y="165" width="3" height="5"/><rect x="1296" y="169" width="1" height="6"/><rect x="1295" y="170" width="3" height="5"/><rect x="1297" y="169" width="1" height="7"/><rect x="1296" y="170" width="3" height="5"/><rect x="1297" y="171" width="1" height="3" fill="#fff"/><rect x="1298" y="169" width="1" height="13"/><rect x="1297" y="170" width="3" height="11"/><rect x="1299" y="176" width="1" height="5"/><rect x="1298" y="177" width="3" height="4"/><rect x="1299" y="178" width="1" height="2" fill="#fff"/><rect x="1299" y="174" width="1" height="5"/><rect x="1298" y="177" width="3" height="1"/><rect x="1300" y="171" width="1" height="9"/><rect x="1299" y="173" width="3" height="5"/><rect x="1300" y="174" width="1" height="3" fill="#fff"/><rect x="1301" y="166" width="1" height="8"/><rect x="1300" y="169" width="3" height="4"/><rect x="1301" y="170" width="1" height="2" fill="#fff"/><rect x="1302" y="168" width="1" height="9"/><rect x="1301" y="169" width="3" height="7"/><rect x="1303" y="165" width="1" height="18"/><rect x="1302" y="169" width="3" height="7"/><rect x="1303" y="170" width="1" height="5" fill="#fff"/><rect x="1304" y="164" width="1" height="7"/><rect x="1303" y="166" width="3" height="3"/><rect x="1304" y="167" width="1" height="1" fill="#fff"/><rect x="1304" y="162" width="1" height="9"/><rect x="1303" y="166" width="3" height="5"/><rect x="1305" y="168" width="1" height="4"/><rect x="1304" y="171" width="3" height="1"/><rect x="1306" y="171" width="1" height="2"/><rect x="1305" y="171" width="3" height="1"/><rect x="1307" y="166" width="1" height="7"/><rect x="1306" y="168" width="3" height="3"/><rect x="1307" y="169" width="1" height="1" fill="#fff"/><rect x="1308" y="166" width="1" height="4"/><rect x="1307" y="166" width="3" height="2"/><rect x="1308" y="166" width="1" height="11"/><rect x="1307" y="166" width="3" height="8"/><rect x="1309" y="165" width="1" height="11"/><rect x="1308" y="169" width="3" height="5"/><rect x="1309" y="170" width="1" height="3" fill="#fff"/><rect x="1310" y="162" width="1" height="8"/><rect x="1309" y="166" width="3" height="3"/><rect x="1310" y="167" width="1" height="1" fill="#fff"/><rect x="1311" y="165" width="1" height="10"/><rect x="1310" y="166" width="3" height="7"/><rect x="1312" y="167" width="1" height="7"/><rect x="1311" y="168" width="3" height="5"/><rect x="1312" y="169" width="1" height="3" fill="#fff"/><rect x="1313" y="166" width="1" height="8"/><rect x="1312" y="168" width="3" height="5"/><rect x="1313" y="171" width="1" height="13"/><rect x="1312" y="173" width="3" height="8"/><rect x="1314" y="178" width="1" height="4"/><rect x="1313" y="178" width="3" height="3"/><rect x="1314" y="179" width="1" height="1" fill="#fff"/><rect x="1315" y="175" width="1" height="6"/><rect x="1314" y="176" width="3" height="2"/><rect x="1316" y="176" width="1" height="4"/><rect x="1315" y="176" width="3" height="2"/><rect x="1317" y="176" width="1" height="13"/><rect x="1316" y="178" width="3" height="8"/><rect x="1318" y="178" width="1" height="9"/><rect x="1317" y="179" width="3" height="7"/><rect x="1318" y="180" width="1" height="5" fill="#fff"/><rect x="1318" y="179" width="1" height="7"/><rect x="1317" y="179" width="3" height="6"/><rect x="1319" y="184" width="1" height="5"/><rect x="1318" y="185" width="3" height="2"/><rect x="1320" y="176" width="1" height="13"/><rect x="1319" y="181" width="3" height="6"/><rect x="1320" y="182" width="1" height="4" fill="#fff"/><rect x="1321" y="181" width="1" height="8"/><rect x="1320" y="181" width="3" height="2"/><rect x="1322" y="176" width="1" height="8"/><rect x="1321" y="180" width="3" height="3"/><rect x="1322" y="181" width="1" height="1" fill="#fff"/><rect x="1322" y="178" width="1" height="6"/><rect x="1321" y="180" width="3" height="4"/><rect x="1323" y="177" width="1" height="8"/><rect x="1322" y="177" width="3" height="7"/><rect x="1323" y="178" width="1" height="5" fill="#fff"/><rect x="1324" y="165" width="1" height="13"/><rect x="1323" y="169" width="3" height="8"/><rect x="1324" y="170" width="1" height="6" fill="#fff"/><rect x="1325" y="163" width="1" height="7"/><rect x="1324" y="168" width="3" height="1"/><rect x="1326" y="160" width="1" height="10"/><rect x="1325" y="162" width="3" height="6"/><rect x="1326" y="163" width="1" height="4" fill="#fff"/><rect x="1327" y="156" width="1" height="10"/><rect x="1326" y="157" width="3" height="5"/><rect x="1327" y="158" width="1" height="3" fill="#fff"/><rect x="1327" y="156" width="1" height="4"/><rect x="1326" y="157" width="3" height="1"/><rect x="1328" y="154" width="1" height="6"/><rect x="1327" y="154" width="3" height="4"/><rect x="1328" y="155" width="1" height="2" fill="#fff"/><rect x="1329" y="154" width="1" height="2"/><rect x="1328" y="154" width="3" height="1"/><rect x="1330" y="153" width="1" height="7"/><rect x="1329" y="155" width="3" height="5"/><rect x="1331" y="141" width="1" height="19"/><rect x="1330" y="146" width="3" height="14"/><rect x="1331" y="147" width="1" height="12" fill="#fff"/><rect x="1332" y="145" width="1" height="5"/><rect x="1331" y="146" width="3" height="2"/><rect x="1332" y="139" width="1" height="10"/><rect x="1331" y="142" width="3" height="6"/><rect x="1332" y="143" width="1" height="4" fill="#fff"/><rect x="1333" y="139" width="1" height="9"/><rect x="1332" y="140" width="3" height="2"/><rect x="1334" y="139" width="1" height="9"/><rect x="1333" y="140" width="3" height="6"/><rect x="1335" y="142" width="1" height="6"/><rect x="1334" y="143" width="3" height="3"/><rect x="1335" y="144" width="1" height="1" fill="#fff"/><rect x="1336" y="136" width="1" height="13"/><rect x="1335" y="138" width="3" height="5"/><rect x="1336" y="139" width="1" height="3" fill="#fff"/><rect x="1336" y="135" width="1" height="6"/><rect x="1335" y="138" width="3" height="3"/><rect x="1337" y="134" width="1" height="9"/><rect x="1336" y="141" width="3" height="2"/><rect x="1338" y="134" width="1" height="11"/><rect x="1337" y="134" width="3" height="9"/><rect x="1338" y="135" width="1" height="7" fill="#fff"/><rect x="1339" y="133" width="1" height="10"/><rect x="1338" y="134" width="3" height="7"/><rect x="1340" y="140" width="1" height="3"/><rect x="1339" y="141" width="3" height="1"/><rect x="1341" y="138" width="1" height="9"/><rect x="1340" y="141" width="3" height="3"/><rect x="1341" y="143" width="1" height="11"/><rect x="1340" y="144" width="3" height="8"/><rect x="1341" y="143" width="3" height="9"/><rect x="1342" y="144" width="1" height="7" fill="#fff"/><rect x="1343" y="139" width="1" height="9"/><rect x="1342" y="143" width="3" height="2"/><rect x="1344" y="142" width="1" height="5"/><rect x="1343" y="143" width="3" height="2"/><rect x="1345" y="142" width="1" height="8"/><rect x="1344" y="143" width="3" height="6"/><rect x="1346" y="144" width="1" height="11"/><rect x="1345" y="149" width="3" height="2"/><rect x="1346" y="138" width="1" height="17"/><rect x="1345" y="140" width="3" height="11"/><rect x="1346" y="141" width="1" height="9" fill="#fff"/><rect x="1347" y="140" width="1" height="16"/><rect x="1346" y="140" width="3" height="15"/><rect x="1348" y="155" width="1" height="5"/><rect x="1347" y="155" width="3" height="1"/><rect x="1349" y="138" width="1" height="18"/><rect x="1348" y="142" width="3" height="14"/><rect x="1349" y="143" width="1" height="12" fill="#fff"/><rect x="1350" y="139" width="1" height="9"/><rect x="1349" y="142" width="3" height="5"/><rect x="1351" y="143" width="1" height="13"/><rect x="1350" y="147" width="3" height="9"/><rect x="1351" y="155" width="1" height="4"/><rect x="1350" y="156" width="3" height="1"/><rect x="1352" y="156" width="1" height="7"/><rect x="1351" y="156" width="3" height="6"/><rect x="1353" y="142" width="1" height="22"/><rect x="1352" y="146" width="3" height="16"/><rect x="1353" y="147" width="1" height="14" fill="#fff"/><rect x="1354" y="143" width="1" height="4"/><rect x="1353" y="143" width="3" height="3"/><rect x="1354" y="144" width="1" height="1" fill="#fff"/><rect x="1355" y="125" width="1" height="18"/><rect x="1354" y="129" width="3" height="14"/><rect x="1355" y="130" width="1" height="12" fill="#fff"/><rect x="1355" y="127" width="1" height="7"/><rect x="1354" y="129" width="3" height="2"/><rect x="1356" y="123" width="1" height="10"/><rect x="1355" y="124" width="3" height="7"/><rect x="1356" y="125" width="1" height="5" fill="#fff"/><rect x="1357" y="118" width="1" height="9"/><rect x="1356" y="120" width="3" height="4"/><rect x="1357" y="121" width="1" height="2" fill="#fff"/><rect x="1358" y="111" width="1" height="9"/><rect x="1357" y="112" width="3" height="8"/><rect x="1358" y="113" width="1" height="6" fill="#fff"/><rect x="1359" y="112" width="1" height="10"/><rect x="1358" y="112" width="3" height="9"/><rect x="1360" y="120" width="1" height="13"/><rect x="1359" y="121" width="3" height="11"/><rect x="1360" y="130" width="1" height="6"/><rect x="1359" y="132" width="3" height="1"/><rect x="1361" y="131" width="1" height="13"/><rect x="1360" y="132" width="3" height="11"/><rect x="1362" y="141" width="1" height="13"/><rect x="1361" y="143" width="3" height="11"/><rect x="1363" y="153" width="1" height="6"/><rect x="1362" y="154" width="3" height="1"/><rect x="1364" y="155" width="1" height="10"/><rect x="1363" y="155" width="3" height="9"/><rect x="1365" y="163" width="1" height="6"/><rect x="1364" y="164" width="3" height="5"/><rect x="1365" y="165" width="1" height="6"/><rect x="1364" y="169" width="3" height="1"/><rect x="1366" y="149" width="1" height="22"/><rect x="1365" y="152" width="3" height="18"/><rect x="1366" y="153" width="1" height="16" fill="#fff"/><rect x="1367" y="147" width="1" height="5"/><rect x="1366" y="148" width="3" height="4"/><rect x="1367" y="149" width="1" height="2" fill="#fff"/><rect x="1368" y="131" width="1" height="18"/><rect x="1367" y="136" width="3" height="12"/><rect x="1368" y="137" width="1" height="10" fill="#fff"/><rect x="1369" y="128" width="1" height="10"/><rect x="1368" y="130" width="3" height="6"/><rect x="1369" y="131" width="1" height="4" fill="#fff"/><rect x="1370" y="123" width="1" height="9"/><rect x="1369" y="125" width="3" height="5"/><rect x="1370" y="126" width="1" height="3" fill="#fff"/><rect x="1370" y="120" width="1" height="10"/><rect x="1369" y="123" width="3" height="2"/><rect x="1371" y="116" width="1" height="8"/><rect x="1370" y="117" width="3" height="6"/><rect x="1371" y="118" width="1" height="4" fill="#fff"/><rect x="1372" y="113" width="1" height="9"/><rect x="1371" y="117" width="3" height="5"/><rect x="1373" y="119" width="1" height="4"/><rect x="1372" y="121" width="3" height="1"/><rect x="1374" y="119" width="1" height="8"/><rect x="1373" y="121" width="3" height="3"/><rect x="1374" y="123" width="1" height="12"/><rect x="1373" y="124" width="3" height="10"/><rect x="1375" y="132" width="1" height="6"/><rect x="1374" y="134" width="3" height="1"/><rect x="1376" y="133" width="1" height="20"/><rect x="1375" y="134" width="3" height="16"/><rect x="1377" y="149" width="1" height="5"/><rect x="1376" y="150" width="3" height="1"/><rect x="1378" y="140" width="1" height="12"/><rect x="1377" y="144" width="3" height="7"/><rect x="1378" y="145" width="1" height="5" fill="#fff"/><rect x="1379" y="129" width="1" height="18"/><rect x="1378" y="130" width="3" height="14"/><rect x="1379" y="131" width="1" height="12" fill="#fff"/><rect x="1379" y="127" width="1" height="8"/><rect x="1378" y="127" width="3" height="3"/><rect x="1379" y="128" width="1" height="1" fill="#fff"/><rect x="1380" y="117" width="1" height="10"/><rect x="1379" y="119" width="3" height="8"/><rect x="1380" y="120" width="1" height="6" fill="#fff"/><rect x="1381" y="111" width="1" height="15"/><rect x="1380" y="119" width="3" height="2"/><rect x="1382" y="108" width="1" height="16"/><rect x="1381" y="111" width="3" height="10"/><rect x="1382" y="112" width="1" height="8" fill="#fff"/><rect x="1383" y="110" width="1" height="9"/><rect x="1382" y="111" width="3" height="4"/><rect x="1384" y="114" width="1" height="6"/><rect x="1383" y="115" width="3" height="2"/><rect x="1384" y="114" width="1" height="13"/><rect x="1383" y="117" width="3" height="6"/><rect x="1385" y="122" width="1" height="7"/><rect x="1384" y="123" width="3" height="4"/><rect x="1386" y="125" width="1" height="6"/><rect x="1385" y="127" width="3" height="4"/><rect x="1387" y="130" width="1" height="5"/><rect x="1386" y="131" width="3" height="2"/><rect x="1388" y="131" width="1" height="16"/><rect x="1387" y="133" width="3" height="10"/><rect x="1388" y="142" width="1" height="6"/><rect x="1387" y="143" width="3" height="5"/><rect x="1389" y="147" width="1" height="6"/><rect x="1388" y="148" width="3" height="4"/><rect x="1390" y="152" width="1" height="16"/><rect x="1389" y="152" width="3" height="15"/><rect x="1391" y="160" width="1" height="7"/><rect x="1390" y="161" width="3" height="6"/><rect x="1391" y="162" width="1" height="4" fill="#fff"/><rect x="1392" y="161" width="1" height="3"/><rect x="1391" y="161" width="3" height="2"/><rect x="1393" y="158" width="1" height="7"/><rect x="1392" y="161" width="3" height="2"/><rect x="1393" y="158" width="1" height="5"/><rect x="1392" y="160" width="3" height="1"/><rect x="1394" y="159" width="1" height="5"/><rect x="1393" y="160" width="3" height="2"/><rect x="1395" y="148" width="1" height="14"/><rect x="1394" y="150" width="3" height="12"/><rect x="1395" y="151" width="1" height="10" fill="#fff"/><rect x="1396" y="149" width="1" height="17"/><rect x="1395" y="150" width="3" height="9"/><rect x="1397" y="144" width="1" height="20"/><rect x="1396" y="146" width="3" height="13"/><rect x="1397" y="147" width="1" height="11" fill="#fff"/><rect x="1398" y="144" width="1" height="17"/><rect x="1397" y="146" width="3" height="9"/><rect x="1398" y="149" width="1" height="9"/><rect x="1397" y="150" width="3" height="5"/><rect x="1398" y="151" width="1" height="3" fill="#fff"/><rect x="1399" y="139" width="1" height="14"/><rect x="1398" y="139" width="3" height="11"/><rect x="1399" y="140" width="1" height="9" fill="#fff"/><rect x="1400" y="138" width="1" height="5"/><rect x="1399" y="139" width="3" height="4"/><rect x="1401" y="136" width="1" height="10"/><rect x="1400" y="138" width="3" height="5"/><rect x="1401" y="139" width="1" height="3" fill="#fff"/><rect x="1402" y="134" width="1" height="7"/><rect x="1401" y="134" width="3" height="4"/><rect x="1402" y="135" width="1" height="2" fill="#fff"/><rect x="1402" y="131" width="1" height="20"/><rect x="1401" y="134" width="3" height="13"/><rect x="1403" y="143" width="1" height="10"/><rect x="1402" y="147" width="3" height="3"/><rect x="1404" y="148" width="1" height="6"/><rect x="1403" y="150" width="3" height="1"/><rect x="1405" y="148" width="1" height="15"/><rect x="1404" y="151" width="3" height="9"/><rect x="1406" y="159" width="1" height="3"/><rect x="1405" y="160" width="3" height="1"/><rect x="1407" y="159" width="1" height="8"/><rect x="1406" y="161" width="3" height="5"/><rect x="1407" y="164" width="1" height="13"/><rect x="1406" y="166" width="3" height="11"/><rect x="1408" y="171" width="1" height="8"/><rect x="1407" y="173" width="3" height="4"/><rect x="1408" y="174" width="1" height="2" fill="#fff"/><rect x="1409" y="172" width="1" height="14"/><rect x="1408" y="173" width="3" height="10"/><rect x="1410" y="179" width="1" height="12"/><rect x="1409" y="183" width="3" height="5"/><rect x="1411" y="184" width="1" height="6"/><rect x="1410" y="188" width="3" height="1"/><rect x="1412" y="187" width="1" height="5"/><rect x="1411" y="188" width="3" height="3"/><rect x="1412" y="191" width="1" height="9"/><rect x="1411" y="191" width="3" height="5"/><rect x="1413" y="191" width="1" height="7"/><rect x="1412" y="195" width="3" height="1"/><rect x="1414" y="183" width="1" height="13"/><rect x="1413" y="184" width="3" height="11"/><rect x="1414" y="185" width="1" height="9" fill="#fff"/><rect x="1415" y="166" width="1" height="21"/><rect x="1414" y="167" width="3" height="17"/><rect x="1415" y="168" width="1" height="15" fill="#fff"/><rect x="1416" y="167" width="1" height="10"/><rect x="1415" y="167" width="3" height="8"/><rect x="1417" y="162" width="1" height="16"/><rect x="1416" y="169" width="3" height="6"/><rect x="1417" y="170" width="1" height="4" fill="#fff"/><rect x="1417" y="168" width="1" height="11"/><rect x="1416" y="169" width="3" height="6"/><rect x="1418" y="166" width="1" height="12"/><rect x="1417" y="168" width="3" height="7"/><rect x="1418" y="169" width="1" height="5" fill="#fff"/><rect x="1419" y="168" width="1" height="8"/><rect x="1418" y="168" width="3" height="4"/><rect x="1420" y="172" width="1" height="6"/><rect x="1419" y="172" width="3" height="4"/><rect x="1421" y="173" width="1" height="7"/><rect x="1420" y="176" width="3" height="2"/><rect x="1421" y="172" width="1" height="9"/><rect x="1420" y="173" width="3" height="5"/><rect x="1421" y="174" width="1" height="3" fill="#fff"/><rect x="1422" y="171" width="1" height="18"/><rect x="1421" y="173" width="3" height="14"/><rect x="1423" y="182" width="1" height="8"/><rect x="1422" y="184" width="3" height="3"/><rect x="1423" y="185" width="1" height="1" fill="#fff"/><rect x="1424" y="184" width="1" height="2"/><rect x="1423" y="184" width="3" height="1"/><rect x="1425" y="181" width="1" height="7"/><rect x="1424" y="182" width="3" height="3"/><rect x="1425" y="183" width="1" height="1" fill="#fff"/><rect x="1426" y="182" width="1" height="16"/><rect x="1425" y="182" width="3" height="15"/><rect x="1426" y="194" width="1" height="6"/><rect x="1425" y="196" width="3" height="1"/><rect x="1427" y="194" width="1" height="8"/><rect x="1426" y="196" width="3" height="6"/><rect x="1428" y="199" width="1" height="3"/><rect x="1427" y="200" width="3" height="2"/><rect x="1429" y="199" width="1" height="12"/><rect x="1428" y="200" width="3" height="10"/><rect x="1430" y="202" width="1" height="8"/><rect x="1429" y="205" width="3" height="5"/><rect x="1430" y="206" width="1" height="3" fill="#fff"/><rect x="1431" y="192" width="1" height="13"/><rect x="1430" y="195" width="3" height="10"/><rect x="1431" y="196" width="1" height="8" fill="#fff"/><rect x="1431" y="195" width="1" height="5"/><rect x="1430" y="195" width="3" height="4"/><rect x="1432" y="185" width="1" height="14"/><rect x="1431" y="186" width="3" height="13"/><rect x="1432" y="187" width="1" height="11" fill="#fff"/><rect x="1433" y="182" width="1" height="12"/><rect x="1432" y="186" width="3" height="5"/><rect x="1434" y="184" width="1" height="9"/><rect x="1433" y="189" width="3" height="2"/><rect x="1435" y="185" width="1" height="4"/><rect x="1434" y="187" width="3" height="2"/><rect x="1436" y="179" width="1" height="13"/><rect x="1435" y="180" width="3" height="7"/><rect x="1436" y="181" width="1" height="5" fill="#fff"/><rect x="1436" y="175" width="1" height="10"/><rect x="1435" y="180" width="3" height="2"/><rect x="1437" y="179" width="1" height="12"/><rect x="1436" y="182" width="3" height="8"/><rect x="1438" y="189" width="1" height="8"/><rect x="1437" y="190" width="3" height="3"/><rect x="1439" y="192" width="1" height="2"/><rect x="1438" y="192" width="3" height="1"/><rect x="1440" y="189" width="1" height="5"/><rect x="1439" y="192" width="3" height="2"/><rect x="1439" y="194" width="3" height="2"/><rect x="1441" y="194" width="1" height="13"/><rect x="1440" y="196" width="3" height="9"/><rect x="1442" y="199" width="1" height="6"/><rect x="1441" y="202" width="3" height="3"/><rect x="1442" y="203" width="1" height="1" fill="#fff"/><rect x="1443" y="201" width="1" height="2"/><rect x="1442" y="202" width="3" height="1"/><rect x="1444" y="196" width="1" height="10"/><rect x="1443" y="197" width="3" height="5"/><rect x="1444" y="198" width="1" height="3" fill="#fff"/><rect x="1445" y="195" width="1" height="5"/><rect x="1444" y="197" width="3" height="1"/><rect x="1445" y="196" width="1" height="7"/><rect x="1444" y="198" width="3" height="2"/><rect x="1446" y="195" width="1" height="9"/><rect x="1445" y="197" width="3" height="3"/><rect x="1446" y="198" width="1" height="1" fill="#fff"/><rect x="1447" y="195" width="1" height="12"/><rect x="1446" y="197" width="3" height="6"/><rect x="1448" y="200" width="1" height="5"/><rect x="1447" y="203" width="3" height="1"/><rect x="1449" y="196" width="1" height="11"/><rect x="1448" y="201" width="3" height="3"/><rect x="1449" y="202" width="1" height="1" fill="#fff"/><rect x="1450" y="199" width="1" height="5"/><rect x="1449" y="201" width="3" height="1"/><rect x="1450" y="200" width="1" height="4"/><rect x="1449" y="202" width="3" height="1"/><rect x="1451" y="196" width="1" height="10"/><rect x="1450" y="196" width="3" height="7"/><rect x="1451" y="197" width="1" height="5" fill="#fff"/><rect x="1452" y="195" width="1" height="10"/><rect x="1451" y="196" width="3" height="8"/><rect x="1453" y="182" width="1" height="23"/><rect x="1452" y="189" width="3" height="15"/><rect x="1453" y="190" width="1" height="13" fill="#fff"/><rect x="1454" y="187" width="1" height="13"/><rect x="1453" y="189" width="3" height="10"/><rect x="1454" y="183" width="1" height="18"/><rect x="1453" y="187" width="3" height="12"/><rect x="1454" y="188" width="1" height="10" fill="#fff"/><rect x="1455" y="186" width="1" height="10"/><rect x="1454" y="187" width="3" height="6"/><rect x="1456" y="189" width="1" height="5"/><rect x="1455" y="193" width="3" height="1"/><rect x="1457" y="190" width="1" height="7"/><rect x="1456" y="193" width="3" height="3"/><rect x="1458" y="185" width="1" height="11"/><rect x="1457" y="188" width="3" height="8"/><rect x="1458" y="189" width="1" height="6" fill="#fff"/><rect x="1459" y="188" width="1" height="4"/><rect x="1458" y="188" width="3" height="1"/><rect x="1459" y="179" width="1" height="11"/><rect x="1458" y="179" width="3" height="10"/><rect x="1459" y="180" width="1" height="8" fill="#fff"/><rect x="1460" y="178" width="1" height="10"/><rect x="1459" y="179" width="3" height="7"/><rect x="1460" y="181" width="3" height="5"/><rect x="1461" y="182" width="1" height="3" fill="#fff"/><rect x="1462" y="180" width="1" height="3"/><rect x="1461" y="181" width="3" height="2"/><rect x="1463" y="181" width="1" height="10"/><rect x="1462" y="183" width="3" height="1"/><rect x="1464" y="173" width="1" height="14"/><rect x="1463" y="177" width="3" height="7"/><rect x="1464" y="178" width="1" height="5" fill="#fff"/><rect x="1464" y="174" width="1" height="8"/><rect x="1463" y="177" width="3" height="3"/><rect x="1465" y="180" width="1" height="2"/><rect x="1464" y="180" width="3" height="1"/><rect x="1466" y="181" width="1" height="4"/><rect x="1465" y="181" width="3" height="3"/></g>
<polyline points="0,342.0 1,342.6 2,343.3 3,343.9 4,344.5 5,345.2 6,345.8 7,346.5 8,347.1 9,347.7 10,348.4 11,349.0 12,349.8 13,350.6 14,351.5 15,352.3 16,353.1 17,353.9 18,354.7 19,355.5 20,356.4 21,357.2 22,358.0 23,358.7 24,359.4 25,360.1 26,360.8 27,361.5 28,362.2 29,362.9 30,363.6 31,364.3 32,365.0 33,365.7 34,366.5 35,367.2 36,368.0 37,368.8 38,369.5 39,370.3 40,371.1 41,371.8 42,372.6 43,373.4 44,374.1 45,374.8 46,375.3 47,375.8 48,376.3 49,376.7 50,377.2 51,377.7 52,378.2 53,378.7 54,379.2 55,379.7 56,380.2 57,380.7 58,381.2 59,381.7 60,382.2 61,382.7 62,383.2 63,383.7 64,384.3 65,384.8 66,385.3 67,385.8 68,386.4 69,387.0 70,387.6 71,388.2 72,388.8 73,389.4 74,390.0 75,390.6 76,391.2 77,391.8 78,392.4 79,393.0 80,393.6 81,394.2 82,394.8 83,395.4 84,396.0 85,396.6 86,397.2 87,397.8 88,398.4 89,399.0 90,399.4 91,399.9 92,400.3 93,400.8 94,401.2 95,401.7 96,402.1 97,402.6 98,403.0 99,403.0 100,403.0 101,403.0 102,403.0 103,403.0 104,403.0 105,403.0 106,403.0 107,403.0 108,403.0 109,403.0 110,403.0 111,403.0 112,403.0 113,402.9 114,402.9 115,402.9 116,402.9 117,402.8 118,402.8 119,402.8 120,402.8 121,402.7 122,402.7 123,402.7 124,402.6 125,402.6 126,402.6 127,402.6 128,402.5 129,402.5 130,402.3 131,402.1 132,401.9 133,401.8 134,401.6 135,401.4 136,401.2 137,401.0 138,400.8 139,400.7 140,400.5 141,400.3 142,400.1 143,400.0 144,400.0 145,400.0 146,399.9 147,399.9 148,399.9 149,399.9 150,399.9 151,399.9 152,399.9 153,399.8 154,399.8 155,399.8 156,399.8 157,399.9 158,400.1 159,400.2 160,400.3 161,400.5 162,400.6 163,400.7 164,400.9 165,401.0 166,401.5 167,401.9 168,402.4 169,402.8 170,403.3 171,403.8 172,404.2 173,404.7 174,405.2 175,405.6 176,406.1 177,406.5 178,407.0 179,407.3 180,407.6 181,407.9 182,408.2 183,408.5 184,408.8 185,409.1 186,409.4 187,409.6 188,409.9 189,410.2 190,410.5 191,410.8 192,411.1 193,411.5 194,411.9 195,412.3 196,412.6 197,413.0 198,413.4 199,413.8 200,414.1 201,414.5 202,414.9 203,415.3 204,415.6 205,416.0 206,416.1 207,416.2 208,416.2 209,416.3 210,416.4 211,416.5 212,416.5 213,416.6 214,416.7 215,416.8 216,416.8 217,416.9 218,417.0 219,417.0 220,417.0 221,417.0 222,417.0 223,417.0 224,417.0 225,417.0 226,417.0 227,417.0 228,417.0 229,417.0 230,417.0 231,417.0 232,417.0 233,416.8 234,416.6 235,416.5 236,416.3 237,416.1 238,415.9 239,415.8 240,415.6 241,415.4 242,415.2 243,415.1 244,414.9 245,414.7 246,414.4 247,414.2 248,413.9 249,413.6 250,413.3 251,413.1 252,412.8 253,412.5 254,412.2 255,412.0 256,411.7 257,411.4 258,411.1 259,410.9 260,410.7 261,410.6 262,410.4 263,410.2 264,410.1 265,409.9 266,409.7 267,409.6 268,409.4 269,409.2 270,409.0 271,408.9 272,408.7 273,408.6 274,408.4 275,408.3 276,408.1 277,408.0 278,407.8 279,407.7 280,407.6 281,407.4 282,407.3 283,407.1 284,407.0 285,406.9 286,406.7 287,406.6 288,406.4 289,406.1 290,405.9 291,405.6 292,405.4 293,405.2 294,404.9 295,404.7 296,404.4 297,404.2 298,403.9 299,403.5 300,402.9 301,402.3 302,401.7 303,401.0 304,400.4 305,399.8 306,399.1 307,398.5 308,397.9 309,397.3 310,396.6 311,396.0 312,395.3 313,394.5 314,393.8 315,393.1 316,392.4 317,391.6 318,390.9 319,390.2 320,389.5 321,388.7 322,388.0 323,387.4 324,386.9 325,386.3 326,385.7 327,385.1 328,384.6 329,384.0 330,383.4 331,382.9 332,382.3 333,381.7 334,381.2 335,380.7 336,380.2 337,379.7 338,379.2 339,378.8 340,378.3 341,377.8 342,377.3 343,376.8 344,376.3 345,375.9 346,375.6 347,375.3 348,375.0 349,374.7 350,374.3 351,374.0 352,373.7 353,373.4 354,373.1 355,372.8 356,372.5 357,372.3 358,372.1 359,371.8 360,371.6 361,371.4 362,371.1 363,370.9 364,370.6 365,370.4 366,370.2 367,369.9 368,369.7 369,369.5 370,369.2 371,369.0 372,368.5 373,368.1 374,367.6 375,367.1 376,366.7 377,366.2 378,365.7 379,365.2 380,364.8 381,364.3 382,363.8 383,363.3 384,362.7 385,362.1 386,361.5 387,360.9 388,360.3 389,359.7 390,359.1 391,358.5 392,358.0 393,357.4 394,356.9 395,356.6 396,356.4 397,356.1 398,355.9 399,355.6 400,355.4 401,355.1 402,354.9 403,354.6 404,354.4 405,354.1 406,353.9 407,353.6 408,353.1 409,352.6 410,352.1 411,351.6 412,351.1 413,350.6 414,350.0 415,349.5 416,349.0 417,348.5 418,348.0 419,347.5 420,347.0 421,346.7 422,346.4 423,346.1 424,345.8 425,345.5 426,345.2 427,345.0 428,344.7 429,344.4 430,344.1 431,343.8 432,343.5 433,343.2 434,342.9 435,342.6 436,342.3 437,342.0 438,341.7 439,341.4 440,341.1 441,340.8 442,340.5 443,340.2 444,339.9 445,339.6 446,339.3 447,339.0 448,338.8 449,338.6 450,338.4 451,338.2 452,338.0 453,337.8 454,337.7 455,337.5 456,337.3 457,337.1 458,336.9 459,336.7 460,336.5 461,336.3 462,336.2 463,336.0 464,335.9 465,335.7 466,335.5 467,335.4 468,335.2 469,335.1 470,334.9 471,334.7 472,334.6 473,334.4 474,334.2 475,334.1 476,333.9 477,333.8 478,333.6 479,333.3 480,333.1 481,332.8 482,332.5 483,332.3 484,332.0 485,331.7 486,331.5 487,331.2 488,331.0 489,330.7 490,330.4 491,330.2 492,329.9 493,329.6 494,329.2 495,328.9 496,328.6 497,328.3 498,328.0 499,327.7 500,327.4 501,327.1 502,326.7 503,326.4 504,326.1 505,325.8 506,325.4 507,324.9 508,324.5 509,324.1 510,323.6 511,323.2 512,322.7 513,322.3 514,321.9 515,321.4 516,321.0 517,320.9 518,320.7 519,320.6 520,320.5 521,320.3 522,320.2 523,320.0 524,319.9 525,319.8 526,319.6 527,319.5 528,319.4 529,319.4 530,319.3 531,319.2 532,319.2 533,319.1 534,319.0 535,319.0 536,318.9 537,318.8 538,318.8 539,318.7 540,318.6 541,318.5 542,318.3 543,318.1 544,317.9 545,317.7 546,317.5 547,317.4 548,317.2 549,317.0 550,316.8 551,316.6 552,316.4 553,316.4 554,316.5 555,316.5 556,316.5 557,316.6 558,316.6 559,316.6 560,316.7 561,316.7 562,316.7 563,316.8 564,316.8 565,316.8 566,316.9 567,316.9 568,316.9 569,317.0 570,317.1 571,317.1 572,317.2 573,317.2 574,317.3 575,317.4 576,317.4 577,317.5 578,317.6 579,317.6 580,317.7 581,317.8 582,317.8 583,317.9 584,317.9 585,318.0 586,318.0 587,318.0 588,318.0 589,318.0 590,318.0 591,318.0 592,318.0 593,318.0 594,318.0 595,318.0 596,318.0 597,318.0 598,318.0 599,318.0 600,318.0 601,317.8 602,317.7 603,317.5 604,317.4 605,317.2 606,317.1 607,316.9 608,316.7 609,316.6 610,316.4 611,316.3 612,316.1 613,316.0 614,315.8 615,315.6 616,315.5 617,315.3 618,315.1 619,315.0 620,314.8 621,314.6 622,314.5 623,314.3 624,314.1 625,314.0 626,313.8 627,313.6 628,313.5 629,313.3 630,313.1 631,313.0 632,312.8 633,312.6 634,312.4 635,312.3 636,312.1 637,311.9 638,311.7 639,311.6 640,311.4 641,311.1 642,310.7 643,310.4 644,310.1 645,309.8 646,309.4 647,309.1 648,308.8 649,308.5 650,308.1 651,307.8 652,307.5 653,307.2 654,306.8 655,306.5 656,306.2 657,305.8 658,305.5 659,305.2 660,304.8 661,304.5 662,304.1 663,303.8 664,303.5 665,303.1 666,302.8 667,302.5 668,302.2 669,302.0 670,301.7 671,301.5 672,301.2 673,301.0 674,300.7 675,300.5 676,300.2 677,300.0 678,299.7 679,299.5 680,299.2 681,298.9 682,298.6 683,298.3 684,297.9 685,297.6 686,297.3 687,296.9 688,296.6 689,296.2 690,295.9 691,295.6 692,295.2 693,294.9 694,294.6 695,294.2 696,293.9 697,293.6 698,293.3 699,292.9 700,292.6 701,292.3 702,291.9 703,291.6 704,291.3 705,291.0 706,290.6 707,290.3 708,290.1 709,289.8 710,289.6 711,289.3 712,289.1 713,288.8 714,288.6 715,288.3 716,288.1 717,287.8 718,287.6 719,287.3 720,287.1 721,287.0 722,286.9 723,286.9 724,286.8 725,286.8 726,286.7 727,286.6 728,286.6 729,286.5 730,286.5 731,286.4 732,286.4 733,286.3 734,286.2 735,286.0 736,285.8 737,285.6 738,285.4 739,285.2 740,285.0 741,284.8 742,284.6 743,284.4 744,284.2 745,284.0 746,283.8 747,283.6 748,283.4 749,283.2 750,283.0 751,282.8 752,282.6 753,282.4 754,282.2 755,282.0 756,281.8 757,281.6 758,281.4 759,281.2 760,281.0 761,280.8 762,280.6 763,280.3 764,280.1 765,279.9 766,279.7 767,279.5 768,279.3 769,279.0 770,278.8 771,278.6 772,278.4 773,278.2 774,278.0 775,277.7 776,277.5 777,277.2 778,277.0 779,276.7 780,276.5 781,276.2 782,276.0 783,275.7 784,275.5 785,275.2 786,275.0 787,274.7 788,274.4 789,273.9 790,273.5 791,273.1 792,272.7 793,272.2 794,271.8 795,271.4 796,271.0 797,270.5 798,270.1 799,269.7 800,269.3 801,268.8 802,268.4 803,268.0 804,267.6 805,267.2 806,266.8 807,266.4 808,265.9 809,265.5 810,265.1 811,264.7 812,264.3 813,263.9 814,263.5 815,263.0 816,262.6 817,262.2 818,261.8 819,261.4 820,261.0 821,260.6 822,260.2 823,259.8 824,259.4 825,258.9 826,258.5 827,258.1 828,257.8 829,257.6 830,257.3 831,257.0 832,256.8 833,256.5 834,256.3 835,256.0 836,255.8 837,255.6 838,255.5 839,255.3 840,255.2 841,255.1 842,255.0 843,254.8 844,254.7 845,254.6 846,254.8 847,254.9 848,255.1 849,255.2 850,255.4 851,255.6 852,255.7 853,255.9 854,256.0 855,256.2 856,256.4 857,256.6 858,257.0 859,257.3 860,257.7 861,258.0 862,258.4 863,258.7 864,259.0 865,259.4 866,259.7 867,260.1 868,260.3 869,260.5 870,260.7 871,261.0 872,261.2 873,261.4 874,261.6 875,261.8 876,262.0 877,262.2 878,262.4 879,262.6 880,262.8 881,263.0 882,263.0 883,263.1 884,263.1 885,263.2 886,263.2 887,263.2 888,263.3 889,263.3 890,263.3 891,263.4 892,263.4 893,263.5 894,263.5 895,263.6 896,263.7 897,263.8 898,263.8 899,263.9 900,264.0 901,264.1 902,264.2 903,264.3 904,264.4 905,264.4 906,264.5 907,264.6 908,264.7 909,264.8 910,264.9 911,265.0 912,265.1 913,265.2 914,265.3 915,265.5 916,265.7 917,266.0 918,266.2 919,266.4 920,266.6 921,266.8 922,267.0 923,267.2 924,267.4 925,267.6 926,267.9 927,268.2 928,268.9 929,269.5 930,270.2 931,270.8 932,271.5 933,272.2 934,272.8 935,273.5 936,274.2 937,274.8 938,275.5 939,276.1 940,276.8 941,277.5 942,278.1 943,278.8 944,279.4 945,280.1 946,280.8 947,281.4 948,282.1 949,282.7 950,283.4 951,284.1 952,284.7 953,285.4 954,286.0 955,286.6 956,287.2 957,287.7 958,288.3 959,288.9 960,289.5 961,290.1 962,290.6 963,291.2 964,291.8 965,292.4 966,293.0 967,293.5 968,294.0 969,294.4 970,294.8 971,295.2 972,295.6 973,296.0 974,296.4 975,296.8 976,297.3 977,297.7 978,298.1 979,298.5 980,298.9 981,299.1 982,299.3 983,299.5 984,299.7 985,299.8 986,300.0 987,300.2 988,300.3 989,300.5 990,300.7 991,300.9 992,301.0 993,301.2 994,301.4 995,301.7 996,301.9 997,302.2 998,302.4 999,302.7 1000,302.9 1001,303.2 1002,303.4 1003,303.7 1004,303.9 1005,304.2 1006,304.4 1007,304.7 1008,305.0 1009,305.3 1010,305.7 1011,306.0 1012,306.3 1013,306.6 1014,307.0 1015,307.3 1016,307.6 1017,307.9 1018,308.3 1019,308.6 1020,308.9 1021,309.3 1022,309.7 1023,310.1 1024,310.5 1025,310.9 1026,311.3 1027,311.6 1028,312.0 1029,312.4 1030,312.8 1031,313.2 1032,313.6 1033,314.0 1034,314.3 1035,314.4 1036,314.4 1037,314.5 1038,314.5 1039,314.6 1040,314.6 1041,314.7 1042,314.7 1043,314.8 1044,314.8 1045,314.9 1046,314.9 1047,315.0 1048,315.0 1049,315.1 1050,315.1 1051,315.2 1052,315.2 1053,315.1 1054,315.0 1055,315.0 1056,314.9 1057,314.8 1058,314.8 1059,314.7 1060,314.6 1061,314.6 1062,314.5 1063,314.4 1064,314.4 1065,314.3 1066,314.2 1067,314.2 1068,314.1 1069,314.0 1070,314.0 1071,313.9 1072,313.9 1073,313.8 1074,313.7 1075,313.7 1076,313.6 1077,313.6 1078,313.5 1079,313.5 1080,313.4 1081,313.3 1082,313.3 1083,313.2 1084,313.2 1085,313.1 1086,313.1 1087,313.0 1088,312.9 1089,312.7 1090,312.5 1091,312.3 1092,312.2 1093,312.0 1094,311.8 1095,311.6 1096,311.5 1097,311.3 1098,311.1 1099,311.0 1100,310.8 1101,310.6 1102,310.4 1103,310.1 1104,309.3 1105,308.5 1106,307.7 1107,306.9 1108,306.1 1109,305.3 1110,304.5 1111,303.7 1112,302.8 1113,302.0 1114,301.2 1115,299.9 1116,298.6 1117,297.3 1118,296.0 1119,294.7 1120,293.4 1121,292.1 1122,290.8 1123,289.5 1124,288.2 1125,286.9 1126,285.6 1127,284.3 1128,283.0 1129,281.7 1130,280.4 1131,279.1 1132,277.8 1133,276.5 1134,275.2 1135,274.0 1136,272.7 1137,271.6 1138,270.6 1139,269.6 1140,268.6 1141,267.6 1142,266.6 1143,265.6 1144,264.6 1145,263.6 1146,262.6 1147,261.6 1148,260.6 1149,259.6 1150,258.6 1151,257.6 1152,256.6 1153,255.5 1154,254.5 1155,253.5 1156,252.5 1157,251.5 1158,250.5 1159,249.5 1160,248.4 1161,247.3 1162,246.2 1163,245.1 1164,244.0 1165,242.9 1166,241.8 1167,240.7 1168,239.6 1169,238.5 1170,237.5 1171,236.7 1172,236.0 1173,235.2 1174,234.5 1175,233.7 1176,233.0 1177,232.2 1178,231.5 1179,230.7 1180,230.0 1181,229.3 1182,229.0 1183,228.6 1184,228.3 1185,228.0 1186,227.6 1187,227.3 1188,226.9 1189,226.6 1190,226.3 1191,225.9 1192,225.6 1193,225.4 1194,225.3 1195,225.2 1196,225.0 1197,224.9 1198,224.7 1199,224.6 1200,224.4 1201,224.3 1202,224.1 1203,224.0 1204,223.9 1205,223.8 1206,223.6 1207,223.5 1208,223.4 1209,223.3 1210,223.2 1211,223.1 1212,222.9 1213,222.8 1214,222.7 1215,222.6 1216,222.5 1217,222.4 1218,222.2 1219,222.1 1220,222.0 1221,221.9 1222,221.8 1223,221.7 1224,221.6 1225,221.5 1226,221.4 1227,221.3 1228,221.2 1229,221.1 1230,221.0 1231,220.9 1232,220.8 1233,220.7 1234,220.6 1235,220.5 1236,220.4 1237,220.3 1238,220.2 1239,220.1 1240,220.0 1241,219.9 1242,219.8 1243,219.7 1244,219.6 1245,219.5 1246,219.4 1247,219.3 1248,219.2 1249,219.1 1250,219.0 1251,218.9 1252,218.8 1253,218.7 1254,218.5 1255,218.4 1256,218.3 1257,218.2 1258,218.1 1259,218.0 1260,217.9 1261,217.7 1262,217.6 1263,217.5 1264,217.4 1265,217.3 1266,217.2 1267,217.1 1268,216.9 1269,216.8 1270,216.7 1271,216.6 1272,216.5 1273,216.4 1274,216.3 1275,216.2 1276,216.0 1277,215.9 1278,215.5 1279,215.0 1280,214.5 1281,214.0 1282,213.5 1283,213.0 1284,212.5 1285,212.0 1286,211.5 1287,211.0 1288,210.5 1289,210.0 1290,209.5 1291,209.0 1292,208.6 1293,208.2 1294,207.8 1295,207.3 1296,206.9 1297,206.5 1298,206.1 1299,205.7 1300,205.2 1301,204.8 1302,204.4 1303,204.0 1304,203.6 1305,203.3 1306,203.0 1307,202.7 1308,202.5 1309,202.2 1310,201.9 1311,201.6 1312,201.4 1313,201.1 1314,200.8 1315,200.5 1316,200.3 1317,200.0 1318,199.7 1319,199.4 1320,199.1 1321,198.8 1322,198.5 1323,198.2 1324,197.9 1325,197.5 1326,197.2 1327,196.9 1328,196.6 1329,196.3 1330,196.0 1331,195.6 1332,195.0 1333,194.3 1334,193.6 1335,193.0 1336,192.3 1337,191.7 1338,191.0 1339,190.4 1340,189.7 1341,189.1 1342,188.4 1343,187.8 1344,187.2 1345,186.7 1346,186.2 1347,185.7 1348,185.2 1349,184.7 1350,184.2 1351,183.7 1352,183.2 1353,182.7 1354,182.2 1355,181.7 1356,181.2 1357,180.7 1358,180.2 1359,179.7 1360,179.2 1361,178.8 1362,178.3 1363,177.8 1364,177.3 1365,176.9 1366,176.4 1367,175.9 1368,175.4 1369,175.0 1370,174.5 1371,174.0 1372,173.6 1373,173.1 1374,172.7 1375,172.2 1376,171.7 1377,171.3 1378,170.8 1379,170.4 1380,169.9 1381,169.4 1382,169.0 1383,168.5 1384,168.2 1385,167.9 1386,167.6 1387,167.3 1388,167.0 1389,166.7 1390,166.4 1391,166.1 1392,165.8 1393,165.5 1394,165.2 1395,165.0 1396,164.9 1397,164.8 1398,164.8 1399,164.7 1400,164.6 1401,164.5 1402,164.5 1403,164.4 1404,164.3 1405,164.3 1406,164.2 1407,164.3 1408,164.5 1409,164.6 1410,164.7 1411,164.8 1412,165.0 1413,165.1 1414,165.2 1415,165.3 1416,165.4 1417,165.6 1418,165.7 1419,165.8 1420,166.0 1421,166.3 1422,166.5 1423,166.7 1424,167.0 1425,167.2 1426,167.5 1427,167.7 1428,167.9 1429,168.2 1430,168.4 1431,168.6 1432,168.9 1433,169.2 1434,169.6 1435,170.0 1436,170.4 1437,170.8 1438,171.3 1439,171.7 1440,172.1 1441,172.5 1442,172.9 1443,173.3 1444,173.7 1445,174.1 1446,174.5 1447,174.8 1448,175.2 1449,175.6 1450,175.9 1451,176.3 1452,176.7 1453,176.9 1454,177.0 1455,177.0 1456,177.0 1457,177.1 1458,177.1 1459,177.2 1460,177.2 1461,177.2 1462,177.3 1463,177.3 1464,177.4 1465,177.4" fill="none" stroke="#ff0000" stroke-width="2.7" stroke-linejoin="round"/>
<polyline points="0,342.0 1,342.6 2,343.3 3,343.9 4,344.5 5,345.2 6,345.8 7,346.5 8,347.1 9,347.7 10,348.4 11,349.0 12,349.8 13,350.6 14,351.5 15,352.3 16,353.1 17,353.9 18,354.7 19,355.5 20,356.4 21,357.2 22,358.0 23,358.7 24,359.4 25,360.1 26,360.8 27,361.5 28,362.2 29,362.9 30,363.6 31,364.3 32,365.0 33,365.7 34,366.5 35,367.2 36,368.0 37,368.8 38,369.5 39,370.3 40,371.1 41,371.8 42,372.6 43,373.4 44,374.1 45,374.8 46,375.3 47,375.8 48,376.3 49,376.7 50,377.2 51,377.7 52,378.2 53,378.7 54,379.2 55,379.7 56,380.2 57,380.7 58,381.2 59,381.7 60,382.2 61,382.7 62,383.2 63,383.7 64,384.3 65,384.8 66,385.3 67,385.8 68,386.4 69,387.0 70,387.6 71,388.2 72,388.8 73,389.4 74,390.0 75,390.6 76,391.2 77,391.8 78,392.4 79,393.0 80,393.6 81,394.2 82,394.8 83,395.4 84,396.0 85,396.6 86,397.2 87,397.8 88,398.4 89,399.0 90,399.4 91,399.9 92,400.3 93,400.8 94,401.2 95,401.7 96,402.1 97,402.6 98,403.0 99,403.0 100,403.0 101,403.0 102,403.0 103,403.0 104,403.0 105,403.0 106,403.0 107,403.0 108,403.0 109,403.0 110,403.0 111,403.0 112,403.0 113,402.9 114,402.9 115,402.9 116,402.9 117,402.8 118,402.8 119,402.8 120,402.8 121,402.7 122,402.7 123,402.7 124,402.6 125,402.6 126,402.6 127,402.6 128,402.5 129,402.5 130,402.3 131,402.1 132,401.9 133,401.8 134,401.6 135,401.4 136,401.2 137,401.0 138,400.8 139,400.7 140,400.5 141,400.3 142,400.1 143,400.0 144,400.0 145,400.0 146,399.9 147,399.9 148,399.9 149,399.9 150,399.9 151,399.9 152,399.9 153,399.8 154,399.8 155,399.8 156,399.8 157,399.9 158,400.1 159,400.2 160,400.3 161,400.5 162,400.6 163,400.7 164,400.9 165,401.0 166,401.5 167,401.9 168,402.4 169,402.8 170,403.3 171,403.8 172,404.2 173,404.7 174,405.2 175,405.6 176,406.1 177,406.5 178,407.0 179,407.3 180,407.6 181,407.9 182,408.2 183,408.5 184,408.8 185,409.1 186,409.4 187,409.6 188,409.9 189,410.2 190,410.5 191,410.8 192,411.1 193,411.5 194,411.9 195,412.3 196,412.6 197,413.0 198,413.4 199,413.8 200,414.1 201,414.5 202,414.9 203,415.3 204,415.6 205,416.0 206,416.1 207,416.2 208,416.2 209,416.3 210,416.4 211,416.5 212,416.5 213,416.6 214,416.7 215,416.8 216,416.8 217,416.9 218,417.0 219,417.0 220,417.0 221,417.0 222,417.0 223,417.0 224,417.0 225,417.0 226,417.0 227,417.0 228,417.0 229,417.0 230,417.0 231,417.0 232,417.0 233,416.8 234,416.6 235,416.5 236,416.3 237,416.1 238,415.9 239,415.8 240,415.6 241,415.4 242,415.2 243,415.1 244,414.9 245,414.7 246,414.4 247,414.2 248,413.9 249,413.6 250,413.3 251,413.1 252,412.8 253,412.5 254,412.2 255,412.0 256,411.7 257,411.4 258,411.1 259,410.9 260,410.7 261,410.6 262,410.4 263,410.2 264,410.1 265,409.9 266,409.7 267,409.6 268,409.4 269,409.2 270,409.0 271,408.9 272,408.7 273,408.6 274,408.4 275,408.3 276,408.1 277,408.0 278,407.8 279,407.7 280,407.6 281,407.4 282,407.3 283,407.1 284,407.0 285,406.9 286,406.7 287,406.6 288,406.4 289,406.1 290,405.9 291,405.6 292,405.4 293,405.2 294,404.9 295,404.7 296,404.4 297,404.2 298,403.9 299,403.5 300,402.9 301,402.3 302,401.7 303,401.0 304,400.4 305,399.8 306,399.1 307,398.5 308,397.9 309,397.3 310,396.6 311,396.0 312,395.3 313,394.5 314,393.8 315,393.1 316,392.4 317,391.6 318,390.9 319,390.2 320,389.5 321,388.7 322,388.0 323,387.4 324,386.9 325,386.3 326,385.7 327,385.1 328,384.6 329,384.0 330,383.4 331,382.9 332,382.3 333,381.7 334,381.2 335,380.7 336,380.2 337,379.7 338,379.2 339,378.8 340,378.3 341,377.8 342,377.3 343,376.8 344,376.3 345,375.9 346,375.6 347,375.3 348,375.0 349,374.7 350,374.3 351,374.0 352,373.7 353,373.4 354,373.1 355,372.8 356,372.5 357,372.3 358,372.1 359,371.8 360,371.6 361,371.4 362,371.1 363,370.9 364,370.6 365,370.4 366,370.2 367,369.9 368,369.7 369,369.5 370,369.2 371,369.0 372,368.5 373,368.1 374,367.6 375,367.1 376,366.7 377,366.2 378,365.7 379,365.2 380,364.8 381,364.3 382,363.8 383,363.3 384,362.7 385,362.1 386,361.5 387,360.9 388,360.3 389,359.7 390,359.1 391,358.5 392,358.0 393,357.4 394,356.9 395,356.6 396,356.4 397,356.1 398,355.9 399,355.6 400,355.4 401,355.1 402,354.9 403,354.6 404,354.4 405,354.1 406,353.9 407,353.6 408,353.1 409,352.6 410,352.1 411,351.6 412,351.1 413,350.6 414,350.0 415,349.5 416,349.0 417,348.5 418,348.0 419,347.5 420,347.0 421,346.7 422,346.4 423,346.1 424,345.8 425,345.5 426,345.2 427,345.0 428,344.7 429,344.4 430,344.1 431,343.8 432,343.5 433,343.2 434,342.9 435,342.6 436,342.3 437,342.0 438,341.7 439,341.4 440,341.1 441,340.8 442,340.5 443,340.2 444,339.9 445,339.6 446,339.3 447,339.0 448,338.8 449,338.6 450,338.4 451,338.2 452,338.0 453,337.8 454,337.7 455,337.5 456,337.3 457,337.1 458,336.9 459,336.7 460,336.5 461,336.3 462,336.2 463,336.0 464,335.9 465,335.7 466,335.5 467,335.4 468,335.2 469,335.1 470,334.9 471,334.7 472,334.6 473,334.4 474,334.2 475,334.1 476,333.9 477,333.8 478,333.6 479,333.3 480,333.1 481,332.8 482,332.5 483,332.3 484,332.0 485,331.7 486,331.5 487,331.2 488,331.0 489,330.7 490,330.4 491,330.2 492,329.9 493,329.6 494,329.2 495,328.9 496,328.6 497,328.3 498,328.0 499,327.7 500,327.4 501,327.1 502,326.7 503,326.4 504,326.1 505,325.8 506,325.4 507,324.9 508,324.5 509,324.1 510,323.6 511,323.2 512,322.7 513,322.3 514,321.9 515,321.4 516,321.0 517,320.9 518,320.7 519,320.6 520,320.5 521,320.3 522,320.2 523,320.0 524,319.9 525,319.8 526,319.6 527,319.5 528,319.4 529,319.4 530,319.3 531,319.2 532,319.2 533,319.1 534,319.0 535,319.0 536,318.9 537,318.8 538,318.8 539,318.7 540,318.6 541,318.5 542,318.3 543,318.1 544,317.9 545,317.7 546,317.5 547,317.4 548,317.2 549,317.0 550,316.8 551,316.6 552,316.4 553,316.4 554,316.5 555,316.5 556,316.5 557,316.6 558,316.6 559,316.6 560,316.7 561,316.7 562,316.7 563,316.8 564,316.8 565,316.8 566,316.9 567,316.9 568,316.9 569,317.0 570,317.1 571,317.1 572,317.2 573,317.2 574,317.3 575,317.4 576,317.4 577,317.5 578,317.6 579,317.6 580,317.7 581,317.8 582,317.8 583,317.9 584,317.9 585,318.0 586,318.0 587,318.0 588,318.0 589,318.0 590,318.0 591,318.0 592,318.0 593,318.0 594,318.0 595,318.0 596,318.0 597,318.0 598,318.0 599,318.0 600,318.0 601,317.8 602,317.7 603,317.5 604,317.4 605,317.2 606,317.1 607,316.9 608,316.7 609,316.6 610,316.4 611,316.3 612,316.1 613,316.0 614,315.8 615,315.6 616,315.5 617,315.3 618,315.1 619,315.0 620,314.8 621,314.6 622,314.5 623,314.3 624,314.1 625,314.0 626,313.8 627,313.6 628,313.5 629,313.3 630,313.1 631,313.0 632,312.8 633,312.6 634,312.4 635,312.3 636,312.1 637,311.9 638,311.7 639,311.6 640,311.4 641,311.1 642,310.7 643,310.4 644,310.1 645,309.8 646,309.4 647,309.1 648,308.8 649,308.5 650,308.1 651,307.8 652,307.5 653,307.2 654,306.8 655,306.5 656,306.2 657,305.8 658,305.5 659,305.2 660,304.8 661,304.5 662,304.1 663,303.8 664,303.5 665,303.1 666,302.8 667,302.5 668,302.2 669,302.0 670,301.7 671,301.5 672,301.2 673,301.0 674,300.7 675,300.5 676,300.2 677,300.0 678,299.7 679,299.5 680,299.2 681,298.9 682,298.6 683,298.3 684,297.9 685,297.6 686,297.3 687,296.9 688,296.6 689,296.2 690,295.9 691,295.6 692,295.2 693,294.9 694,294.6 695,294.2 696,293.9 697,293.6 698,293.3 699,292.9 700,292.6 701,292.3 702,291.9 703,291.6 704,291.3 705,291.0 706,290.6 707,290.3 708,290.1 709,289.8 710,289.6 711,289.3 712,289.1 713,288.8 714,288.6 715,288.3 716,288.1 717,287.8 718,287.6 719,287.3 720,287.1 721,287.0 722,286.9 723,286.9 724,286.8 725,286.8 726,286.7 727,286.6 728,286.6 729,286.5 730,286.5 731,286.4 732,286.4 733,286.3 734,286.2 735,286.0 736,285.8 737,285.6 738,285.4 739,285.2 740,285.0 741,284.8 742,284.6 743,284.4 744,284.2 745,284.0 746,283.8 747,283.6 748,283.4 749,283.2 750,283.0 751,282.8 752,282.6 753,282.4 754,282.2 755,282.0 756,281.8 757,281.6 758,281.4 759,281.2 760,281.0 761,280.8 762,280.6 763,280.3 764,280.1 765,279.9 766,279.7 767,279.5 768,279.3 769,279.0 770,278.8 771,278.6 772,278.4 773,278.2 774,278.0 775,277.7 776,277.5 777,277.2 778,277.0 779,276.7 780,276.5 781,276.2 782,276.0 783,275.7 784,275.5 785,275.2 786,275.0 787,274.7 788,274.4 789,273.9 790,273.5 791,273.1 792,272.7 793,272.2 794,271.8 795,271.4 796,271.0 797,270.5 798,270.1 799,269.7 800,269.3 801,268.8 802,268.4 803,268.0 804,267.6 805,267.2 806,266.8 807,266.4 808,265.9 809,265.5 810,265.1 811,264.7 812,264.3 813,263.9 814,263.5 815,263.0 816,262.6 817,262.2 818,261.8 819,261.4 820,261.0 821,260.6 822,260.2 823,259.8 824,259.4 825,258.9 826,258.5 827,258.1 828,257.8 829,257.6 830,257.3 831,257.0 832,256.8 833,256.5 834,256.3 835,256.0 836,255.8 837,255.6 838,255.5 839,255.3 840,255.2 841,255.1 842,255.0 843,254.8 844,254.7 845,254.6 846,254.8 847,254.9 848,255.1 849,255.2 850,255.4 851,255.6 852,255.7 853,255.9 854,256.0 855,256.2 856,256.4 857,256.6 858,257.0 859,257.3 860,257.7 861,258.0 862,258.4 863,258.7 864,259.0 865,259.4 866,259.7 867,260.1 868,260.3 869,260.5 870,260.7 871,261.0 872,261.2 873,261.4 874,261.6 875,261.8 876,262.0 877,262.2 878,262.4 879,262.6 880,262.8 881,263.0 882,263.0 883,263.1 884,263.1 885,263.2 886,263.2 887,263.2 888,263.3 889,263.3 890,263.3 891,263.4 892,263.4 893,263.5 894,263.5 895,263.6 896,263.7 897,263.8 898,263.8 899,263.9 900,264.0 901,264.1 902,264.2 903,264.3 904,264.4 905,264.4 906,264.5 907,264.6 908,264.7 909,264.8 910,264.9 911,265.0 912,265.1 913,265.2 914,265.3 915,265.5 916,265.7 917,266.0 918,266.2 919,266.4 920,266.6 921,266.8 922,267.0 923,267.2 924,267.4 925,267.6 926,267.9 927,268.2 928,268.9 929,269.5 930,270.2 931,270.8 932,271.5 933,272.2 934,272.8 935,273.5 936,274.2 937,274.8 938,275.5 939,276.1 940,276.8 941,277.5 942,278.1 943,278.8 944,279.4 945,280.1 946,280.8 947,281.4 948,282.1 949,282.7 950,283.4 951,284.1 952,284.7 953,285.4 954,286.0 955,286.6 956,287.2 957,287.7 958,288.3 959,288.9 960,289.5 961,290.1 962,290.6 963,291.2 964,291.8 965,292.4 966,293.0 967,293.5 968,294.0 969,294.4 970,294.8 971,295.2 972,295.6 973,296.0 974,296.4 975,296.8 976,297.3 977,297.7 978,298.1 979,298.5 980,298.9 981,299.1 982,299.3 983,299.5 984,299.7 985,299.8 986,300.0 987,300.2 988,300.3 989,300.5 990,300.7 991,300.9 992,301.0 993,301.2 994,301.4 995,301.7 996,301.9 997,302.2 998,302.4 999,302.7 1000,302.9 1001,303.2 1002,303.4 1003,303.7 1004,303.9 1005,304.2 1006,304.4 1007,304.7 1008,305.0 1009,305.3 1010,305.7 1011,306.0 1012,306.3 1013,306.6 1014,307.0 1015,307.3 1016,307.6 1017,307.9 1018,308.3 1019,308.6 1020,308.9 1021,309.3 1022,309.7 1023,310.1 1024,310.5 1025,310.9 1026,311.3 1027,311.6 1028,312.0 1029,312.4 1030,312.8 1031,313.2 1032,313.6 1033,314.0 1034,314.3 1035,314.4 1036,314.4 1037,314.5 1038,314.5 1039,314.6 1040,314.6 1041,314.7 1042,314.7 1043,314.8 1044,314.8 1045,314.9 1046,314.9 1047,315.0 1048,315.0 1049,315.1 1050,315.1 1051,315.2 1052,315.2 1053,315.1 1054,315.0 1055,315.0 1056,314.9 1057,314.8 1058,314.8 1059,314.7 1060,314.6 1061,314.6 1062,314.5 1063,314.4 1064,314.4 1065,314.3 1066,314.2 1067,314.2 1068,314.1 1069,314.0 1070,314.0 1071,313.9 1072,313.9 1073,313.8 1074,313.7 1075,313.7 1076,313.6 1077,313.6 1078,313.5 1079,313.5 1080,313.4 1081,313.3 1082,313.3 1083,313.2 1084,313.2 1085,313.1 1086,313.1 1087,313.0 1088,312.9 1089,312.7 1090,312.5 1091,312.3 1092,312.2 1093,312.0 1094,311.8 1095,311.6 1096,311.5 1097,311.3 1098,311.1 1099,311.0 1100,310.8 1101,310.6 1102,310.4 1103,310.1 1104,309.3 1105,308.5 1106,307.7 1107,306.9 1108,306.1 1109,305.3 1110,304.5 1111,303.7 1112,302.8 1113,302.0 1114,301.2 1115,299.9 1116,298.6 1117,297.3 1118,296.0 1119,294.7 1120,293.4 1121,292.1 1122,290.8 1123,289.5 1124,288.2 1125,286.9 1126,285.6 1127,284.3 1128,283.0 1129,281.7 1130,280.4 1131,279.1 1132,277.8 1133,276.5 1134,275.2 1135,274.0 1136,272.7 1137,271.6 1138,270.6 1139,269.6 1140,268.6 1141,267.6 1142,266.6 1143,265.6 1144,264.6 1145,263.6 1146,262.6 1147,261.6 1148,260.6 1149,259.6 1150,258.6 1151,257.6 1152,256.6 1153,255.5 1154,254.5 1155,253.5 1156,252.5 1157,251.5 1158,250.5 1159,249.5 1160,248.4 1161,247.3 1162,246.2 1163,245.1 1164,244.0 1165,242.9 1166,241.8 1167,240.7 1168,239.6 1169,238.5 1170,237.5 1171,236.7 1172,236.0 1173,235.2 1174,234.5 1175,233.7 1176,233.0 1177,232.2 1178,231.5 1179,230.7 1180,230.0 1181,229.3 1182,229.0 1183,228.6 1184,228.3 1185,228.0 1186,227.6 1187,227.3 1188,226.9 1189,226.6 1190,226.3 1191,225.9 1192,225.6 1193,225.4 1194,225.3 1195,225.2 1196,225.0 1197,224.9 1198,224.7 1199,224.6 1200,224.4 1201,224.3 1202,224.1 1203,224.0 1204,223.9 1205,223.8 1206,223.6 1207,223.5 1208,223.4 1209,223.3 1210,223.2 1211,223.1 1212,222.9 1213,222.8 1214,222.7 1215,222.6 1216,222.5 1217,222.4 1218,222.2 1219,222.1 1220,222.0 1221,221.9 1222,221.8 1223,221.7 1224,221.6 1225,221.5 1226,221.4 1227,221.3 1228,221.2 1229,221.1 1230,221.0 1231,220.9 1232,220.8 1233,220.7 1234,220.6 1235,220.5 1236,220.4 1237,220.3 1238,220.2 1239,220.1 1240,220.0 1241,219.9 1242,219.8 1243,219.7 1244,219.6 1245,219.5 1246,219.4 1247,219.3 1248,219.2 1249,219.1 1250,219.0 1251,218.9 1252,218.8 1253,218.7 1254,218.5 1255,218.4 1256,218.3 1257,218.2 1258,218.1 1259,218.0 1260,217.9 1261,217.7 1262,217.6 1263,217.5 1264,217.4 1265,217.3 1266,217.2 1267,217.1 1268,216.9 1269,216.8 1270,216.7 1271,216.6 1272,216.5 1273,216.4 1274,216.3 1275,216.2 1276,216.0 1277,215.9 1278,215.5 1279,215.0 1280,214.5 1281,214.0 1282,213.5 1283,213.0 1284,212.5 1285,212.0 1286,211.5 1287,211.0 1288,210.5 1289,210.0 1290,209.5 1291,209.0 1292,208.6 1293,208.2 1294,207.8 1295,207.3 1296,206.9 1297,206.5 1298,206.1 1299,205.7 1300,205.2 1301,204.8 1302,204.4 1303,204.0 1304,203.6 1305,203.3 1306,203.0 1307,202.7 1308,202.5 1309,202.2 1310,201.9 1311,201.6 1312,201.4 1313,201.1 1314,200.8 1315,200.5 1316,200.3 1317,200.0 1318,199.7 1319,199.4 1320,199.1 1321,198.8 1322,198.5 1323,198.2 1324,197.9 1325,197.5 1326,197.2 1327,196.9 1328,196.6 1329,196.3 1330,196.0 1331,195.6 1332,195.0 1333,194.3 1334,193.6 1335,193.0 1336,192.3 1337,191.7 1338,191.0 1339,190.4 1340,189.7 1341,189.1 1342,188.4 1343,187.8 1344,187.2 1345,186.7 1346,186.2 1347,185.7 1348,185.2 1349,184.7 1350,184.2 1351,183.7 1352,183.2 1353,182.7 1354,182.2 1355,181.7 1356,181.2 1357,180.7 1358,180.2 1359,179.7 1360,179.2 1361,178.8 1362,178.3 1363,177.8 1364,177.3 1365,176.9 1366,176.4 1367,175.9 1368,175.4 1369,175.0 1370,174.5 1371,174.0 1372,173.6 1373,173.1 1374,172.7 1375,172.2 1376,171.7 1377,171.3 1378,170.8 1379,170.4 1380,169.9 1381,169.4 1382,169.0 1383,168.5 1384,168.2 1385,167.9 1386,167.6 1387,167.3 1388,167.0 1389,166.7 1390,166.4 1391,166.1 1392,165.8 1393,165.5 1394,165.2 1395,165.0 1396,164.9 1397,164.8 1398,164.8 1399,164.7 1400,164.6 1401,164.5 1402,164.5 1403,164.4 1404,164.3 1405,164.3 1406,164.2 1407,164.3 1408,164.5 1409,164.6 1410,164.7 1411,164.8 1412,165.0 1413,165.1 1414,165.2 1415,165.3 1416,165.4 1417,165.6 1418,165.7 1419,165.8 1420,166.0 1421,166.3 1422,166.5 1423,166.7 1424,167.0 1425,167.2 1426,167.5 1427,167.7 1428,167.9 1429,168.2 1430,168.4 1431,168.6 1432,168.9 1433,169.2 1434,169.6 1435,170.0 1436,170.4 1437,170.8 1438,171.3 1439,171.7 1440,172.1 1441,172.5 1442,172.9 1443,173.3 1444,173.7 1445,174.1 1446,174.5 1447,174.8 1448,175.2 1449,175.6 1450,175.9 1451,176.3 1452,176.7 1453,176.9 1454,177.0 1455,177.0 1456,177.0 1457,177.1 1458,177.1 1459,177.2 1460,177.2 1461,177.2 1462,177.3 1463,177.3 1464,177.4 1465,177.4" fill="none" stroke="#ff0000" stroke-width="4.4" stroke-dasharray="1 1.5"/>
<rect x="774" y="213" width="767.5" height="7.5" fill="#ff00ff"/>
<rect x="1447" y="256" width="367" height="7" fill="#0000ff"/>
<line x1="978" y1="386" x2="1479" y2="99.6" stroke="#008000" stroke-width="3"/>
<polygon points="1124.8,159.2 1360.6,116.7 1361.5,121.6 1376.5,109.0 1358.0,102.4 1358.9,107.3 1123.2,149.8" fill="#008000"/>
<polygon points="1252.0,136.5 1252.0,518.0 1246.8,518.0 1256.8,534.0 1266.8,518.0 1261.6,518.0 1261.6,136.5" fill="#000000"/>
<polygon points="1536.0,173.6 1494.0,173.6 1494.0,168.6 1477.0,178.3 1494.0,188.1 1494.0,183.1 1536.0,183.1" fill="#000000"/>
<polygon points="1471.6,201.3 1487.3,240.5 1482.9,242.2 1498.0,254.5 1500.5,235.2 1496.1,237.0 1480.4,197.7" fill="#ff0000"/>
<polygon points="1126.2,507.8 1369.9,586.7 1368.4,591.5 1388.6,587.5 1374.6,572.4 1373.0,577.2 1129.2,498.2" fill="#ff0000"/>
<ellipse cx="817.6" cy="219.5" rx="23.7" ry="14" fill="#0000ff"/>
<ellipse cx="1232.4" cy="216" rx="44.3" ry="12.3" fill="#00ff00"/>
<ellipse cx="1444.8" cy="215" rx="13.8" ry="10.3" fill="#00ff00"/>
<rect x="0" y="618" width="1466" height="1" fill="#333333"/>
<path d="M18.0 665.1L19.0 663.8L20.0 662.0L21.0 659.9L22.0 657.7L23.0 656.2L24.0 655.9M28.0 658.2L29.0 657.5L30.0 656.5L31.0 655.2L32.0 655.0M36.0 658.8L37.0 658.6M40.0 659.4L41.0 659.3L42.0 658.7L43.0 657.8L44.0 656.7L45.0 655.2L46.0 653.0L47.0 650.3L48.0 647.3L49.0 644.1L50.0 640.4L51.0 636.4L52.0 632.1L53.0 627.7L54.0 622.7L55.0 616.6L56.0 610.5L57.0 606.8L58.0 605.0L59.0 604.2L60.0 604.1M73.0 645.3L74.0 645.0L75.0 643.6L76.0 640.8L77.0 637.1L78.0 632.9L79.0 628.8L80.0 624.8L81.0 623.0M89.0 632.7L90.0 632.7L91.0 632.3L92.0 631.6L93.0 630.8L94.0 629.8L95.0 628.7L96.0 627.4L97.0 624.9L98.0 621.4L99.0 617.3L100.0 613.2L101.0 609.2L102.0 605.2L103.0 601.2L104.0 597.4L105.0 594.2L106.0 591.3L107.0 588.7L108.0 586.2L109.0 584.0L110.0 582.3L111.0 580.7L112.0 579.3L113.0 578.3M132.0 599.3L133.0 599.3L134.0 598.7L135.0 597.8L136.0 596.7L137.0 595.6L138.0 594.5L139.0 593.4L140.0 592.4L141.0 591.8M159.0 632.4L160.0 632.2L161.0 632.1M175.0 659.8L176.0 659.6L177.0 659.4L178.0 659.1L179.0 658.9L180.0 658.6L181.0 658.1L182.0 656.9L183.0 655.2L184.0 653.4L185.0 651.3L186.0 649.1L187.0 647.0L188.0 644.8L189.0 642.8L190.0 640.7L191.0 638.7L192.0 636.8L193.0 635.0L194.0 633.2L195.0 631.4L196.0 629.7L197.0 628.2L198.0 626.8L199.0 625.4L200.0 624.3L201.0 623.3L202.0 622.3L203.0 621.4L204.0 620.6L205.0 620.3M207.0 620.6L208.0 620.3L209.0 619.2L210.0 617.8L211.0 616.1L212.0 614.3L213.0 612.7L214.0 611.3L215.0 610.0L216.0 608.7L217.0 607.5L218.0 606.3L219.0 605.2L220.0 604.5L221.0 604.0L222.0 603.5L223.0 603.2L224.0 602.9L225.0 602.8M231.0 603.9L232.0 603.8L233.0 602.5L234.0 600.2L235.0 597.3L236.0 594.3L237.0 591.3L238.0 588.4L239.0 585.4L240.0 582.5L241.0 581.2L242.0 581.1M254.0 597.8L255.0 597.6L256.0 597.1L257.0 596.4L258.0 595.6L259.0 595.1M277.0 622.7L278.0 622.5L279.0 622.0L280.0 621.4L281.0 621.1L282.0 621.1M287.0 621.9L288.0 621.7L289.0 621.3L290.0 620.7L291.0 619.6L292.0 616.3L293.0 611.4L294.0 607.4L295.0 604.6L296.0 602.3L297.0 600.6L298.0 599.0L299.0 597.6L300.0 596.3L301.0 595.0L302.0 593.6L303.0 592.0L304.0 590.4L305.0 588.8L306.0 587.1L307.0 585.1L308.0 583.1L309.0 581.0L310.0 578.9L311.0 576.7L312.0 575.2L313.0 574.4L314.0 574.0L315.0 573.9M322.0 574.8L323.0 574.7L324.0 574.5L325.0 574.2L326.0 574.2M354.0 630.5L355.0 629.8L356.0 628.4L357.0 627.6M362.0 634.2L363.0 634.0L364.0 633.2L365.0 632.0L366.0 630.8L367.0 629.6L368.0 628.4L369.0 627.2L370.0 625.1L371.0 622.4L372.0 619.2L373.0 615.7L374.0 612.3L375.0 608.8L376.0 605.4L377.0 602.0L378.0 599.1L379.0 596.6L380.0 594.4L381.0 592.3L382.0 590.5L383.0 588.9L384.0 587.4L385.0 586.0L386.0 585.2L387.0 585.1M406.0 630.9L407.0 630.1L408.0 628.0L409.0 624.9L410.0 621.1L411.0 617.3L412.0 613.7L413.0 610.3L414.0 606.9L415.0 603.8L416.0 601.6L417.0 600.2L418.0 599.5M421.0 600.7L422.0 600.2L423.0 599.7M440.0 634.4L441.0 633.8L442.0 632.2L443.0 629.2L444.0 625.4L445.0 621.1L446.0 617.0L447.0 613.3L448.0 609.6L449.0 606.1L450.0 603.9L451.0 603.4M462.0 629.9L463.0 629.6L464.0 628.7L465.0 627.7L466.0 626.7L467.0 625.7L468.0 624.7L469.0 623.6L470.0 622.6L471.0 621.6L472.0 620.5L473.0 619.3L474.0 618.2L475.0 617.0L476.0 615.8L477.0 614.8L478.0 614.1L479.0 613.4L480.0 612.9L481.0 612.3L482.0 611.9L483.0 611.4L484.0 610.9L485.0 610.0L486.0 608.8L487.0 607.4L488.0 605.8L489.0 604.5L490.0 603.4L491.0 602.5L492.0 602.0M499.0 605.5L500.0 605.5L501.0 604.7L502.0 603.4L503.0 601.8L504.0 600.1L505.0 598.7L506.0 597.7L507.0 596.8L508.0 596.1L509.0 595.5L510.0 594.9L511.0 594.5M531.0 645.3L532.0 644.8L533.0 643.9L534.0 642.7L535.0 641.1L536.0 639.3L537.0 637.3L538.0 635.3L539.0 633.2L540.0 631.0L541.0 628.8L542.0 626.5L543.0 624.2L544.0 621.1L545.0 617.4L546.0 613.7L547.0 611.8L548.0 611.2M560.0 624.5L561.0 624.5M569.0 641.6L570.0 641.0L571.0 639.8L572.0 638.6L573.0 637.3L574.0 636.0L575.0 634.7L576.0 633.4L577.0 632.1L578.0 631.1L579.0 630.6L580.0 630.6M581.0 630.6L582.0 630.3L583.0 629.6L584.0 628.8L585.0 627.8L586.0 626.8L587.0 625.8L588.0 624.8L589.0 623.9L590.0 622.8L591.0 621.5L592.0 620.0L593.0 618.5L594.0 616.8L595.0 615.2L596.0 613.7L597.0 612.2L598.0 610.7L599.0 609.3L600.0 608.2L601.0 607.4L602.0 606.3L603.0 605.1L604.0 603.7L605.0 602.3L606.0 600.8L607.0 599.5L608.0 599.2M619.0 612.4L620.0 611.6L621.0 610.2L622.0 608.4L623.0 606.4L624.0 604.5L625.0 602.5L626.0 600.5L627.0 598.9L628.0 598.8M638.0 611.2L639.0 611.2L640.0 611.1L641.0 610.6L642.0 609.8L643.0 608.8L644.0 607.6L645.0 606.3L646.0 605.0L647.0 603.7L648.0 602.8L649.0 602.3L650.0 601.9L651.0 601.7L652.0 601.6L653.0 601.2L654.0 600.5L655.0 599.5L656.0 598.3L657.0 597.1L658.0 595.8L659.0 594.7M678.0 625.3L679.0 624.1L680.0 621.9L681.0 618.9L682.0 615.6L683.0 612.1L684.0 608.5L685.0 605.1L686.0 602.4L687.0 600.4L688.0 598.7L689.0 597.6L690.0 597.4M700.0 608.0L701.0 607.5L702.0 606.6L703.0 605.3L704.0 603.7L705.0 603.4M711.0 614.0L712.0 612.9L713.0 611.3L714.0 609.9L715.0 608.4L716.0 607.2M734.0 649.7L735.0 649.0L736.0 647.3L737.0 644.9L738.0 641.0L739.0 635.8L740.0 630.0L741.0 624.4L742.0 619.7L743.0 615.6L744.0 611.8L745.0 608.5L746.0 605.9L747.0 603.9L748.0 602.2L749.0 601.1L750.0 600.9M758.0 612.0L759.0 611.8L760.0 611.2L761.0 610.6L762.0 609.9L763.0 609.4M768.0 612.6L769.0 612.5L770.0 612.2L771.0 611.5L772.0 610.1L773.0 608.2L774.0 606.1L775.0 604.0L776.0 602.0L777.0 600.2L778.0 599.2L779.0 598.8L780.0 598.7M790.0 605.2L791.0 605.1L792.0 604.5L793.0 603.8L794.0 603.0L795.0 602.0L796.0 600.9L797.0 599.8L798.0 598.6L799.0 597.3L800.0 596.1L801.0 595.1L802.0 594.7L803.0 594.6M804.0 594.8L805.0 594.8L806.0 594.6L807.0 594.3L808.0 593.9L809.0 593.5L810.0 593.1L811.0 592.7L812.0 592.5L813.0 592.2L814.0 592.0L815.0 591.8L816.0 591.7M826.0 618.6L827.0 618.3L828.0 617.6L829.0 616.8L830.0 615.9L831.0 614.9L832.0 614.2M857.0 665.6L858.0 665.5L859.0 665.1L860.0 664.3L861.0 662.7L862.0 660.5L863.0 658.1L864.0 655.5L865.0 653.0L866.0 650.8L867.0 650.0M873.0 656.0L874.0 655.4L875.0 654.2L876.0 652.1L877.0 649.3L878.0 646.1L879.0 642.7L880.0 639.3L881.0 635.9L882.0 632.5L883.0 629.0L884.0 625.9L885.0 623.1L886.0 620.4L887.0 617.8L888.0 615.2L889.0 612.7L890.0 610.2L891.0 607.7L892.0 605.2L893.0 602.8L894.0 600.3L895.0 597.8L896.0 595.4L897.0 593.0L898.0 591.3L899.0 591.1M920.0 640.6L921.0 640.3L922.0 639.4L923.0 638.1L924.0 636.5L925.0 635.3L926.0 635.1M939.0 678.1L940.0 677.4L941.0 675.5L942.0 673.3L943.0 671.0L944.0 668.5L945.0 665.9L946.0 664.7L947.0 664.7M950.0 666.9L951.0 666.4L952.0 665.4L953.0 664.0L954.0 662.5L955.0 661.0L956.0 659.6L957.0 657.9L958.0 654.3L959.0 649.3L960.0 644.0L961.0 639.5L962.0 635.5L963.0 631.9L964.0 629.1L965.0 627.2L966.0 625.7L967.0 624.5L968.0 623.1L969.0 621.6L970.0 620.0L971.0 618.8L972.0 617.8L973.0 616.9L974.0 616.2L975.0 615.5L976.0 614.4L977.0 613.1L978.0 611.8L979.0 611.5M983.0 614.6L984.0 613.7L985.0 612.1L986.0 610.1L987.0 607.6L988.0 604.8L989.0 601.8L990.0 599.3L991.0 597.1L992.0 595.3L993.0 594.2L994.0 594.1M1008.0 624.9L1009.0 624.4L1010.0 623.4L1011.0 622.2L1012.0 621.2L1013.0 621.0M1024.0 642.2L1025.0 642.2M1029.0 646.0L1030.0 645.3L1031.0 644.0L1032.0 642.2L1033.0 639.8L1034.0 637.1L1035.0 633.7L1036.0 628.3L1037.0 621.3L1038.0 615.1L1039.0 609.6L1040.0 604.7L1041.0 600.9L1042.0 598.4L1043.0 596.8L1044.0 595.8L1045.0 595.3M1051.0 601.4L1052.0 601.3L1053.0 600.9L1054.0 600.4L1055.0 599.8L1056.0 599.2L1057.0 598.4L1058.0 597.7L1059.0 597.3L1060.0 597.3M1064.0 598.4L1065.0 598.4L1066.0 598.3L1067.0 598.1L1068.0 597.9M1084.0 624.3L1085.0 624.2L1086.0 622.8L1087.0 620.6L1088.0 618.3L1089.0 616.1L1090.0 614.0L1091.0 612.0L1092.0 609.9L1093.0 607.8L1094.0 605.7L1095.0 603.5L1096.0 601.4L1097.0 599.6L1098.0 598.0L1099.0 596.6L1100.0 595.2L1101.0 594.5L1102.0 594.5M1103.0 594.8L1104.0 594.5L1105.0 592.8L1106.0 590.2L1107.0 583.8L1108.0 574.1L1109.0 563.6L1110.0 555.3L1111.0 548.2L1112.0 542.0L1113.0 537.6L1114.0 535.2L1115.0 534.2L1116.0 533.9L1117.0 533.8L1118.0 532.1L1119.0 529.4L1120.0 526.0L1121.0 522.4L1122.0 518.6L1123.0 514.7L1124.0 511.7L1125.0 510.6L1126.0 510.5M1154.0 618.0L1155.0 617.7L1156.0 615.9L1157.0 613.2L1158.0 609.8L1159.0 606.0L1160.0 601.9L1161.0 598.1L1162.0 594.7L1163.0 591.5L1164.0 588.5L1165.0 586.8L1166.0 586.3M1190.0 656.3L1191.0 656.1L1192.0 655.8L1193.0 655.5L1194.0 655.2M1198.0 661.7L1199.0 660.5L1200.0 658.2L1201.0 655.2L1202.0 652.0L1203.0 648.5L1204.0 645.3L1205.0 642.4L1206.0 639.7L1207.0 637.2L1208.0 635.0L1209.0 633.4L1210.0 632.0L1211.0 630.9M1216.0 638.2L1217.0 637.8L1218.0 636.5L1219.0 635.5M1223.0 640.0L1224.0 640.0L1225.0 638.8L1226.0 636.8L1227.0 634.1L1228.0 630.7L1229.0 626.9L1230.0 622.8L1231.0 619.4L1232.0 617.9L1233.0 617.5M1234.0 617.7L1235.0 617.6L1236.0 617.3L1237.0 616.8L1238.0 616.2L1239.0 615.1L1240.0 613.6L1241.0 611.9L1242.0 610.1L1243.0 608.5L1244.0 607.1L1245.0 605.8L1246.0 604.6L1247.0 604.2M1255.0 619.2L1256.0 618.7L1257.0 617.6L1258.0 615.7L1259.0 613.2L1260.0 610.2L1261.0 608.4L1262.0 607.8M1278.0 630.6L1279.0 630.5L1280.0 629.4L1281.0 627.6L1282.0 625.1L1283.0 622.1L1284.0 618.7L1285.0 615.1L1286.0 611.6L1287.0 608.4L1288.0 605.5L1289.0 602.7L1290.0 599.9L1291.0 596.3L1292.0 592.0L1293.0 587.2L1294.0 583.4L1295.0 580.4L1296.0 578.6L1297.0 578.6M1311.0 596.9L1312.0 596.8M1325.0 622.9L1326.0 622.3L1327.0 621.0L1328.0 618.3L1329.0 613.9L1330.0 608.9L1331.0 604.5L1332.0 600.7L1333.0 597.2L1334.0 593.8L1335.0 591.0L1336.0 588.5L1337.0 586.2L1338.0 584.1L1339.0 582.6L1340.0 582.2M1354.0 606.1L1355.0 605.2L1356.0 603.6L1357.0 600.1L1358.0 595.0L1359.0 590.9L1360.0 588.1L1361.0 586.0L1362.0 585.9M1368.0 616.2L1369.0 615.8L1370.0 614.4L1371.0 612.5L1372.0 610.4L1373.0 608.2L1374.0 606.0L1375.0 603.9L1376.0 603.0M1379.0 606.3L1380.0 605.9L1381.0 604.8L1382.0 603.3L1383.0 601.7L1384.0 601.0L1385.0 600.9M1397.0 645.0L1398.0 644.3L1399.0 642.6L1400.0 640.2L1401.0 637.4L1402.0 635.1L1403.0 633.3L1404.0 631.9L1405.0 631.0M1415.0 661.0L1416.0 660.7L1417.0 658.9L1418.0 656.2L1419.0 653.3L1420.0 650.3L1421.0 647.2L1422.0 645.2L1423.0 644.0L1424.0 643.3L1425.0 643.0M1432.0 652.5L1433.0 651.8L1434.0 650.3L1435.0 648.4L1436.0 646.2L1437.0 644.0L1438.0 641.6L1439.0 639.7L1440.0 639.0M1449.0 649.1L1450.0 648.6L1451.0 646.9L1452.0 644.6L1453.0 641.7L1454.0 638.5L1455.0 634.9L1456.0 631.3L1457.0 627.2L1458.0 622.8L1459.0 618.1L1460.0 613.7L1461.0 609.9L1462.0 606.4L1463.0 603.6L1464.0 601.3L1465.0 599.9" stroke="#3b80c3" stroke-width="1" fill="none" stroke-dasharray="1 1.4"/>
<path d="M1.0 618.0L2.0 618.2L3.0 618.5L4.0 619.0L5.0 620.2L6.0 622.7L7.0 625.9L8.0 629.8L9.0 635.5L10.0 642.3L11.0 647.5L12.0 651.2L13.0 653.9L14.0 656.4L15.0 659.2L16.0 662.2L17.0 664.8L18.0 665.1M24.0 655.9L25.0 656.3L26.0 657.2L27.0 658.2L28.0 658.2M32.0 655.0L33.0 655.8L34.0 657.2L35.0 658.5L36.0 658.8M37.0 658.6L38.0 658.7L39.0 658.9L40.0 659.4M60.0 604.1L61.0 604.5L62.0 605.8L63.0 608.2L64.0 611.3L65.0 614.9L66.0 618.8L67.0 623.1L68.0 627.8L69.0 632.7L70.0 637.0L71.0 640.7L72.0 643.9L73.0 645.3M81.0 623.0L82.0 623.3L83.0 624.7L84.0 626.5L85.0 628.6L86.0 630.7L87.0 631.9L88.0 632.5L89.0 632.7M113.0 578.3L114.0 578.4L115.0 579.1L116.0 580.3L117.0 581.6L118.0 583.1L119.0 584.6L120.0 586.2L121.0 587.8L122.0 589.5L123.0 591.0L124.0 592.0L125.0 592.8L126.0 593.5L127.0 594.3L128.0 595.3L129.0 596.3L130.0 597.4L131.0 598.5L132.0 599.3M141.0 591.8L142.0 592.1L143.0 593.0L144.0 594.2L145.0 595.9L146.0 599.0L147.0 603.2L148.0 608.0L149.0 612.2L150.0 615.7L151.0 618.8L152.0 621.5L153.0 624.0L154.0 626.4L155.0 628.6L156.0 630.6L157.0 631.9L158.0 632.4L159.0 632.4M161.0 632.1L162.0 632.5L163.0 633.2L164.0 634.1L165.0 635.3L166.0 637.5L167.0 640.5L168.0 644.1L169.0 647.6L170.0 651.0L171.0 654.4L172.0 657.2L173.0 658.8L174.0 659.6L175.0 659.8M205.0 620.3L206.0 620.3L207.0 620.6M225.0 602.8L226.0 602.9L227.0 603.0L228.0 603.2L229.0 603.4L230.0 603.7L231.0 603.9M242.0 581.1L243.0 581.9L244.0 583.2L245.0 585.0L246.0 587.3L247.0 589.8L248.0 592.4L249.0 594.8L250.0 596.2L251.0 597.1L252.0 597.5L253.0 597.8L254.0 597.8M259.0 595.1L260.0 595.4L261.0 596.2L262.0 597.4L263.0 598.7L264.0 599.9L265.0 600.8L266.0 601.6L267.0 602.3L268.0 603.0L269.0 604.2L270.0 606.4L271.0 609.4L272.0 612.7L273.0 615.9L274.0 618.7L275.0 621.1L276.0 622.3L277.0 622.7M282.0 621.1L283.0 621.2L284.0 621.3L285.0 621.6L286.0 621.9L287.0 621.9M315.0 573.9L316.0 573.9L317.0 574.0L318.0 574.2L319.0 574.3L320.0 574.6L321.0 574.8L322.0 574.8M326.0 574.2L327.0 575.1L328.0 576.6L329.0 578.6L330.0 581.5L331.0 585.2L332.0 589.4L333.0 592.8L334.0 594.9L335.0 596.2L336.0 596.9L337.0 597.4L338.0 598.2L339.0 599.3L340.0 600.5L341.0 601.9L342.0 603.9L343.0 606.6L344.0 609.7L345.0 612.9L346.0 615.7L347.0 618.2L348.0 620.5L349.0 622.8L350.0 624.8L351.0 626.8L352.0 628.7L353.0 630.2L354.0 630.5M357.0 627.6L358.0 628.1L359.0 629.5L360.0 631.4L361.0 633.4L362.0 634.2M387.0 585.1L388.0 585.6L389.0 586.3L390.0 587.0L391.0 587.7L392.0 588.4L393.0 589.0L394.0 589.7L395.0 590.6L396.0 592.6L397.0 595.3L398.0 599.9L399.0 607.1L400.0 613.4L401.0 618.5L402.0 622.8L403.0 626.6L404.0 629.6L405.0 630.8L406.0 630.9M418.0 599.5L419.0 599.7L420.0 600.4L421.0 600.7M423.0 599.7L424.0 600.3L425.0 601.6L426.0 603.3L427.0 605.2L428.0 607.3L429.0 609.4L430.0 611.6L431.0 613.7L432.0 616.0L433.0 618.6L434.0 621.3L435.0 624.2L436.0 627.0L437.0 629.9L438.0 632.8L439.0 634.2L440.0 634.4M451.0 603.4L452.0 604.0L453.0 605.4L454.0 607.5L455.0 610.1L456.0 613.1L457.0 616.2L458.0 619.5L459.0 622.9L460.0 626.5L461.0 629.0L462.0 629.9M492.0 602.0L493.0 602.1L494.0 602.6L495.0 603.4L496.0 604.1L497.0 604.6L498.0 605.1L499.0 605.5M511.0 594.5L512.0 594.7L513.0 595.3L514.0 596.1L515.0 597.0L516.0 598.1L517.0 599.8L518.0 602.0L519.0 604.6L520.0 608.0L521.0 612.7L522.0 618.1L523.0 623.2L524.0 628.2L525.0 633.0L526.0 636.7L527.0 639.6L528.0 641.9L529.0 643.8L530.0 645.1L531.0 645.3M548.0 611.2L549.0 611.6L550.0 612.3L551.0 613.0L552.0 613.6L553.0 614.2L554.0 614.8L555.0 616.3L556.0 618.5L557.0 621.3L558.0 623.5L559.0 624.4L560.0 624.5M561.0 624.5L562.0 625.7L563.0 627.7L564.0 630.4L565.0 633.2L566.0 636.1L567.0 639.0L568.0 641.1L569.0 641.6M580.0 630.6L581.0 630.6M608.0 599.2L609.0 599.6L610.0 600.5L611.0 601.7L612.0 603.0L613.0 604.4L614.0 606.0L615.0 607.6L616.0 609.2L617.0 610.8L618.0 612.2L619.0 612.4M628.0 598.8L629.0 599.7L630.0 601.2L631.0 603.1L632.0 605.2L633.0 607.3L634.0 609.1L635.0 610.2L636.0 610.8L637.0 611.1L638.0 611.2M659.0 594.7L660.0 594.8L661.0 595.4L662.0 596.5L663.0 597.9L664.0 599.4L665.0 600.9L666.0 602.0L667.0 602.7L668.0 603.3L669.0 603.7L670.0 605.2L671.0 607.6L672.0 610.6L673.0 614.1L674.0 618.2L675.0 622.0L676.0 624.1L677.0 625.1L678.0 625.3M690.0 597.4L691.0 597.9L692.0 598.8L693.0 599.9L694.0 601.1L695.0 602.3L696.0 603.6L697.0 604.9L698.0 606.2L699.0 607.5L700.0 608.0M705.0 603.4L706.0 604.3L707.0 605.9L708.0 608.2L709.0 611.1L710.0 613.6L711.0 614.0M716.0 607.2L717.0 607.3L718.0 608.3L719.0 609.9L720.0 612.2L721.0 614.8L722.0 617.7L723.0 620.7L724.0 624.7L725.0 629.6L726.0 634.7L727.0 638.6L728.0 641.3L729.0 643.3L730.0 644.9L731.0 646.4L732.0 647.7L733.0 648.9L734.0 649.7M750.0 600.9L751.0 601.3L752.0 602.1L753.0 603.3L754.0 605.2L755.0 607.6L756.0 610.1L757.0 611.6L758.0 612.0M763.0 609.4L764.0 609.7L765.0 610.5L766.0 611.7L767.0 612.4L768.0 612.6M780.0 598.7L781.0 599.0L782.0 599.5L783.0 600.2L784.0 601.0L785.0 601.9L786.0 602.7L787.0 603.4L788.0 604.2L789.0 604.8L790.0 605.2M803.0 594.6L804.0 594.8M816.0 591.7L817.0 592.4L818.0 594.1L819.0 596.4L820.0 599.2L821.0 602.9L822.0 607.2L823.0 611.2L824.0 615.0L825.0 617.7L826.0 618.6M832.0 614.2L833.0 614.5L834.0 615.6L835.0 617.0L836.0 618.7L837.0 620.4L838.0 622.1L839.0 623.9L840.0 625.7L841.0 627.4L842.0 628.7L843.0 629.9L844.0 630.9L845.0 631.8L846.0 632.7L847.0 633.7L848.0 634.6L849.0 635.6L850.0 637.6L851.0 643.3L852.0 650.6L853.0 657.5L854.0 661.6L855.0 664.0L856.0 665.2L857.0 665.6M867.0 650.0L868.0 650.1L869.0 650.9L870.0 652.2L871.0 653.9L872.0 655.6L873.0 656.0M899.0 591.1L900.0 591.9L901.0 593.3L902.0 595.1L903.0 597.2L904.0 599.4L905.0 601.6L906.0 603.7L907.0 605.8L908.0 607.9L909.0 609.9L910.0 612.6L911.0 615.6L912.0 619.0L913.0 622.8L914.0 626.9L915.0 631.3L916.0 635.3L917.0 637.8L918.0 639.3L919.0 640.1L920.0 640.6M926.0 635.1L927.0 635.6L928.0 636.8L929.0 639.6L930.0 643.5L931.0 648.3L932.0 653.1L933.0 657.8L934.0 662.5L935.0 666.9L936.0 670.8L937.0 674.2L938.0 677.2L939.0 678.1M947.0 664.7L948.0 665.4L949.0 666.6L950.0 666.9M979.0 611.5L980.0 612.1L981.0 613.3L982.0 614.6L983.0 614.6M994.0 594.1L995.0 594.9L996.0 596.1L997.0 598.2L998.0 600.9L999.0 604.0L1000.0 607.1L1001.0 610.3L1002.0 613.5L1003.0 616.6L1004.0 619.2L1005.0 621.4L1006.0 623.5L1007.0 624.8L1008.0 624.9M1013.0 621.0L1014.0 621.2L1015.0 621.7L1016.0 622.5L1017.0 624.5L1018.0 627.4L1019.0 630.8L1020.0 634.1L1021.0 637.0L1022.0 639.7L1023.0 641.6L1024.0 642.2M1025.0 642.2L1026.0 643.0L1027.0 644.6L1028.0 645.9L1029.0 646.0M1045.0 595.3L1046.0 595.8L1047.0 597.0L1048.0 598.7L1049.0 600.4L1050.0 601.1L1051.0 601.4M1060.0 597.3L1061.0 597.5L1062.0 597.9L1063.0 598.2L1064.0 598.4M1068.0 597.9L1069.0 598.1L1070.0 598.5L1071.0 599.2L1072.0 600.1L1073.0 601.0L1074.0 602.4L1075.0 604.0L1076.0 605.7L1077.0 607.6L1078.0 609.8L1079.0 612.5L1080.0 615.3L1081.0 618.1L1082.0 620.5L1083.0 622.7L1084.0 624.3M1102.0 594.5L1103.0 594.8M1126.0 510.5L1127.0 511.4L1128.0 513.3L1129.0 516.0L1130.0 519.2L1131.0 522.8L1132.0 527.0L1133.0 531.8L1134.0 536.9L1135.0 542.0L1136.0 546.3L1137.0 550.2L1138.0 553.7L1139.0 557.0L1140.0 560.1L1141.0 563.1L1142.0 566.0L1143.0 569.2L1144.0 574.0L1145.0 580.2L1146.0 586.7L1147.0 592.1L1148.0 596.6L1149.0 600.6L1150.0 604.3L1151.0 608.1L1152.0 612.1L1153.0 616.2L1154.0 618.0M1166.0 586.3L1167.0 586.5L1168.0 587.2L1169.0 587.7L1170.0 587.9L1171.0 588.0L1172.0 588.5L1173.0 589.7L1174.0 591.4L1175.0 593.4L1176.0 595.7L1177.0 598.6L1178.0 601.7L1179.0 605.4L1180.0 611.6L1181.0 619.4L1182.0 627.9L1183.0 636.8L1184.0 643.6L1185.0 648.4L1186.0 651.9L1187.0 654.4L1188.0 655.7L1189.0 656.2L1190.0 656.3M1194.0 655.2L1195.0 656.1L1196.0 658.2L1197.0 660.9L1198.0 661.7M1211.0 630.9L1212.0 631.1L1213.0 632.4L1214.0 634.5L1215.0 637.1L1216.0 638.2M1219.0 635.5L1220.0 635.8L1221.0 636.9L1222.0 638.5L1223.0 640.0M1233.0 617.5L1234.0 617.7M1247.0 604.2L1248.0 605.4L1249.0 607.4L1250.0 610.1L1251.0 612.7L1252.0 615.3L1253.0 617.8L1254.0 619.0L1255.0 619.2M1262.0 607.8L1263.0 608.1L1264.0 608.9L1265.0 610.2L1266.0 611.9L1267.0 613.8L1268.0 615.7L1269.0 617.5L1270.0 619.0L1271.0 620.4L1272.0 621.8L1273.0 623.1L1274.0 624.4L1275.0 625.9L1276.0 627.5L1277.0 629.2L1278.0 630.6M1297.0 578.6L1298.0 579.7L1299.0 581.4L1300.0 583.2L1301.0 584.9L1302.0 586.7L1303.0 588.4L1304.0 590.0L1305.0 591.4L1306.0 592.8L1307.0 594.1L1308.0 595.3L1309.0 596.4L1310.0 596.9L1311.0 596.9M1312.0 596.8L1313.0 597.6L1314.0 599.1L1315.0 601.2L1316.0 603.6L1317.0 606.2L1318.0 608.7L1319.0 611.2L1320.0 613.7L1321.0 616.2L1322.0 618.4L1323.0 620.4L1324.0 622.3L1325.0 622.9M1340.0 582.2L1341.0 582.4L1342.0 583.0L1343.0 584.0L1344.0 585.6L1345.0 587.8L1346.0 590.3L1347.0 593.0L1348.0 595.5L1349.0 597.9L1350.0 600.1L1351.0 602.2L1352.0 604.2L1353.0 605.9L1354.0 606.1M1362.0 585.9L1363.0 589.5L1364.0 595.1L1365.0 601.1L1366.0 607.4L1367.0 613.5L1368.0 616.2M1376.0 603.0L1377.0 603.8L1378.0 605.6L1379.0 606.3M1385.0 600.9L1386.0 601.3L1387.0 602.1L1388.0 604.2L1389.0 607.2L1390.0 612.0L1391.0 619.3L1392.0 626.2L1393.0 632.4L1394.0 638.1L1395.0 642.6L1396.0 644.5L1397.0 645.0M1405.0 631.0L1406.0 631.9L1407.0 634.0L1408.0 636.9L1409.0 640.2L1410.0 643.8L1411.0 647.5L1412.0 651.3L1413.0 655.1L1414.0 658.9L1415.0 661.0M1425.0 643.0L1426.0 643.4L1427.0 644.6L1428.0 646.3L1429.0 648.3L1430.0 650.2L1431.0 652.0L1432.0 652.5M1440.0 639.0L1441.0 639.0L1442.0 639.6L1443.0 640.8L1444.0 642.6L1445.0 644.6L1446.0 646.8L1447.0 648.2L1448.0 648.9L1449.0 649.1M1465.0 599.9L1466.0 599.9" stroke="#ea5e4a" stroke-width="1" fill="none" stroke-dasharray="1 1.4"/>
<path d="M16.0 668.8L17.0 664.7L18.0 660.9L19.0 658.3L20.0 655.6L21.0 653.0M26.0 659.6L27.0 657.8L28.0 656.0L29.0 654.3L30.0 652.5M34.0 660.5L35.0 659.0L36.0 658.2M39.0 660.3L40.0 658.8L41.0 657.3L42.0 655.8L43.0 654.3L44.0 651.8L45.0 648.3L46.0 644.7L47.0 641.2L48.0 637.5L49.0 632.8L50.0 628.2L51.0 623.5L52.0 618.8L53.0 612.0L54.0 603.9L55.0 599.5M71.0 650.0L72.0 647.0L73.0 644.0L74.0 639.9L75.0 634.6L76.0 629.4L77.0 624.3L78.0 620.6L79.0 616.9M85.0 634.5L86.0 634.0L87.0 633.5L88.0 633.0L89.0 632.5L90.0 631.3L91.0 630.1L92.0 629.0L93.0 627.8L94.0 626.6L95.0 624.3L96.0 619.2L97.0 614.1L98.0 609.0L99.0 605.1L100.0 601.1L101.0 597.2L102.0 593.3L103.0 590.2L104.0 587.9L105.0 585.7L106.0 583.4L107.0 581.2L108.0 580.0L109.0 578.8L110.0 577.7L111.0 576.5M130.0 600.8L131.0 600.4L132.0 598.9L133.0 597.3L134.0 595.8L135.0 594.4L136.0 593.4L137.0 592.4L138.0 591.3L139.0 590.3M155.0 634.6L156.0 633.9L157.0 633.1L158.0 632.4L159.0 631.6M171.0 662.2L172.0 661.5L173.0 660.7L174.0 660.0L175.0 659.2L176.0 658.9L177.0 658.7L178.0 658.4L179.0 658.1L180.0 656.6L181.0 654.2L182.0 651.8L183.0 649.5L184.0 647.1L185.0 644.7L186.0 642.7L187.0 640.7L188.0 638.6L189.0 636.6L190.0 634.8L191.0 633.0L192.0 631.3L193.0 629.6L194.0 627.9L195.0 626.5L196.0 625.2L197.0 623.9L198.0 622.9L199.0 622.1L200.0 621.3L201.0 620.5L202.0 619.7L203.0 619.1M206.0 621.3L207.0 619.1L208.0 617.0L209.0 614.8L210.0 612.6L211.0 610.8L212.0 609.7L213.0 608.5L214.0 607.3L215.0 606.2L216.0 605.0L217.0 603.8L218.0 603.4L219.0 603.2L220.0 603.0L221.0 602.8L222.0 602.6L223.0 602.5M230.0 604.4L231.0 603.0L232.0 599.1L233.0 595.2L234.0 591.3L235.0 588.3L236.0 585.4L237.0 582.4L238.0 579.5L239.0 577.0M248.0 598.9L249.0 598.7L250.0 598.5L251.0 598.3L252.0 598.2L253.0 597.9L254.0 596.9L255.0 595.9L256.0 594.9L257.0 593.9M274.0 625.4L275.0 624.2L276.0 623.1L277.0 622.0L278.0 620.9L279.0 620.3M285.0 622.4L286.0 621.9L287.0 621.1L288.0 620.3L289.0 619.5L290.0 616.6L291.0 608.5L292.0 601.2L293.0 600.2L294.0 599.2L295.0 598.2L296.0 597.2L297.0 596.1L298.0 594.8L299.0 593.6L300.0 592.4L301.0 590.7L302.0 588.9L303.0 587.2L304.0 585.5L305.0 583.5L306.0 581.2L307.0 579.0L308.0 576.8L309.0 574.5L310.0 572.3M320.0 575.2L321.0 574.8L322.0 574.4L323.0 574.0L324.0 573.6M332.0 598.8L333.0 598.6L334.0 598.4L335.0 598.2M352.0 632.9L353.0 630.4L354.0 627.9L355.0 625.4M360.0 637.0L361.0 635.1L362.0 633.2L363.0 631.3L364.0 629.7L365.0 628.4L366.0 627.2L367.0 625.9L368.0 624.7L369.0 620.6L370.0 616.6L371.0 612.5L372.0 608.9L373.0 605.4L374.0 601.9L375.0 598.5L376.0 595.3L377.0 593.6L378.0 591.8L379.0 590.0L380.0 588.3L381.0 586.9L382.0 585.7L383.0 584.5L384.0 583.2M403.0 634.4L404.0 632.5L405.0 630.6L406.0 628.0L407.0 623.1L408.0 618.3L409.0 613.4L410.0 609.8L411.0 606.6L412.0 603.4L413.0 600.2L414.0 597.9L415.0 597.8L416.0 597.6M419.0 602.1L420.0 600.8L421.0 598.8M437.0 638.5L438.0 636.4L439.0 634.3L440.0 632.2L441.0 628.1L442.0 622.7L443.0 617.3L444.0 612.5L445.0 609.1L446.0 605.8L447.0 602.4L448.0 599.1M459.0 633.6L460.0 633.1L461.0 630.9L462.0 628.6L463.0 626.7L464.0 625.7L465.0 624.7L466.0 623.7L467.0 622.6L468.0 621.6L469.0 620.6L470.0 619.5L471.0 618.3L472.0 617.0L473.0 615.8L474.0 614.6L475.0 613.5L476.0 613.0L477.0 612.6L478.0 612.2L479.0 611.8L480.0 611.3L481.0 610.9L482.0 610.5L483.0 609.7L484.0 607.9L485.0 606.2L486.0 604.5L487.0 602.7L488.0 602.0L489.0 601.4L490.0 600.9M498.0 606.3L499.0 604.9L500.0 602.8L501.0 600.6L502.0 598.5L503.0 596.7L504.0 596.2L505.0 595.7L506.0 595.2L507.0 594.7L508.0 594.2L509.0 593.7M528.0 647.5L529.0 647.0L530.0 645.3L531.0 643.6L532.0 641.8L533.0 640.1L534.0 637.8L535.0 635.6L536.0 633.4L537.0 631.1L538.0 628.9L539.0 626.6L540.0 624.3L541.0 622.0L542.0 619.2L543.0 614.5L544.0 609.7L545.0 607.0M557.0 627.1L558.0 625.7L559.0 624.4M566.0 645.0L567.0 644.2L568.0 641.8L569.0 639.4L570.0 637.5L571.0 636.1L572.0 634.8L573.0 633.4L574.0 632.1L575.0 630.7L576.0 629.4M580.0 630.6L581.0 629.4L582.0 628.2L583.0 627.0L584.0 625.8L585.0 624.8L586.0 623.8L587.0 622.9L588.0 621.9L589.0 620.6L590.0 618.8L591.0 617.0L592.0 615.3L593.0 613.5L594.0 612.1L595.0 610.6L596.0 609.2L597.0 607.7L598.0 606.7L599.0 606.2L600.0 605.7L601.0 604.1L602.0 602.5L603.0 600.9L604.0 599.3L605.0 597.8L606.0 597.5M617.0 614.6L618.0 612.1L619.0 609.6L620.0 607.1L621.0 604.6L622.0 602.6L623.0 600.6L624.0 598.5L625.0 596.5L626.0 596.4M633.0 612.2L634.0 612.0L635.0 611.8L636.0 611.6L637.0 611.3L638.0 611.1L639.0 610.9L640.0 609.5L641.0 608.0L642.0 606.6L643.0 605.2L644.0 603.7L645.0 602.3L646.0 601.3L647.0 601.3L648.0 601.3L649.0 601.3L650.0 601.3L651.0 601.3L652.0 600.3L653.0 598.9L654.0 597.4L655.0 596.0L656.0 594.6L657.0 593.1M674.0 628.5L675.0 627.6L676.0 626.6L677.0 625.4L678.0 621.1L679.0 616.9L680.0 612.7L681.0 608.9L682.0 605.1L683.0 601.3L684.0 598.6L685.0 597.5L686.0 596.5L687.0 595.4M698.0 610.2L699.0 608.3L700.0 606.4L701.0 604.4L702.0 602.5L703.0 600.6M709.0 617.3L710.0 613.8L711.0 610.4L712.0 608.2L713.0 606.9L714.0 605.6L715.0 605.2M732.0 651.3L733.0 650.6L734.0 647.0L735.0 643.5L736.0 639.6L737.0 632.4L738.0 625.2L739.0 618.0L740.0 613.7L741.0 610.6L742.0 607.6L743.0 604.5L744.0 602.1L745.0 601.1L746.0 600.1L747.0 599.1M755.0 615.2L756.0 613.8L757.0 612.5L758.0 611.1L759.0 610.0L760.0 609.2L761.0 608.5M765.0 614.1L766.0 613.5L767.0 612.8L768.0 612.2L769.0 611.6L770.0 609.7L771.0 607.0L772.0 604.3L773.0 601.8L774.0 599.9L775.0 598.0L776.0 597.0M788.0 606.2L789.0 605.6L790.0 604.5L791.0 603.4L792.0 602.3L793.0 601.2L794.0 600.1L795.0 598.8L796.0 597.5L797.0 596.1L798.0 594.8L799.0 593.5L800.0 593.4M803.0 595.2L804.0 594.7L805.0 594.2L806.0 593.6L807.0 593.1L808.0 592.6L809.0 592.3L810.0 592.1L811.0 592.0L812.0 591.8L813.0 591.6L814.0 591.5L815.0 591.3M823.0 622.6L824.0 622.0L825.0 619.7L826.0 617.4L827.0 616.1L828.0 615.1L829.0 614.0L830.0 613.0M852.0 669.5L853.0 668.7L854.0 667.9L855.0 667.2L856.0 666.2L857.0 665.2L858.0 664.2L859.0 662.2L860.0 659.1L861.0 656.0L862.0 653.1L863.0 650.4L864.0 647.8L865.0 647.3M871.0 658.7L872.0 656.3L873.0 653.8L874.0 651.4L875.0 647.5L876.0 643.5L877.0 639.6L878.0 635.9L879.0 632.5L880.0 629.0L881.0 625.6L882.0 622.3L883.0 619.8L884.0 617.4L885.0 615.0L886.0 612.6L887.0 610.2L888.0 607.8L889.0 605.2L890.0 602.8L891.0 600.2L892.0 597.8L893.0 595.4L894.0 593.0L895.0 590.6L896.0 588.2M915.0 642.4L916.0 642.1L917.0 641.9L918.0 641.6L919.0 641.4L920.0 639.4L921.0 637.4L922.0 635.3L923.0 633.3M937.0 682.6L938.0 678.9L939.0 675.2L940.0 671.5L941.0 668.8L942.0 666.1L943.0 663.5L944.0 660.8M948.0 669.0L949.0 667.0L950.0 665.0L951.0 663.1L952.0 661.1L953.0 659.5L954.0 658.2L955.0 656.8L956.0 653.7L957.0 646.2L958.0 638.8L959.0 633.9L960.0 630.9L961.0 627.8L962.0 624.7L963.0 624.1L964.0 623.5L965.0 622.9L966.0 622.0L967.0 620.3L968.0 618.6L969.0 616.9L970.0 616.4L971.0 615.9L972.0 615.4L973.0 614.9L974.0 613.8L975.0 612.1L976.0 610.5L977.0 609.2M981.0 616.7L982.0 614.1L983.0 611.4L984.0 608.8L985.0 605.9L986.0 602.5L987.0 599.1L988.0 595.7L989.0 594.4L990.0 593.1L991.0 591.8M1005.0 627.6L1006.0 626.6L1007.0 624.8L1008.0 623.1L1009.0 621.3L1010.0 619.5M1021.0 645.0L1022.0 644.7L1023.0 642.8L1024.0 642.3M1026.0 648.0L1027.0 647.9L1028.0 645.6L1029.0 643.4L1030.0 641.2L1031.0 638.2L1032.0 634.8L1033.0 631.4L1034.0 626.1L1035.0 616.5L1036.0 606.9L1037.0 603.0L1038.0 599.1L1039.0 595.2L1040.0 594.0L1041.0 594.0L1042.0 594.0L1043.0 594.0M1048.0 603.1L1049.0 602.4L1050.0 601.6L1051.0 600.9L1052.0 600.1L1053.0 599.4L1054.0 598.6L1055.0 597.8L1056.0 597.0L1057.0 596.2M1062.0 598.9L1063.0 598.6L1064.0 598.3L1065.0 598.1L1066.0 597.8L1067.0 597.5M1083.0 626.9L1084.0 623.2L1085.0 619.5L1086.0 615.8L1087.0 613.8L1088.0 611.8L1089.0 609.9L1090.0 607.9L1091.0 605.8L1092.0 603.6L1093.0 601.3L1094.0 599.1L1095.0 597.4L1096.0 596.2L1097.0 594.9L1098.0 593.7L1099.0 592.5M1102.0 595.6L1103.0 593.0L1104.0 588.8L1105.0 584.7L1106.0 569.0L1107.0 553.2L1108.0 544.1L1109.0 539.4L1110.0 534.7L1111.0 529.9M1115.0 533.8L1116.0 532.8L1117.0 528.2L1118.0 523.6L1119.0 519.0L1120.0 514.9L1121.0 510.9L1122.0 506.8M1152.0 624.4L1153.0 620.3L1154.0 616.2L1155.0 611.9L1156.0 607.3L1157.0 602.7L1158.0 598.2L1159.0 593.6L1160.0 590.8L1161.0 588.0L1162.0 585.3L1163.0 582.5M1167.0 588.7L1168.0 588.5L1169.0 588.3L1170.0 588.0M1186.0 658.6L1187.0 657.8L1188.0 657.1L1189.0 656.3L1190.0 655.6L1191.0 655.3L1192.0 654.9L1193.0 654.6M1196.0 666.7L1197.0 662.0L1198.0 657.4L1199.0 653.0L1200.0 649.2L1201.0 645.3L1202.0 641.4L1203.0 639.1L1204.0 636.8L1205.0 634.5L1206.0 632.2L1207.0 631.0L1208.0 630.2L1209.0 629.5L1210.0 628.7M1214.0 642.5L1215.0 639.5L1216.0 636.5L1217.0 633.5M1222.0 642.6L1223.0 639.3L1224.0 635.9L1225.0 632.6L1226.0 628.1L1227.0 623.6L1228.0 619.1L1229.0 614.6L1230.0 613.8M1233.0 618.1L1234.0 617.3L1235.0 616.5L1236.0 615.8L1237.0 615.0L1238.0 612.7L1239.0 610.5L1240.0 608.2L1241.0 606.6L1242.0 605.5L1243.0 604.4L1244.0 603.3L1245.0 602.1M1252.0 622.5L1253.0 620.8L1254.0 619.1L1255.0 617.4L1256.0 615.2L1257.0 611.5L1258.0 607.8L1259.0 604.0M1277.0 632.8L1278.0 629.8L1279.0 626.8L1280.0 623.8L1281.0 619.8L1282.0 615.8L1283.0 611.8L1284.0 607.8L1285.0 604.7L1286.0 602.2L1287.0 599.7L1288.0 597.2L1289.0 594.1L1290.0 588.6L1291.0 583.1L1292.0 577.6L1293.0 576.2L1294.0 574.9M1308.0 598.2L1309.0 597.6L1310.0 596.9L1311.0 596.6M1323.0 626.0L1324.0 623.3L1325.0 620.7L1326.0 618.0L1327.0 611.9L1328.0 604.4L1329.0 599.2L1330.0 596.2L1331.0 593.2L1332.0 590.2L1333.0 587.3L1334.0 585.5L1335.0 583.6L1336.0 581.8L1337.0 580.0M1352.0 608.4L1353.0 605.8L1354.0 603.1L1355.0 599.9L1356.0 592.1L1357.0 584.2L1358.0 583.6L1359.0 582.9L1360.0 582.3M1366.0 625.4L1367.0 619.7L1368.0 613.9L1369.0 611.3L1370.0 608.7L1371.0 606.0L1372.0 603.8L1373.0 601.7L1374.0 599.6M1377.0 609.3L1378.0 607.0L1379.0 604.7L1380.0 602.4L1381.0 600.1L1382.0 598.8M1394.0 649.9L1395.0 647.6L1396.0 645.2L1397.0 642.5L1398.0 638.8L1399.0 635.2L1400.0 631.5L1401.0 630.7L1402.0 630.0L1403.0 629.2M1413.0 666.6L1414.0 663.8L1415.0 659.2L1416.0 654.7L1417.0 650.7L1418.0 647.4L1419.0 644.1L1420.0 641.5M1430.0 655.7L1431.0 652.8L1432.0 649.8L1433.0 646.9L1434.0 644.4L1435.0 641.9L1436.0 639.4L1437.0 636.9L1438.0 636.7M1445.0 651.3L1446.0 650.6L1447.0 649.9L1448.0 649.3L1449.0 646.8L1450.0 643.2L1451.0 639.5L1452.0 635.8L1453.0 631.8L1454.0 627.8L1455.0 623.8L1456.0 618.8L1457.0 613.8L1458.0 608.8L1459.0 605.3L1460.0 602.5L1461.0 599.6L1462.0 598.2L1463.0 596.9" stroke="#3b80c3" stroke-width="1" fill="none" stroke-linejoin="round"/>
<path d="M0.0 618.0L1.0 618.7L2.0 619.3L3.0 620.0L4.0 623.4L5.0 628.0L6.0 632.6L7.0 638.5L8.0 647.7L9.0 656.0L10.0 657.0L11.0 657.9L12.0 658.9L13.0 661.6L14.0 665.0L15.0 668.4L16.0 668.8M21.0 653.0L22.0 653.9L23.0 655.7L24.0 657.5L25.0 659.2L26.0 659.6M30.0 652.5L31.0 655.1L32.0 657.7L33.0 660.4L34.0 660.5M36.0 658.2L37.0 658.9L38.0 659.6L39.0 660.3M55.0 599.5L56.0 600.7L57.0 601.9L58.0 603.1L59.0 604.3L60.0 605.5L61.0 609.2L62.0 613.5L63.0 617.8L64.0 622.1L65.0 626.8L66.0 632.0L67.0 637.3L68.0 642.5L69.0 645.2L70.0 647.9L71.0 650.0M79.0 616.9L80.0 620.8L81.0 624.6L82.0 627.6L83.0 630.2L84.0 632.9L85.0 634.5M111.0 576.5L112.0 577.1L113.0 579.0L114.0 580.8L115.0 582.6L116.0 584.3L117.0 586.0L118.0 587.7L119.0 589.4L120.0 591.1L121.0 592.8L122.0 593.7L123.0 594.0L124.0 594.3L125.0 594.8L126.0 596.0L127.0 597.2L128.0 598.4L129.0 599.6L130.0 600.8M139.0 590.3L140.0 591.3L141.0 593.1L142.0 594.9L143.0 596.7L144.0 599.8L145.0 605.9L146.0 611.9L147.0 618.0L148.0 620.2L149.0 622.4L150.0 624.7L151.0 626.9L152.0 629.0L153.0 631.0L154.0 632.9L155.0 634.6M159.0 631.6L160.0 632.3L161.0 633.5L162.0 634.8L163.0 636.0L164.0 637.9L165.0 642.4L166.0 646.9L167.0 651.4L168.0 654.6L169.0 657.8L170.0 661.0L171.0 662.2M203.0 619.1L204.0 619.9L205.0 620.6L206.0 621.3M223.0 602.5L224.0 602.7L225.0 603.0L226.0 603.3L227.0 603.6L228.0 603.9L229.0 604.1L230.0 604.4M239.0 577.0L240.0 579.2L241.0 581.5L242.0 583.7L243.0 586.0L244.0 589.0L245.0 591.9L246.0 594.9L247.0 597.8L248.0 598.9M257.0 593.9L258.0 594.6L259.0 596.3L260.0 598.1L261.0 599.9L262.0 601.4L263.0 602.0L264.0 602.6L265.0 603.2L266.0 603.8L267.0 604.4L268.0 607.1L269.0 611.4L270.0 615.6L271.0 619.5L272.0 621.9L273.0 624.3L274.0 625.4M279.0 620.3L280.0 620.7L281.0 621.0L282.0 621.4L283.0 621.7L284.0 622.1L285.0 622.4M310.0 572.3L311.0 572.7L312.0 573.0L313.0 573.4L314.0 573.7L315.0 574.0L316.0 574.3L317.0 574.5L318.0 574.7L319.0 575.0L320.0 575.2M324.0 573.6L325.0 574.7L326.0 577.3L327.0 579.9L328.0 582.8L329.0 587.9L330.0 592.9L331.0 598.0L332.0 598.8M335.0 598.2L336.0 598.5L337.0 600.0L338.0 601.5L339.0 603.1L340.0 604.6L341.0 608.4L342.0 612.3L343.0 616.1L344.0 619.0L345.0 621.1L346.0 623.1L347.0 625.2L348.0 627.2L349.0 628.9L350.0 630.6L351.0 632.4L352.0 632.9M355.0 625.4L356.0 626.8L357.0 629.7L358.0 632.6L359.0 635.5L360.0 637.0M384.0 583.2L385.0 584.0L386.0 585.3L387.0 586.6L388.0 587.9L389.0 588.5L390.0 589.1L391.0 589.7L392.0 590.3L393.0 590.9L394.0 592.9L395.0 597.1L396.0 601.2L397.0 610.7L398.0 622.5L399.0 625.4L400.0 628.2L401.0 631.1L402.0 634.0L403.0 634.4M416.0 597.6L417.0 598.7L418.0 600.4L419.0 602.1M421.0 598.8L422.0 599.5L423.0 601.9L424.0 604.4L425.0 606.8L426.0 609.2L427.0 611.4L428.0 613.7L429.0 615.9L430.0 618.1L431.0 620.8L432.0 623.8L433.0 626.9L434.0 629.9L435.0 632.7L436.0 635.6L437.0 638.5M448.0 599.1L449.0 600.5L450.0 603.0L451.0 605.6L452.0 608.6L453.0 612.1L454.0 615.6L455.0 619.0L456.0 622.5L457.0 626.2L458.0 629.9L459.0 633.6M490.0 600.9L491.0 601.2L492.0 602.5L493.0 603.8L494.0 605.0L495.0 605.4L496.0 605.7L497.0 606.0L498.0 606.3M509.0 593.7L510.0 594.1L511.0 595.3L512.0 596.5L513.0 597.8L514.0 599.0L515.0 600.2L516.0 603.5L517.0 606.7L518.0 610.0L519.0 615.6L520.0 622.7L521.0 628.8L522.0 633.4L523.0 637.9L524.0 642.5L525.0 643.8L526.0 645.0L527.0 646.2L528.0 647.5M545.0 607.0L546.0 608.8L547.0 610.7L548.0 612.6L549.0 613.8L550.0 614.3L551.0 614.8L552.0 615.3L553.0 616.2L554.0 619.7L555.0 623.3L556.0 626.9L557.0 627.1M559.0 624.4L560.0 625.0L561.0 628.6L562.0 632.2L563.0 635.8L564.0 638.9L565.0 641.9L566.0 645.0M576.0 629.4L577.0 629.4L578.0 630.0L579.0 630.6L580.0 630.6M606.0 597.5L607.0 599.1L608.0 600.8L609.0 602.4L610.0 604.1L611.0 605.7L612.0 607.4L613.0 609.1L614.0 610.8L615.0 612.4L616.0 614.1L617.0 614.6M626.0 596.4L627.0 599.1L628.0 601.9L629.0 604.6L630.0 607.0L631.0 609.3L632.0 611.7L633.0 612.2M657.0 593.1L658.0 593.3L659.0 595.2L660.0 597.0L661.0 598.9L662.0 600.7L663.0 602.6L664.0 603.6L665.0 603.9L666.0 604.1L667.0 604.4L668.0 604.6L669.0 608.7L670.0 612.7L671.0 616.8L672.0 621.5L673.0 626.5L674.0 628.5M687.0 595.4L688.0 595.9L689.0 597.5L690.0 599.1L691.0 600.7L692.0 602.1L693.0 603.5L694.0 604.8L695.0 606.2L696.0 607.5L697.0 608.9L698.0 610.2M703.0 600.6L704.0 603.5L705.0 606.4L706.0 609.4L707.0 613.2L708.0 617.1L709.0 617.3M715.0 605.2L716.0 607.9L717.0 610.7L718.0 613.5L719.0 616.9L720.0 620.2L721.0 623.5L722.0 626.9L723.0 633.3L724.0 639.6L725.0 644.8L726.0 645.6L727.0 646.3L728.0 647.0L729.0 648.1L730.0 649.2L731.0 650.3L732.0 651.3M747.0 599.1L748.0 599.4L749.0 600.9L750.0 602.4L751.0 603.9L752.0 606.2L753.0 609.3L754.0 612.5L755.0 615.2M761.0 608.5L762.0 608.8L763.0 610.6L764.0 612.5L765.0 614.1M776.0 597.0L777.0 597.6L778.0 598.2L779.0 598.8L780.0 599.6L781.0 600.6L782.0 601.7L783.0 602.7L784.0 603.6L785.0 604.3L786.0 604.9L787.0 605.6L788.0 606.2M800.0 593.4L801.0 594.1L802.0 594.8L803.0 595.2M815.0 591.3L816.0 594.6L817.0 597.8L818.0 601.1L819.0 605.5L820.0 610.6L821.0 615.8L822.0 619.2L823.0 622.6M830.0 613.0L831.0 613.3L832.0 615.6L833.0 617.9L834.0 620.2L835.0 622.0L836.0 623.8L837.0 625.6L838.0 627.4L839.0 629.2L840.0 630.6L841.0 631.3L842.0 632.1L843.0 632.9L844.0 633.6L845.0 634.6L846.0 635.6L847.0 636.5L848.0 637.5L849.0 644.0L850.0 655.9L851.0 666.0L852.0 669.5M865.0 647.3L866.0 649.0L867.0 650.7L868.0 652.8L869.0 655.1L870.0 657.4L871.0 658.7M896.0 588.2L897.0 588.7L898.0 591.3L899.0 593.9L900.0 596.4L901.0 598.9L902.0 601.4L903.0 603.9L904.0 606.0L905.0 608.0L906.0 609.9L907.0 611.9L908.0 614.3L909.0 618.1L910.0 622.0L911.0 625.8L912.0 630.6L913.0 635.3L914.0 640.1L915.0 642.4M923.0 633.3L924.0 633.5L925.0 635.2L926.0 636.8L927.0 639.8L928.0 645.9L929.0 651.9L930.0 658.0L931.0 662.6L932.0 667.2L933.0 671.9L934.0 675.4L935.0 678.2L936.0 681.0L937.0 682.6M944.0 660.8L945.0 663.0L946.0 665.1L947.0 667.3L948.0 669.0M977.0 609.2L978.0 611.5L979.0 613.7L980.0 615.9L981.0 616.7M991.0 591.8L992.0 592.5L993.0 594.5L994.0 596.6L995.0 599.1L996.0 602.8L997.0 606.5L998.0 610.2L999.0 613.5L1000.0 616.7L1001.0 620.0L1002.0 622.4L1003.0 624.1L1004.0 625.9L1005.0 627.6M1010.0 619.5L1011.0 619.7L1012.0 620.7L1013.0 621.8L1014.0 622.8L1015.0 624.5L1016.0 629.0L1017.0 633.5L1018.0 638.0L1019.0 640.3L1020.0 642.6L1021.0 645.0M1024.0 642.3L1025.0 645.2L1026.0 648.0M1043.0 594.0L1044.0 594.7L1045.0 597.2L1046.0 599.8L1047.0 602.2L1048.0 603.1M1057.0 596.2L1058.0 596.8L1059.0 597.4L1060.0 598.0L1061.0 598.6L1062.0 598.9M1067.0 597.5L1068.0 598.6L1069.0 599.6L1070.0 600.7L1071.0 601.8L1072.0 603.2L1073.0 605.2L1074.0 607.3L1075.0 609.3L1076.0 611.3L1077.0 614.6L1078.0 617.9L1079.0 621.2L1080.0 623.5L1081.0 625.2L1082.0 626.8L1083.0 626.9M1099.0 592.5L1100.0 593.5L1101.0 594.6L1102.0 595.6M1111.0 529.9L1112.0 530.0L1113.0 531.3L1114.0 532.6L1115.0 533.8M1122.0 506.8L1123.0 507.0L1124.0 508.9L1125.0 510.9L1126.0 513.5L1127.0 517.7L1128.0 521.8L1129.0 525.9L1130.0 530.0L1131.0 535.8L1132.0 541.5L1133.0 547.3L1134.0 551.7L1135.0 554.7L1136.0 557.6L1137.0 560.6L1138.0 563.6L1139.0 566.3L1140.0 569.0L1141.0 571.7L1142.0 576.1L1143.0 584.5L1144.0 593.0L1145.0 599.2L1146.0 602.3L1147.0 605.4L1148.0 608.4L1149.0 611.5L1150.0 615.8L1151.0 620.1L1152.0 624.4M1163.0 582.5L1164.0 584.1L1165.0 585.7L1166.0 587.3L1167.0 588.7M1170.0 588.0L1171.0 590.0L1172.0 592.5L1173.0 595.0L1174.0 597.5L1175.0 600.7L1176.0 604.4L1177.0 608.0L1178.0 613.9L1179.0 624.9L1180.0 635.7L1181.0 645.2L1182.0 654.6L1183.0 655.9L1184.0 657.2L1185.0 658.5L1186.0 658.6M1193.0 654.6L1194.0 658.6L1195.0 662.7L1196.0 666.7M1210.0 628.7L1211.0 632.2L1212.0 635.6L1213.0 639.0L1214.0 642.5M1217.0 633.5L1218.0 634.4L1219.0 636.9L1220.0 639.4L1221.0 641.8L1222.0 642.6M1230.0 613.8L1231.0 615.5L1232.0 617.1L1233.0 618.1M1245.0 602.1L1246.0 604.4L1247.0 608.2L1248.0 612.0L1249.0 615.5L1250.0 618.0L1251.0 620.5L1252.0 622.5M1259.0 604.0L1260.0 605.6L1261.0 607.2L1262.0 608.9L1263.0 610.8L1264.0 613.1L1265.0 615.3L1266.0 617.6L1267.0 619.6L1268.0 620.8L1269.0 622.0L1270.0 623.2L1271.0 624.4L1272.0 625.6L1273.0 627.2L1274.0 629.0L1275.0 630.7L1276.0 632.5L1277.0 632.8M1294.0 574.9L1295.0 576.2L1296.0 579.2L1297.0 582.3L1298.0 584.9L1299.0 586.7L1300.0 588.4L1301.0 590.1L1302.0 591.9L1303.0 593.1L1304.0 594.3L1305.0 595.4L1306.0 596.6L1307.0 597.8L1308.0 598.2M1311.0 596.6L1312.0 599.6L1313.0 602.6L1314.0 605.6L1315.0 608.6L1316.0 611.3L1317.0 613.8L1318.0 616.2L1319.0 618.7L1320.0 621.0L1321.0 622.7L1322.0 624.3L1323.0 626.0M1337.0 580.0L1338.0 580.3L1339.0 581.7L1340.0 583.0L1341.0 584.4L1342.0 586.2L1343.0 589.3L1344.0 592.4L1345.0 595.4L1346.0 598.5L1347.0 600.5L1348.0 602.4L1349.0 604.4L1350.0 606.4L1351.0 608.3L1352.0 608.4M1360.0 582.3L1361.0 588.0L1362.0 598.0L1363.0 606.7L1364.0 613.3L1365.0 620.0L1366.0 625.4M1374.0 599.6L1375.0 602.3L1376.0 606.1L1377.0 609.3M1382.0 598.8L1383.0 599.9L1384.0 601.0L1385.0 602.1L1386.0 604.3L1387.0 609.0L1388.0 613.6L1389.0 623.2L1390.0 634.8L1391.0 639.7L1392.0 644.5L1393.0 649.4L1394.0 649.9M1403.0 629.2L1404.0 630.0L1405.0 634.4L1406.0 638.8L1407.0 643.0L1408.0 647.0L1409.0 651.0L1410.0 655.0L1411.0 658.9L1412.0 662.7L1413.0 666.6M1420.0 641.5L1421.0 641.7L1422.0 642.0L1423.0 642.2L1424.0 642.5L1425.0 644.6L1426.0 647.3L1427.0 650.0L1428.0 652.2L1429.0 653.9L1430.0 655.7M1438.0 636.7L1439.0 638.0L1440.0 639.4L1441.0 641.1L1442.0 643.6L1443.0 646.2L1444.0 648.7L1445.0 651.3M1463.0 596.9L1464.0 597.9L1465.0 600.7" stroke="#ea5e4a" stroke-width="1" fill="none" stroke-linejoin="round"/>
<rect x="0" y="480" width="1874" height="1" fill="#000"/>
<rect x="0" y="700" width="1874" height="18" fill="#f0f0f0"/>
<rect x="0" y="699" width="1874" height="1" fill="#444"/>
<rect x="1814" y="17" width="60" height="463" fill="#f3f4f6"/>
<rect x="1814" y="496" width="60" height="203" fill="#f3f4f6"/>
<rect x="1813" y="16" width="61" height="1" fill="#444"/>
<rect x="1813" y="495" width="61" height="1" fill="#444"/>
<rect x="1813" y="16" width="1" height="464" fill="#444"/>
<rect x="1813" y="495" width="1" height="204" fill="#444"/>
<path d="M1814 31.5H1820M1814 43.5H1817M1814 55.5H1817M1814 67.5H1820M1814 79.5H1817M1814 91.5H1817M1814 103.5H1820M1814 116.5H1817M1814 128.5H1817M1814 140.5H1820M1814 152.5H1817M1814 164.5H1817M1814 176.5H1820M1814 188.5H1817M1814 200.5H1817M1814 212.5H1820M1814 224.5H1817M1814 236.5H1817M1814 248.5H1820M1814 260.5H1817M1814 273.5H1817M1814 285.5H1820M1814 297.5H1817M1814 309.5H1817M1814 321.5H1820M1814 333.5H1817M1814 345.5H1817M1814 357.5H1820M1814 369.5H1817M1814 381.5H1817M1814 393.5H1820M1814 405.5H1817M1814 417.5H1817M1814 430.5H1820M1814 442.5H1817M1814 454.5H1817M1814 466.5H1820M1814 501.5H1817M1814 511.5H1817M1814 521.5H1817M1814 534.5H1820M1814 544.5H1817M1814 554.5H1817M1814 564.5H1817M1814 576.5H1820M1814 586.5H1817M1814 596.5H1817M1814 606.5H1817M1814 618.5H1820M1814 628.5H1817M1814 638.5H1817M1814 648.5H1817M1814 661.5H1820M1814 671.5H1817M1814 681.5H1817M1814 691.5H1817" stroke="#444" stroke-width="1" fill="none" shape-rendering="crispEdges"/>
<text x="1824.5" y="36.8" font-size="14.8" fill="#333" textLength="22.8" lengthAdjust="spacingAndGlyphs">320</text>
<text x="1824.5" y="73.0" font-size="14.8" fill="#333" textLength="22.8" lengthAdjust="spacingAndGlyphs">300</text>
<text x="1824.5" y="109.3" font-size="14.8" fill="#333" textLength="22.8" lengthAdjust="spacingAndGlyphs">280</text>
<text x="1824.5" y="145.5" font-size="14.8" fill="#333" textLength="22.8" lengthAdjust="spacingAndGlyphs">260</text>
<text x="1824.5" y="217.9" font-size="14.8" fill="#333" textLength="22.8" lengthAdjust="spacingAndGlyphs">220</text>
<text x="1824.5" y="254.2" font-size="14.8" fill="#333" textLength="22.8" lengthAdjust="spacingAndGlyphs">200</text>
<text x="1824.5" y="290.4" font-size="14.8" fill="#333" textLength="22.8" lengthAdjust="spacingAndGlyphs">180</text>
<text x="1824.5" y="326.6" font-size="14.8" fill="#333" textLength="22.8" lengthAdjust="spacingAndGlyphs">160</text>
<text x="1824.5" y="362.9" font-size="14.8" fill="#333" textLength="22.8" lengthAdjust="spacingAndGlyphs">140</text>
<text x="1824.5" y="399.1" font-size="14.8" fill="#333" textLength="22.8" lengthAdjust="spacingAndGlyphs">120</text>
<text x="1824.5" y="435.3" font-size="14.8" fill="#333" textLength="22.8" lengthAdjust="spacingAndGlyphs">100</text>
<text x="1824.5" y="471.6" font-size="14.8" fill="#333" textLength="15.2" lengthAdjust="spacingAndGlyphs">80</text>
<text x="1824.5" y="539.8" font-size="14.8" fill="#333" textLength="15.2" lengthAdjust="spacingAndGlyphs">10</text>
<text x="1824.5" y="581.8" font-size="14.8" fill="#333" textLength="7.6" lengthAdjust="spacingAndGlyphs">5</text>
<text x="1824.5" y="666.8" font-size="14.8" fill="#333" textLength="12.6" lengthAdjust="spacingAndGlyphs">-5</text>
<clipPath id="c1"><rect x="1814" y="496" width="60" height="203"/></clipPath>
<g clip-path="url(#c1)"><text x="1825" y="496.7" font-size="14.5" fill="#333">15</text><text x="1825" y="707.6" font-size="14.5" fill="#333">-10</text></g>
<rect x="1823" y="166" width="51" height="30" fill="#3c8ee6"/>
<text x="1825.7" y="191" font-size="14.8" fill="#fff" textLength="41.8" lengthAdjust="spacingAndGlyphs">235,93</text>
<path d="M1814.5 181.5h7M1815 181.5l3-3M1815 181.5l3 3M1817.5 181.5l2.5-3M1817.5 181.5l2.5 3" stroke="#444" stroke-width="1" fill="none"/>
<rect x="1813" y="256" width="1.6" height="7" fill="#0000ff"/>
<path d="M1872.5 177v7.5h2" stroke="#e8f0fb" stroke-width="1" fill="none"/>
<rect x="1823" y="589" width="49" height="27" fill="#4a86c2"/>
<text x="1825.7" y="608.3" font-size="14.3" fill="#fff" textLength="41.8" lengthAdjust="spacingAndGlyphs">2,0293</text>
<rect x="1823" y="616" width="14" height="15" fill="#3a3a3a"/>
<text x="1825.5" y="626.5" font-size="14.5" fill="#fff">0</text>
<path d="M1814 602.5h7M1814.5 602.5l3-3M1814.5 602.5l3 3M1814 621.5h7M1814.5 621.5l3-3M1814.5 621.5l3 3" stroke="#444" stroke-width="1" fill="none"/>
<rect x="1846" y="4" width="11" height="10" fill="#fff"/><rect x="1858" y="4" width="11" height="10" fill="#fff"/><rect x="1871" y="4" width="3" height="10" fill="#fff"/>
<path d="M1848 12.5h8" stroke="#444" stroke-width="1"/><rect x="1860.5" y="6.5" width="7" height="6" fill="none" stroke="#444"/><rect x="1860" y="6" width="8" height="2" fill="#444"/><path d="M1872 6l3 3M1872 12l3-3" stroke="#444"/>
<path d="M1848 491.5h8" stroke="#444" stroke-width="1"/><rect x="1860.5" y="485.5" width="7" height="6" fill="none" stroke="#444"/><rect x="1860" y="485" width="8" height="2" fill="#444"/><path d="M1872.5 485l2 3M1872.5 492l2-3" stroke="#444"/>
<rect x="1864.5" y="19.5" width="12" height="20" fill="#fff" stroke="#aaa"/><path d="M1869.5 22v14M1869 22.5h6M1869 29.5h5M1869 35.5h6" stroke="#b5b5b5" stroke-width="1.4" fill="none"/>
<rect x="91" y="699" width="1" height="10" fill="#444"/>
<text x="93.8" y="718.8" font-size="14.5" fill="#333" textLength="30.6" lengthAdjust="spacingAndGlyphs">2012</text>
<rect x="298" y="699" width="1" height="10" fill="#444"/>
<text x="300.8" y="718.8" font-size="14.5" fill="#333" textLength="30.6" lengthAdjust="spacingAndGlyphs">2013</text>
<rect x="507" y="699" width="1" height="10" fill="#444"/>
<text x="509.8" y="718.8" font-size="14.5" fill="#333" textLength="30.6" lengthAdjust="spacingAndGlyphs">2014</text>
<rect x="716" y="699" width="1" height="10" fill="#444"/>
<text x="718.8" y="718.8" font-size="14.5" fill="#333" textLength="30.6" lengthAdjust="spacingAndGlyphs">2015</text>
<rect x="925" y="699" width="1" height="10" fill="#444"/>
<text x="927.8" y="718.8" font-size="14.5" fill="#333" textLength="30.6" lengthAdjust="spacingAndGlyphs">2016</text>
<rect x="1134" y="699" width="1" height="10" fill="#444"/>
<text x="1136.8" y="718.8" font-size="14.5" fill="#333" textLength="30.6" lengthAdjust="spacingAndGlyphs">2017</text>
<rect x="1342" y="699" width="1" height="10" fill="#444"/>
<text x="1344.8" y="718.8" font-size="14.5" fill="#333" textLength="30.6" lengthAdjust="spacingAndGlyphs">2018</text>
<rect x="1554" y="699" width="1" height="10" fill="#444"/>
<text x="1556.8" y="718.8" font-size="14.5" fill="#333" textLength="30.6" lengthAdjust="spacingAndGlyphs">2019</text>
<rect x="1770" y="699" width="1" height="10" fill="#444"/>
<text x="1772.8" y="718.8" font-size="14.5" fill="#333" textLength="30.6" lengthAdjust="spacingAndGlyphs">2020</text>
<rect x="1770" y="690" width="1" height="10" fill="#444"/>
<text x="1772.6" y="693.6" font-size="14.5" fill="#333" textLength="30.6" lengthAdjust="spacingAndGlyphs">2020</text>
<rect x="1806.5" y="704.5" width="17" height="16" fill="#fff" stroke="#a0a0a0"/>
<path d="M1811 709.5l2.5-2.5 4 4 3-3" stroke="#999" stroke-width="1.2" fill="none"/><path d="M1811 713l2.5-2.5 4 4 3-3" stroke="#3c9bd8" stroke-width="1.6" fill="none"/>
<rect x="1828.5" y="704.5" width="35" height="16" fill="#fff" stroke="#a0a0a0"/>
<rect x="1833" y="706" width="12" height="12" fill="#7f45b8"/><rect x="1835" y="706" width="8" height="1" fill="#d9c3ee"/><rect x="1835" y="707" width="8" height="5" fill="#fff"/><rect x="1836" y="714" width="6" height="4" fill="#fff"/><rect x="1837" y="715" width="1" height="1" fill="#7f45b8"/>
<path d="M1852 712.5h4M1855.5 709v7M1855.5 710.5h4.5v4h-4.5" stroke="#444" stroke-width="1" fill="none"/>
<rect x="1868.5" y="704.5" width="8" height="16" fill="#fff" stroke="#a0a0a0"/><rect x="1871" y="707" width="4" height="12" fill="#000"/>
<rect x="0" y="441" width="49" height="17" fill="#4a90e2"/>
<text x="-3" y="454" font-size="12.5" fill="#111" textLength="49" lengthAdjust="spacingAndGlyphs">n órdenes</text>
<text x="0" y="13.5" font-size="12.5" fill="#222" font-weight="normal" textLength="4.0" lengthAdjust="spacingAndGlyphs">-</text>
<text x="7" y="13.5" font-size="12.5" fill="#222" font-weight="normal" textLength="189.0" lengthAdjust="spacingAndGlyphs">Goldman Sachs Group, Inc. (The)</text>
<text x="199" y="13.5" font-size="12.5" fill="#222" font-weight="normal" textLength="5.0" lengthAdjust="spacingAndGlyphs">-</text>
<text x="213" y="13.5" font-size="12.5" fill="#222" font-weight="normal" textLength="18.0" lengthAdjust="spacingAndGlyphs">1 d</text>
<text x="237" y="13.5" font-size="12.5" fill="#222" font-weight="normal" textLength="36.0" lengthAdjust="spacingAndGlyphs">Dif. %:</text>
<text x="278" y="13.5" font-size="12.5" fill="#3b8be3" font-weight="normal" textLength="24.0" lengthAdjust="spacingAndGlyphs">0,79</text>
<text x="307" y="13.5" font-size="12.5" fill="#222" font-weight="normal" textLength="22.0" lengthAdjust="spacingAndGlyphs">Dif.:</text>
<text x="333" y="13.5" font-size="12.5" fill="#3b8be3" font-weight="normal" textLength="37.6" lengthAdjust="spacingAndGlyphs">1,8400</text>
<text x="376.5" y="13.5" font-size="12.5" fill="#222" font-weight="normal" textLength="69.1" lengthAdjust="spacingAndGlyphs">M: 236,9800</text>
<text x="452" y="13.5" font-size="12.5" fill="#222" font-weight="normal" textLength="69.0" lengthAdjust="spacingAndGlyphs">m: 234,0300</text>
<text x="527.5" y="13.5" font-size="12.5" fill="#222" font-weight="normal" textLength="77.5" lengthAdjust="spacingAndGlyphs">F: 06-08-2018</text>
<text x="611.5" y="13.5" font-size="12.5" fill="#ee1111" font-weight="normal" textLength="69.1" lengthAdjust="spacingAndGlyphs">P : 193,6300</text>
<text x="-1" y="493" font-size="12.5" fill="#4a86c2" font-weight="normal" textLength="14.0" lengthAdjust="spacingAndGlyphs">CD</text>
<text x="19.5" y="493" font-size="12.5" fill="#4a86c2" font-weight="normal" textLength="14.5" lengthAdjust="spacingAndGlyphs">GS</text>
<text x="40.4" y="493" font-size="12.5" fill="#4a86c2" font-weight="normal" textLength="39.6" lengthAdjust="spacingAndGlyphs">MACD:</text>
<text x="83.5" y="493" font-size="12.5" fill="#222" font-weight="normal" textLength="37.5" lengthAdjust="spacingAndGlyphs">2,0293</text>
<text x="127.4" y="493" font-size="12.5" fill="#4a86c2" font-weight="normal" textLength="58.6" lengthAdjust="spacingAndGlyphs">MediaSIG:</text>
<text x="190" y="493" font-size="12.5" fill="#222" font-weight="normal" textLength="37.0" lengthAdjust="spacingAndGlyphs">1,8682</text>
<text x="233" y="493" font-size="12.5" fill="#444" font-weight="normal" textLength="74.0" lengthAdjust="spacingAndGlyphs">Band MACD:</text>
<text x="311" y="493" font-size="12.5" fill="#222" font-weight="normal" textLength="36.6" lengthAdjust="spacingAndGlyphs">0,0000</text>
<text x="354" y="493" font-size="12.5" fill="#ee1111" font-weight="normal" textLength="58.3" lengthAdjust="spacingAndGlyphs">P: 11,3552</text>
<text x="1550" y="219.5" font-size="16" font-weight="bold" fill="#000" stroke="#000" stroke-width="0.8" stroke-linejoin="miter" word-spacing="1.8" textLength="225.0" lengthAdjust="spacing">POLARIDAD EN 220 USD</text>
<text x="1453" y="288.5" font-size="16" font-weight="bold" fill="#000" stroke="#000" stroke-width="0.8" stroke-linejoin="miter" word-spacing="1.8" textLength="199.0" lengthAdjust="spacing">192 USD ES EL 61,8%</text>
<text x="1314" y="532.5" font-size="16" font-weight="bold" fill="#000" stroke="#000" stroke-width="0.8" stroke-linejoin="miter" word-spacing="1.8" textLength="299.2" lengthAdjust="spacing">FUERTE DIVERGENCIA BAJISTA</text>
<text x="235.3" y="689.6" font-size="16" font-weight="bold" fill="#000" stroke="#000" stroke-width="0.8" stroke-linejoin="miter" word-spacing="1.8" textLength="321.3" lengthAdjust="spacing">WWW.INVERTIRYESPECULAR.COM</text>
</svg></body></html>
